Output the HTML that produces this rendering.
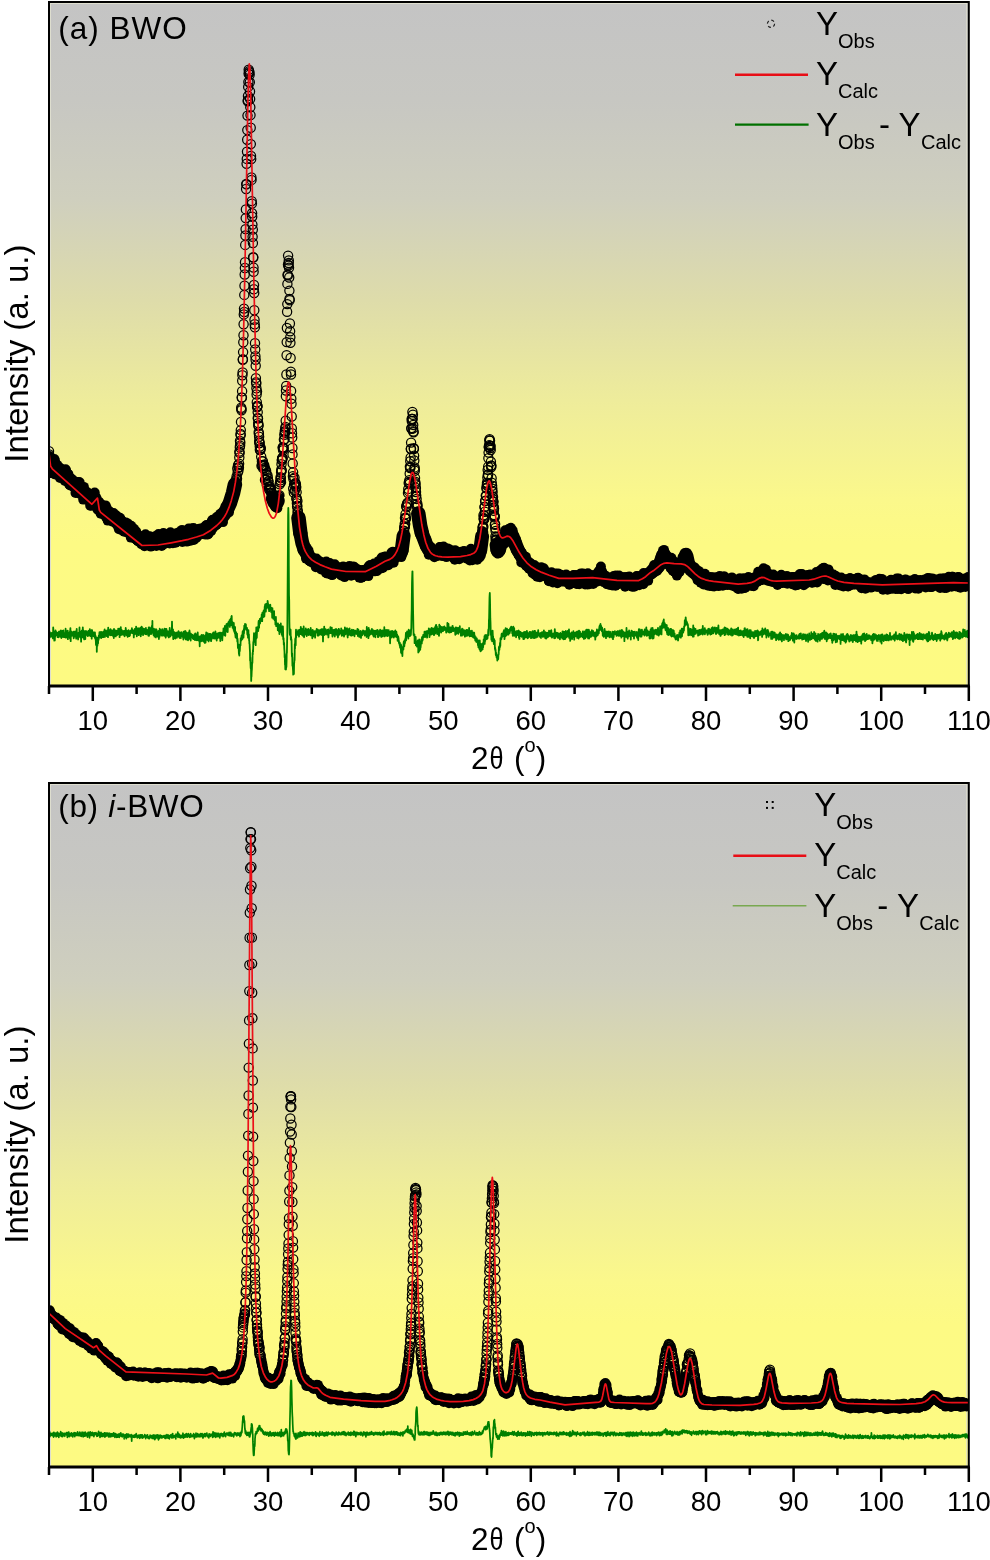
<!DOCTYPE html>
<html><head><meta charset="utf-8"><style>
html,body{margin:0;padding:0;background:#fff;}
svg{display:block;}
text{font-family:"Liberation Sans", Arial, sans-serif;fill:#000;}
.tl{font-size:27.5px;}
.al{font-size:31.5px;}
.il{font-size:33px;}
.pl{font-size:31.5px;}
.lg{font-size:33px;}
.sb{font-size:20px;}
.ul{fill:none;stroke:#000;stroke-linejoin:round;stroke-linecap:round;}
.ob{fill:none;stroke:none;marker-start:url(#mk);marker-mid:url(#mk);marker-end:url(#mk);}
.of{fill:none;stroke:none;marker-start:url(#mf);marker-mid:url(#mf);marker-end:url(#mf);}
.rc{fill:none;stroke:#ec1018;stroke-width:1.7;stroke-linejoin:round;}
.gA{fill:none;stroke:#008000;stroke-width:1.8;stroke-linejoin:round;}
.gB{fill:none;stroke:#008000;stroke-width:1.7;stroke-linejoin:round;}
</style></head><body>
<svg width="990" height="1560" viewBox="0 0 990 1560">
<defs><linearGradient id="bg" x1="0" y1="0" x2="0" y2="1">
<stop offset="0" stop-color="#c4c4c4"/>
<stop offset="0.143" stop-color="#c7c7c2"/>
<stop offset="0.289" stop-color="#cfcfbe"/>
<stop offset="0.436" stop-color="#dedcaa"/>
<stop offset="0.582" stop-color="#eeec9b"/>
<stop offset="0.728" stop-color="#fbf88b"/>
<stop offset="0.79" stop-color="#fdfa84"/>
<stop offset="1" stop-color="#fdfa82"/>
</linearGradient>
<marker id="mk" markerUnits="userSpaceOnUse" markerWidth="12" markerHeight="12" refX="6" refY="6" overflow="visible"><circle cx="6" cy="6" r="4.6" fill="none" stroke="#000" stroke-width="1.25"/></marker>
<marker id="mf" markerUnits="userSpaceOnUse" markerWidth="12" markerHeight="12" refX="6" refY="6" overflow="visible"><circle cx="6" cy="6" r="5" fill="#000"/></marker>
</defs>
<g transform="translate(0,0)">
<rect x="49" y="2" width="919.8" height="684" fill="url(#bg)"/>
<rect x="50.5" y="3.5" width="916.3" height="682" fill="none" stroke="#dedecf" stroke-width="1"/>
<svg x="49" y="2" width="919.8" height="684" viewBox="49 2 919.8 684" overflow="hidden"><path class="ul" stroke-width="12.5" d="M736.7 583.3 740 583.3M862.3 583.3 882.4 584.4 917.6 583.3"/>
<path class="ul" stroke-width="13" d="M324.8 566.7 331.4 569.1 344 571.3 360.3 571.8 365.4 571.7 375.7 566.7M530.3 566.6 535 569.8 540.8 572.7 558.8 579.3 596.1 578.9 597.6 577.7 599.5 572.5 600.4 571.5 603 578.1 604.7 579.8 617 581.1 633.6 581.2 638.7 581.1 642.6 579.1 653.8 570.7 658.2 566.7M673.8 566.4 675.5 569.9 676.6 570.8 677.6 569.9 679.2 566.7M689 566.2 690.6 569 695.8 574.2 699.5 577 703.4 578.8 711.6 580.7 736.7 583.3M740 583.3 748 582.6 752.3 581.6 755.6 579.6 761 574.8 763.1 573.9 765.6 574.6 771.7 579.5 773.8 580.2 776.6 580.4 810.4 579.2 815.5 577.9 822 574.1 824.4 573.4 827.1 574.2 834.4 579 839.7 581 847.9 582.3 862.3 583.3M917.6 583.3 953.6 582.2 968.8 582.5"/>
<path class="ul" stroke-width="13.5" d="M304.6 549.9 307.4 554.9 311.6 559.8 317.4 563.3 324.8 566.7M375.7 566.7 385 561.4 390.6 559.1 396.6 553.9 397.6 553.7 400.1 554.4 401 553.1 401.7 550.5M429 549.8 431.5 552.3 434.6 553.4 448.1 552.5 462.6 555.3 467.9 555.3 473 554.4 477.5 556.5 478.4 556 479.1 554.8 480.3 550M497.3 549.9 498 551.7 498.9 550.1M517.7 549.7 523.4 559.4 526.8 563.4 530.3 566.6M658.2 566.7 659.7 564.2 662.6 556 663.6 554.6 664.5 555.4 667.6 562 668.9 563 672 564.1 673.8 566.4M679.2 566.7 680.4 564.9 683 562.6 685.9 554.4 686.7 556.1 689 566.2"/>
<path class="ul" stroke-width="14" d="M132.6 533.2 142 540.5 158.1 540.2 181.6 536.4 194.2 533.4M300.4 533.3 302.3 543 304.6 549.9M401.7 550.5 403.6 535.7M421.8 532.9 426 544 429 549.8M480.3 550 482.1 536.4M496.6 544.9 497.3 549.9M498.9 550.1 501.7 540.2 508.5 533.4M510.5 533.3 512.6 536.6 517.7 549.7"/>
<path class="ul" stroke-width="14.5" d="M49.4 461 50.4 465.4 51.1 464.2 51.8 464.2 91.7 500.2 93.5 498.7 94.4 498.8 96.5 504.3 97 504.5 97.5 503.3 99.3 508.2 100.2 508 132.6 533.2M194.2 533.4 203.4 530.5 209.3 527.1 215.8 522.4 223.3 515 226.8 509.8 229.8 503.3 233 493.1 234.9 484.5M273.1 498.7 274.5 502 275.5 503.2 276.6 502.7 277.5 500.8M298.5 517.8 300.4 533.3M418.3 513.5 420.1 525.5 421.8 532.9M508.5 533.4 509.6 533 510.5 533.3"/>
<polyline class="of" points="49.5,456 49.9,465.6 50.2,466.1 50.6,473.1 50.9,458.3 51.3,458.2 51.6,470.2 52,464 52.3,463 52.7,467.3 53,462.6 53.4,465.2 53.7,473.7 54.1,468.2 54.4,459.1 54.8,460.2 55.1,468.9 55.5,465.9 55.8,474.6 56.2,468.8 56.5,466.7 56.9,468.6 57.2,464.7 57.6,467.3 57.9,469.4 58.3,466.5 58.6,468.5 59,471 59.3,472.4 59.7,469.4 60,477.9 60.4,474 60.7,468.2 61.1,475.4 61.4,472.1 61.8,473.3 62.1,470.7 62.5,472.7 62.8,475.6 63.2,471.6 63.5,472.3 63.9,474.6 64.2,474.2 64.6,474.2 64.9,480.9 65.3,475.2 65.6,469.3 66,470.3 66.3,476.4 66.7,477.3 67,477 67.4,478.5 67.7,474.1 68.1,474 68.4,474.3 68.8,478.4 69.1,484 69.5,484.7 69.8,479.3 70.2,485.4 70.5,483.4 70.9,483.5 71.3,480.5 71.6,480.1 72,479.2 72.3,484.5 72.7,486.2 73,484.2 73.4,481.8 73.7,481.5 74.1,481.2 74.4,484.3 74.8,485.2 75.1,481.9 75.5,492.9 75.8,485.2 76.2,490.2 76.5,490 76.9,490.9 77.2,482.6 77.6,492.7 77.9,489.1 78.3,484.9 78.6,482.1 79,492.3 79.3,492.1 79.7,482.3 80,493.9 80.4,488.1 80.7,493.8 81.1,487.5 81.4,492 81.8,493.5 82.1,492.9 82.5,492.5 82.8,494.4 83.2,499.6 83.5,492.2 83.9,486.9 84.2,490.9 84.6,494.5 84.9,495.3 85.3,495.1 85.6,496.1 86,494.3 86.3,491.7 86.7,491.8 87,500 87.4,498.3 87.7,498.5 88.1,495.2 88.4,498.1 88.8,499.5 89.1,493.7 89.5,498.5 89.8,496.5 90.2,505.8 90.5,496.5 90.9,499.8 91.2,500.9 91.6,505.6 91.9,499.5 92.3,503.1 92.6,499.6 93,499 93.3,498.6 93.7,499 94,496.4 94.4,495.5 94.7,492.6 95.1,498.3 95.4,502.4 95.8,500 96.1,501.1 96.5,503.3 96.8,502.1 97.2,505.9 97.5,504.1 97.9,502.1 98.2,502.6 98.6,509 98.9,508.7 99.3,506.5 99.6,504 100,506 100.3,510.6 100.7,513.8 101,509.4 101.4,507.7 101.7,504.6 102.1,506.1 102.4,512.7 102.8,507.7 103.1,507 103.5,510.3 103.8,514.4 104.2,508.1 104.5,509.7 104.9,510.6 105.2,509.3 105.6,505.4 105.9,517 106.3,511.9 106.6,507.7 107,512.4 107.3,519 107.7,520.6 108,515.4 108.4,515.1 108.7,511.5 109.1,511 109.4,515.6 109.8,519.9 110.1,517.9 110.5,517.2 110.8,512.6 111.2,520.2 111.5,515.8 111.9,521.5 112.2,517.6 112.6,517.1 112.9,516.8 113.3,517.2 113.6,513.1 114,518.9 114.3,518.6 114.7,516.1 115.1,520 115.4,522.6 115.8,520.7 116.1,516.1 116.5,515.5 116.8,524.8 117.2,521 117.5,523.7 117.9,525.3 118.2,523.5 118.6,518.4 118.9,529.2 119.3,522.3 119.6,522.6 120,517.7 120.3,519.5 120.7,527.7 121,519.5 121.4,527.3 121.7,523.1 122.1,528.3 122.4,525.8 122.8,530.6 123.1,521.7 123.5,526 123.8,528.6 124.2,531.6 124.5,526.9 124.9,531.6 125.2,527.6 125.6,529.5 125.9,522.6 126.3,525.6 126.6,530.6 127,532.2 127.3,528.2 127.7,523.4 128,526.4 128.4,532.5 128.7,530.7 129.1,528.1 129.4,532.3 129.8,526.8 130.1,529.7 130.5,534.6 130.8,537.6 131.2,525.7 131.5,531.5 131.9,532.8 132.2,531.8 132.6,528.2 132.9,529.9 133.3,534.4 133.6,536.6 134,528.7 134.3,535 134.7,534.7 135,538.6 135.4,534.3 135.7,534.4 136.1,531.4 136.4,536.6 136.8,539.9 137.1,540.2 137.5,534.4 137.8,540.8 138.2,541.4 138.5,536.9 138.9,540.7 139.2,536.8 139.6,539.7 139.9,538.3 140.3,537.2 140.6,537.5 141,541 141.3,544.1 141.7,536.7 142,542.2 142.4,539.4 142.7,539.4 143.1,539.4 143.4,537.5 143.8,540 144.1,538.9 144.5,546.3 144.8,541.4 145.2,540.4 145.5,534.2 145.9,540 146.2,539.8 146.6,541.5 146.9,541.9 147.3,540 147.6,537.1 148,538.2 148.3,537.2 148.7,537.8 149,537.4 149.4,536.5 149.7,539.9 150.1,536.7 150.4,536.5 150.8,546.6 151.1,542.4 151.5,545.2 151.8,541.4 152.2,539.5 152.5,543.2 152.9,538.7 153.2,541.4 153.6,539.1 153.9,539.1 154.3,544.3 154.6,540.1 155,538.4 155.3,536.3 155.7,536.6 156,540.5 156.4,546 156.7,539 157.1,538.8 157.4,538.5 157.8,539.1 158.1,538.8 158.5,534 158.9,542.3 159.2,534.9 159.6,542 159.9,539.2 160.3,543.3 160.6,542.5 161,538.9 161.3,538.2 161.7,546 162,538 162.4,543.3 162.7,544.1 163.1,541 163.4,533.1 163.8,537.6 164.1,538.6 164.5,543.9 164.8,535.4 165.2,538.5 165.5,541.2 165.9,536.5 166.2,538.8 166.6,537.8 166.9,542.3 167.3,536.8 167.6,534.7 168,538.5 168.3,541.5 168.7,533.9 169,537.1 169.4,537.1 169.7,543.5 170.1,534 170.4,532.3 170.8,536.1 171.1,539.7 171.5,538.3 171.8,536.7 172.2,535.5 172.5,533.8 172.9,543.2 173.2,534.7 173.6,540.3 173.9,537.7 174.3,534.6 174.6,537.8 175,537.4 175.3,539 175.7,542.8 176,541.6 176.4,533.3 176.7,535.9 177.1,535.3 177.4,540.1 177.8,540.2 178.1,539.7 178.5,537.8 178.8,532.5 179.2,532.3 179.5,534.7 179.9,532.6 180.2,532.2 180.6,537.1 180.9,536.7 181.3,536.9 181.6,537.2 182,529.9 182.3,541.9 182.7,532.9 183,533.4 183.4,538.3 183.7,532.3 184.1,535.4 184.4,541.3 184.8,536.1 185.1,539.6 185.5,536.2 185.8,534.2 186.2,536.4 186.5,537.7 186.9,541.6 187.2,536 187.6,534.5 187.9,532.5 188.3,536.2 188.6,528.6 189,537.5 189.3,535.9 189.7,537.4 190,534.4 190.4,539.6 190.7,540.7 191.1,535.6 191.4,528.6 191.8,532.7 192.1,535 192.5,535.1 192.8,534.4 193.2,538.1 193.5,528.1 193.9,539.9 194.2,533.7 194.6,533.7 194.9,537.1 195.3,529.9 195.6,531.3 196,536.5 196.3,537.9 196.7,533.7 197,536.5 197.4,531.2 197.7,536.3 198.1,532.4 198.4,532.5 198.8,529 199.1,530.3 199.5,532.3 199.8,529.1 200.2,532.2 200.5,528.4 200.9,530.7 201.2,532.4 201.6,533.1 201.9,531.8 202.3,529.5 202.7,534 203,530.7 203.4,528.5 203.7,531.4 204.1,532.9 204.4,530.5 204.8,531.8 205.1,529.4 205.5,534.6 205.8,525.7 206.2,528.9 206.5,525.1 206.9,531.3 207.2,529.1 207.6,531.5 207.9,534.5 208.3,533.9 208.6,528.4 209,527.1 209.3,529.9 209.7,527.7 210,529.4 210.4,529 210.7,523.3 211.1,531.3 211.4,523.1 211.8,521.1 212.1,523.4 212.5,519.8 212.8,528.1 213.2,525.4 213.5,526.9 213.9,526.1 214.2,524.1 214.6,523.3 214.9,524.7 215.3,521.5 215.6,518.8 216,525.1 216.3,520.5 216.7,517.1 217,524.3 217.4,518.3 217.7,523 218.1,522.1 218.4,520.5 218.8,520.8 219.1,518.1 219.5,516 219.8,519.9 220.2,513.7 220.5,517.1 220.9,516.3 221.2,518.3 221.6,516.3 221.9,515.8 222.3,518.7 222.6,512.7 223,522.1 223.3,517.1 223.7,511.4 224,512.7 224.4,515.6 224.7,513.1 225.1,512.6 225.4,506.5 225.8,512.1 226.1,511 226.5,508.5 226.8,510.3 227.2,509.4 227.5,503.8 227.9,510.2 228.2,512.1 228.6,510.2 228.9,512.4 229.3,504.5 229.6,504.5 230,504.3 230.3,502.1 230.7,499 231,500.4 231.4,499.8 231.7,498.6 232.1,493.2 232.4,491.1 232.8,496.7 233.1,499 233.5,490.9 233.8,495 234.2,489.7 234.5,491.9 234.9,483 273.1,499.6 273.4,501.9 273.8,504.3 274.1,500.9 274.5,500.5 274.8,505.9 275.2,504.2 275.5,507.3 275.9,506.4 276.2,503.8 276.6,505.3 276.9,499.7 277.3,508.3 298.7,519 299,518.3 299.4,526.2 299.7,529.8 300.1,528.6 300.4,533.6 300.8,532.5 301.1,537.9 301.5,541.1 301.8,540.1 302.2,544.2 302.5,550 302.9,545.1 303.2,546.8 303.6,548.8 303.9,547.1 304.3,549.4 304.6,549.6 305,551.9 305.3,550.8 305.7,552.9 306,558.6 306.4,554.1 306.7,547.8 307.1,557.9 307.4,556.1 307.8,556.5 308.1,556.7 308.5,550.4 308.8,559.6 309.2,560.6 309.5,553.8 309.9,555.8 310.2,558.7 310.6,561.1 310.9,561.9 311.3,558.1 311.6,560 312,559.9 312.3,559.1 312.7,557.8 313,558.9 313.4,558.3 313.7,562.4 314.1,561.7 314.4,561 314.8,560 315.1,561.8 315.5,562.2 315.8,567.2 316.2,561.2 316.5,558.6 316.9,564.8 317.2,561.6 317.6,562.2 317.9,566.6 318.3,561.6 318.6,561.9 319,563.2 319.3,562.6 319.7,561.2 320,565.5 320.4,565.7 320.7,564 321.1,569.5 321.4,562.3 321.8,564.7 322.1,567.4 322.5,565.4 322.8,566.1 323.2,566.1 323.5,565.6 323.9,567.8 324.2,566.9 324.6,565.3 324.9,565.3 325.3,565.2 325.6,569.5 326,573 326.3,561.5 326.7,564.8 327,571.9 327.4,565.7 327.7,573.6 328.1,569.9 328.4,563.4 328.8,571.4 329.1,568.9 329.5,572.3 329.8,563 330.2,568.6 330.5,569.4 330.9,569.1 331.2,574.8 331.6,567.9 331.9,568.8 332.3,575.1 332.6,569.5 333,572 333.3,568.1 333.7,572.1 334.1,568.1 334.4,572.9 334.8,564.2 335.1,571.3 335.5,567.5 335.8,568.8 336.2,567.6 336.5,570.6 336.9,570.1 337.2,572 337.6,568.5 337.9,570 338.3,570.3 338.6,572 339,569.5 339.3,567.3 339.7,573 340,571.8 340.4,574.2 340.7,574.2 341.1,575.4 341.4,572.6 341.8,569.9 342.1,573.6 342.5,570.9 342.8,569.6 343.2,566.5 343.5,569 343.9,567.9 344.2,571.7 344.6,577.1 344.9,572.1 345.3,572 345.6,567.4 346,569.3 346.3,572.4 346.7,574.3 347,570.9 347.4,572.7 347.7,571 348.1,571.1 348.4,573.5 348.8,570.7 349.1,571.3 349.5,565.9 349.8,567.2 350.2,571.4 350.5,569.1 350.9,574.7 351.2,575.8 351.6,568.9 351.9,572 352.3,571.6 352.6,571.2 353,571.1 353.3,566.4 353.7,571.4 354,571.8 354.4,568.8 354.7,567.3 355.1,571.9 355.4,571.8 355.8,570.2 356.1,574.7 356.5,571.5 356.8,575.3 357.2,572.7 357.5,569.3 357.9,569.7 358.2,572.4 358.6,570 358.9,575 359.3,577.6 359.6,571.1 360,572.2 360.3,572.2 360.7,577.6 361,577.6 361.4,577.6 361.7,571.6 362.1,571.6 362.4,572.6 362.8,570.7 363.1,573.9 363.5,570 363.8,576.5 364.2,572.7 364.5,573.1 364.9,571 365.2,574.7 365.6,572.3 365.9,573.5 366.3,569.1 366.6,569.7 367,570.7 367.3,570.7 367.7,569.9 368,569.8 368.4,576.1 368.7,566.2 369.1,566.3 369.4,571.5 369.8,567.1 370.1,565.1 370.5,566.8 370.8,568.2 371.2,566.2 371.5,570.8 371.9,568.4 372.2,571.2 372.6,570.3 372.9,565.7 373.3,568.4 373.6,566.1 374,563.5 374.3,571.2 374.7,565.9 375,568.3 375.4,571.2 375.7,566 376.1,565.3 376.4,565.9 376.8,571.1 377.1,564.5 377.5,562.9 377.9,567.4 378.2,567.7 378.6,566.7 378.9,560.9 379.3,564.4 379.6,561 380,566 380.3,568.7 380.7,568.3 381,565.2 381.4,564.2 381.7,557.5 382.1,558.9 382.4,558.1 382.8,567.9 383.1,561.1 383.5,557.5 383.8,563 384.2,559.8 384.5,556.7 384.9,561.4 385.2,560.1 385.6,556.6 385.9,560 386.3,565.5 386.6,562.5 387,561.1 387.3,558.6 387.7,564.2 388,557.6 388.4,565.3 388.7,558.7 389.1,561 389.4,556.9 389.8,557.8 390.1,558.6 390.5,560.2 390.8,557.3 391.2,559.1 391.5,552.5 391.9,558.2 392.2,556.7 392.6,554.9 392.9,551.7 393.3,555.1 393.6,562.8 394,552.3 394.3,559.1 394.7,559 395,557 395.4,551.9 395.7,555.8 396.1,557.2 396.4,555.6 396.8,553.2 397.1,552.7 397.5,555.6 397.8,555.5 398.2,555.6 398.5,553.4 398.9,551.9 399.2,551.9 399.6,552.9 399.9,554.2 400.3,552.6 400.6,552.7 401,554.3 401.3,557.1 401.7,551.4 402,553.2 402.4,547.2 402.7,546.4 403.1,543.4 403.4,537.5 418.3,512.8 418.7,518.7 419,515.5 419.4,524.8 419.7,524.6 420.1,529.3 420.4,526.7 420.8,535.7 421.1,533.6 421.5,533.5 421.8,530 422.2,534.8 422.5,530 422.9,536.2 423.2,535 423.6,535.1 423.9,542.1 424.3,538.9 424.6,540.8 425,546.8 425.3,540.5 425.7,542.3 426,544.1 426.4,539.4 426.7,545.4 427.1,547.4 427.4,547.4 427.8,548.8 428.1,550.4 428.5,545.4 428.8,554.7 429.2,549.1 429.5,553.2 429.9,552.7 430.2,550 430.6,547.6 430.9,553.3 431.3,547.2 431.6,550.4 432,554.7 432.3,553.7 432.7,552.9 433,553.6 433.4,552.8 433.7,550.3 434.1,553 434.4,557.3 434.8,554.5 435.1,554.4 435.5,554 435.8,555.5 436.2,555.6 436.5,552.8 436.9,553.6 437.2,550.4 437.6,554.7 437.9,555.4 438.3,555.7 438.6,551.2 439,552.3 439.3,550.5 439.7,547.1 440,551.8 440.4,552.2 440.7,546.9 441.1,552.1 441.4,553.9 441.8,555.6 442.1,550.7 442.5,550.8 442.8,556.1 443.2,554.3 443.6,546.6 443.9,551.4 444.3,549.2 444.6,552.1 445,552.4 445.3,548.2 445.7,553.4 446,550.5 446.4,557.1 446.7,550.9 447.1,552.7 447.4,554 447.8,548.5 448.1,550.8 448.5,550.5 448.8,551 449.2,555.7 449.5,552.4 449.9,549.6 450.2,553.2 450.6,552.3 450.9,552.4 451.3,554.5 451.6,553.5 452,552.6 452.3,555.3 452.7,557.5 453,552.8 453.4,553 453.7,556.2 454.1,551.6 454.4,555.5 454.8,559.8 455.1,550.3 455.5,555.4 455.8,554.8 456.2,552.1 456.5,552.8 456.9,551.4 457.2,554.7 457.6,553.5 457.9,558.2 458.3,556.5 458.6,552.6 459,554.8 459.3,559.2 459.7,555.5 460,554.3 460.4,554.7 460.7,556 461.1,554.2 461.4,555.7 461.8,552.8 462.1,555.3 462.5,551.4 462.8,556 463.2,552.9 463.5,557.1 463.9,554.1 464.2,551.1 464.6,556 464.9,557.5 465.3,557.2 465.6,557.5 466,556.8 466.3,558.5 466.7,553.2 467,557.4 467.4,553.7 467.7,552.4 468.1,556.8 468.4,552.2 468.8,554.3 469.1,555.2 469.5,554.8 469.8,560.5 470.2,553 470.5,558.5 470.9,548.7 471.2,554.1 471.6,557.7 471.9,556.2 472.3,560.2 472.6,556.3 473,550.6 473.3,551.6 473.7,555.3 474,551 474.4,554.7 474.7,557.4 475.1,559.1 475.4,557.1 475.8,555.5 476.1,556.8 476.5,551.1 476.8,550.8 477.2,559.8 477.5,557.2 477.9,554.3 478.2,549.9 478.6,551.6 478.9,552.5 479.3,555.1 479.6,554.3 480,549.6 480.3,550.9 480.7,547.8 481,549.6 481.4,541.3 481.7,539.1 482.1,531.1 496.8,546.7 497.2,544.2 497.5,548.6 497.9,547.9 498.2,553.2 498.6,548.6 498.9,543.6 499.3,546.2 499.6,547.1 500,551.3 500.3,544.7 500.7,543.5 501,540.2 501.4,540.1 501.7,537.5 502.1,538.2 502.4,540.8 502.8,541.1 503.1,537.6 503.5,540 503.8,535.6 504.2,535.8 504.5,538.7 504.9,543.5 505.2,530.3 505.6,533.7 505.9,534.3 506.3,533.7 506.6,534.1 507,531.9 507.3,535.9 507.7,537.4 508,533.3 508.4,534.8 508.7,529.1 509.1,529.8 509.4,534.8 509.8,534.7 510.1,536.8 510.5,529.7 510.8,527.8 511.2,530.4 511.5,534 511.9,537.8 512.2,533.7 512.6,530.2 512.9,534.4 513.3,542.5 513.6,537.9 514,545.8 514.3,539.5 514.7,542.1 515,543.4 515.4,542.2 515.7,541.7 516.1,539.7 516.4,549.3 516.8,542.6 517.1,549.2 517.5,549.4 517.8,552.1 518.2,554.1 518.5,552.2 518.9,555.5 519.2,549.1 519.6,552.4 519.9,550.8 520.3,552 520.6,557.7 521,552 521.3,562.5 521.7,552.6 522,559.4 522.4,555.6 522.7,557.8 523.1,555.8 523.4,557.6 523.8,561.6 524.1,560.3 524.5,561.1 524.8,563.2 525.2,559.7 525.5,559.3 525.9,556.8 526.2,565.9 526.6,565.5 526.9,566.1 527.3,560.9 527.6,561.4 528,563.4 528.3,564.7 528.7,566.7 529,568.8 529.4,562.9 529.7,566.8 530.1,562.8 530.4,566.2 530.8,566 531.2,565.4 531.5,565.7 531.9,570.7 532.2,568.4 532.6,573.2 532.9,569 533.3,568.4 533.6,570.7 534,569.5 534.3,565.1 534.7,567.4 535,574.6 535.4,567.8 535.7,566.9 536.1,571.5 536.4,568.3 536.8,567.3 537.1,576.7 537.5,568.4 537.8,574.8 538.2,568.6 538.5,569.9 538.9,570.3 539.2,569.1 539.6,572.4 539.9,577.3 540.3,570 540.6,568.6 541,573.9 541.3,567.2 541.7,575.4 542,576 542.4,571.9 542.7,574.6 543.1,569.5 543.4,570.4 543.8,568.2 544.1,575.4 544.5,571.5 544.8,573.4 545.2,573.1 545.5,573.3 545.9,571.5 546.2,572.9 546.6,576.7 546.9,575.9 547.3,574.9 547.6,574.4 548,578.4 548.3,578.1 548.7,580.6 549,581.2 549.4,574.2 549.7,576.6 550.1,573.3 550.4,579 550.8,577.1 551.1,577.6 551.5,572.2 551.8,574.6 552.2,578.8 552.5,575.2 552.9,582.4 553.2,578.6 553.6,574.4 553.9,577.3 554.3,578.4 554.6,579.8 555,581.6 555.3,573.4 555.7,576 556,579.2 556.4,579.1 556.7,575.9 557.1,578 557.4,583.3 557.8,581.8 558.1,573.4 558.5,574.1 558.8,581.3 559.2,578.3 559.5,579.2 559.9,578.5 560.2,578.7 560.6,577.1 560.9,574.8 561.3,579.5 561.6,576.1 562,578 562.3,581.6 562.7,580 563,580.6 563.4,576.2 563.7,579.5 564.1,579.4 564.4,578.3 564.8,575.7 565.1,576.5 565.5,580.3 565.8,582 566.2,574.6 566.5,579.1 566.9,577.3 567.2,581.1 567.6,580.1 567.9,577.9 568.3,581.8 568.6,581.6 569,579.2 569.3,584.8 569.7,578.5 570,582.5 570.4,576.7 570.7,577.9 571.1,578 571.4,578 571.8,582.2 572.1,583 572.5,577.8 572.8,580.2 573.2,575.9 573.5,575.1 573.9,583 574.2,575.3 574.6,576.9 575,577.8 575.3,581.2 575.7,580.4 576,576.5 576.4,583.4 576.7,584 577.1,575.1 577.4,580 577.8,579.8 578.1,575.7 578.5,580.1 578.8,582.6 579.2,584.3 579.5,581.4 579.9,580.2 580.2,581.6 580.6,574.2 580.9,573.4 581.3,580.2 581.6,582 582,574.5 582.3,579 582.7,581.4 583,573.6 583.4,580 583.7,579.7 584.1,576.2 584.4,574.8 584.8,574.7 585.1,584.5 585.5,582.2 585.8,576.8 586.2,576.9 586.5,576.2 586.9,577.5 587.2,580.8 587.6,584.4 587.9,573.2 588.3,580 588.6,578.4 589,578.4 589.3,584.3 589.7,580.5 590,579.4 590.4,579 590.7,582.4 591.1,575.5 591.4,575.5 591.8,577.5 592.1,579.9 592.5,579.8 592.8,575.5 593.2,583.9 593.5,580.3 593.9,578.2 594.2,575.3 594.6,579.2 594.9,577 595.3,580.8 595.6,580.6 596,579.4 596.3,577.5 596.7,581.7 597,577.9 597.4,578.9 597.7,579.4 598.1,575.7 598.4,573.9 598.8,576 599.1,574.3 599.5,574.5 599.8,574.7 600.2,569.6 600.5,570.8 600.9,566.5 601.2,578.6 601.6,574.2 601.9,575.3 602.3,578.2 602.6,574.8 603,576.4 603.3,576.9 603.7,582.1 604,575.1 604.4,577.8 604.7,577.5 605.1,581.5 605.4,576.4 605.8,577.3 606.1,576.1 606.5,579.1 606.8,584.1 607.2,579 607.5,583 607.9,580.5 608.2,581.5 608.6,577.9 608.9,584.8 609.3,580.6 609.6,580.8 610,583.5 610.3,578.9 610.7,577.9 611,581.2 611.4,585.2 611.7,584 612.1,582.9 612.4,582 612.8,585.4 613.1,581 613.5,582.9 613.8,575.9 614.2,582.7 614.5,581 614.9,584 615.2,582.2 615.6,585.8 615.9,575.4 616.3,579.7 616.6,581 617,581.9 617.3,581.9 617.7,577.6 618,577 618.4,584 618.8,581.1 619.1,575.6 619.5,583.4 619.8,578.7 620.2,582.8 620.5,581.2 620.9,580.7 621.2,581.7 621.6,579.2 621.9,580.6 622.3,582.8 622.6,577.3 623,577.3 623.3,580.3 623.7,580.1 624,582.8 624.4,578.7 624.7,578.9 625.1,586.7 625.4,578.3 625.8,582.9 626.1,577.3 626.5,580 626.8,577 627.2,578.8 627.5,580.2 627.9,582.6 628.2,577.8 628.6,581.2 628.9,578.3 629.3,576.6 629.6,584.3 630,578.4 630.3,582.3 630.7,577.7 631,580.7 631.4,583.7 631.7,579.4 632.1,586.8 632.4,579.9 632.8,580.6 633.1,582.9 633.5,580.9 633.8,578.6 634.2,586.8 634.5,578.2 634.9,584.2 635.2,581.8 635.6,583.6 635.9,578.2 636.3,580.2 636.6,576 637,580.9 637.3,580 637.7,576.2 638,583 638.4,577.6 638.7,581.6 639.1,585.3 639.4,578.8 639.8,582.8 640.1,580.4 640.5,580.2 640.8,576.1 641.2,577.6 641.5,578.8 641.9,579 642.2,578.5 642.6,576.2 642.9,580 643.3,584.3 643.6,573.1 644,582.3 644.3,578.9 644.7,579.3 645,573.8 645.4,575.2 645.7,577.4 646.1,577.9 646.4,577 646.8,575.6 647.1,574.1 647.5,573.5 647.8,574 648.2,580.7 648.5,575.7 648.9,576.4 649.2,571.7 649.6,573.8 649.9,573.1 650.3,574.1 650.6,574.7 651,570 651.3,573.3 651.7,574.1 652,571.6 652.4,568.3 652.7,570.4 653.1,572.6 653.4,568.3 653.8,570.9 654.1,565.1 654.5,571.8 654.8,570.2 655.2,566.7 655.5,568 655.9,569.5 656.2,567.2 656.6,567 656.9,570.9 657.3,570.2 657.6,567.8 658,568.2 658.3,567.5 658.7,562.3 659,565.4 659.4,566.6 659.7,566.2 660.1,561.8 660.4,557.5 660.8,560.2 661.1,557.6 661.5,554.4 661.8,556.5 662.2,554.5 662.6,553.9 662.9,550.9 663.3,556.9 663.6,552.2 664,549.9 664.3,555.3 664.7,552.4 665,557.3 665.4,558.8 665.7,558.5 666.1,562.3 666.4,563.6 666.8,560.9 667.1,558.4 667.5,561.3 667.8,556.5 668.2,558.5 668.5,563 668.9,565 669.2,562.5 669.6,558.1 669.9,560.6 670.3,563.4 670.6,568.3 671,565.9 671.3,557.8 671.7,560.5 672,559.4 672.4,567.3 672.7,570.7 673.1,561 673.4,562.3 673.8,569.8 674.1,563.6 674.5,571.9 674.8,564.7 675.2,572.2 675.5,565.5 675.9,566.1 676.2,568.3 676.6,572.6 676.9,575.6 677.3,573.1 677.6,568.1 678,572.8 678.3,570.5 678.7,567.1 679,569.5 679.4,572.3 679.7,562.6 680.1,568 680.4,570 680.8,562.7 681.1,568.6 681.5,567.5 681.8,567.1 682.2,564.5 682.5,557.4 682.9,566.5 683.2,565.5 683.6,562.3 683.9,558.4 684.3,557.8 684.6,554.7 685,557.6 685.3,555.1 685.7,555.5 686,554.1 686.4,554 686.7,554.6 687.1,557.5 687.4,561.2 687.8,562.1 688.1,558.2 688.5,560.6 688.8,565.6 689.2,565.6 689.5,567.1 689.9,571.3 690.2,568.9 690.6,570.2 690.9,567.6 691.3,570.5 691.6,565.2 692,570.2 692.3,573.3 692.7,567.4 693,568.3 693.4,572.3 693.7,570.6 694.1,573.3 694.4,570.8 694.8,567.6 695.1,570.5 695.5,573 695.8,569.6 696.2,569.5 696.5,572.7 696.9,576.8 697.2,575.9 697.6,580.2 697.9,576.3 698.3,574.6 698.6,570.9 699,573.2 699.3,577 699.7,575.3 700,577.2 700.4,578.5 700.7,582.6 701.1,577.9 701.4,581.9 701.8,573.5 702.1,581.1 702.5,578.6 702.8,578.6 703.2,580.7 703.5,584.5 703.9,578.8 704.2,578.3 704.6,583.6 704.9,573.8 705.3,578.3 705.6,582.7 706,578.4 706.4,579.6 706.7,583.9 707.1,581.9 707.4,585.5 707.8,578.5 708.1,580.2 708.5,579.2 708.8,581.9 709.2,580.9 709.5,582 709.9,586 710.2,583.9 710.6,577.1 710.9,578.5 711.3,579.4 711.6,581.9 712,578.2 712.3,586.3 712.7,579 713,580.3 713.4,581.9 713.7,577.2 714.1,586.5 714.4,583.5 714.8,581.5 715.1,583.4 715.5,580.5 715.8,580.6 716.2,582.7 716.5,584.3 716.9,581.8 717.2,578.8 717.6,579.5 717.9,576.9 718.3,578.3 718.6,586.1 719,581.3 719.3,577 719.7,576.1 720,581.8 720.4,581.8 720.7,577.2 721.1,583.1 721.4,579.1 721.8,581.9 722.1,579 722.5,582.8 722.8,585.7 723.2,579.1 723.5,576.5 723.9,579.3 724.2,578.5 724.6,576.6 724.9,578.9 725.3,583.3 725.6,580 726,581.3 726.3,582.2 726.7,582.1 727,582.4 727.4,585.1 727.7,581.2 728.1,581.3 728.4,582.6 728.8,580.4 729.1,582.1 729.5,580.9 729.8,582 730.2,579.2 730.5,581.3 730.9,580.8 731.2,580.9 731.6,585.4 731.9,577.4 732.3,582.1 732.6,579.1 733,584.6 733.3,584 733.7,585.7 734,579.7 734.4,581.3 734.7,586.3 735.1,586.4 735.4,583.4 735.8,582.4 736.1,581.8 736.5,587.4 736.8,586.9 737.2,584.3 737.5,582.7 737.9,588.5 738.2,588.9 738.6,587 738.9,580.9 739.3,578.5 739.6,582.2 740,582.9 740.3,578.4 740.7,581.9 741,585.7 741.4,581.7 741.7,588.7 742.1,588 742.4,580.7 742.8,585.5 743.1,583 743.5,580.1 743.8,578.3 744.2,580.9 744.5,583.3 744.9,587.9 745.2,580.6 745.6,587.4 745.9,582 746.3,580.6 746.6,582.1 747,584.5 747.3,579.4 747.7,579.9 748,584.3 748.4,577.1 748.7,585.3 749.1,584.8 749.4,580.3 749.8,582.5 750.2,583.4 750.5,585.4 750.9,583.5 751.2,580.1 751.6,584.2 751.9,578.1 752.3,585.9 752.6,578.8 753,581.9 753.3,581.2 753.7,586.2 754,577.4 754.4,583.7 754.7,582.1 755.1,578.8 755.4,582.2 755.8,577.1 756.1,579.4 756.5,578.8 756.8,580.9 757.2,581.9 757.5,579.9 757.9,578.6 758.2,571.7 758.6,577.4 758.9,578.9 759.3,580.7 759.6,573.6 760,572.4 760.3,579.1 760.7,574.4 761,578.5 761.4,575.3 761.7,579.9 762.1,579.8 762.4,571.7 762.8,573.9 763.1,573 763.5,568.3 763.8,576.5 764.2,570.7 764.5,573.1 764.9,577.4 765.2,573 765.6,573.7 765.9,569.4 766.3,575.6 766.6,575.5 767,572.9 767.3,573.1 767.7,580.6 768,580.3 768.4,580.8 768.7,578.1 769.1,574.2 769.4,577.8 769.8,579.3 770.1,574.8 770.5,575.5 770.8,577.5 771.2,578 771.5,581.7 771.9,578.9 772.2,579.1 772.6,579.8 772.9,576.4 773.3,574.5 773.6,581.6 774,581.9 774.3,580.9 774.7,581.8 775,578.6 775.4,577.1 775.7,581 776.1,578.9 776.4,577.8 776.8,583 777.1,582.6 777.5,584.9 777.8,581.8 778.2,578 778.5,580.5 778.9,582.2 779.2,579 779.6,581.4 779.9,579.2 780.3,582.5 780.6,580.4 781,582.8 781.3,574.7 781.7,582.4 782,580.6 782.4,583.1 782.7,580.1 783.1,579.4 783.4,581.3 783.8,578.8 784.1,579.7 784.5,578 784.8,577.9 785.2,581.7 785.5,578.8 785.9,581.1 786.2,579 786.6,581.4 786.9,575.9 787.3,583.8 787.6,581.5 788,577.9 788.3,581.9 788.7,579.3 789,580.2 789.4,578.3 789.7,580.7 790.1,578.8 790.4,581.2 790.8,581.6 791.1,582.7 791.5,579.4 791.8,577.5 792.2,584.2 792.5,577.5 792.9,576.9 793.2,577.2 793.6,584.1 794,580.5 794.3,579.3 794.7,582.2 795,577.9 795.4,585.4 795.7,584.7 796.1,580.2 796.4,577.2 796.8,577 797.1,585.1 797.5,579.5 797.8,577.1 798.2,582.4 798.5,583.9 798.9,575.2 799.2,580.7 799.6,577.8 799.9,574.1 800.3,578.9 800.6,578.3 801,578.7 801.3,582.2 801.7,578.7 802,574 802.4,578.8 802.7,580.9 803.1,579.7 803.4,577.7 803.8,585.2 804.1,577.3 804.5,583.4 804.8,578.3 805.2,577.9 805.5,581.1 805.9,578.9 806.2,581.1 806.6,583.1 806.9,576.9 807.3,580.5 807.6,575.1 808,577.4 808.3,582.1 808.7,581.9 809,579.1 809.4,575.9 809.7,578.2 810.1,574.4 810.4,580 810.8,578.1 811.1,575.1 811.5,580.3 811.8,582.4 812.2,582.8 812.5,577.1 812.9,579.5 813.2,580.3 813.6,580.4 813.9,578.2 814.3,582.2 814.6,577.6 815,576 815.3,581.6 815.7,577.7 816,579.9 816.4,572.1 816.7,576.6 817.1,582.4 817.4,577.1 817.8,577.2 818.1,576.1 818.5,573.6 818.8,574.5 819.2,576.7 819.5,577.5 819.9,575.9 820.2,576.2 820.6,573.7 820.9,569.7 821.3,575.8 821.6,577.2 822,573.8 822.3,577.2 822.7,573.1 823,575.9 823.4,567.9 823.7,579.1 824.1,567.8 824.4,572.5 824.8,578 825.1,573.7 825.5,574.3 825.8,572.6 826.2,574.7 826.5,577.7 826.9,574.3 827.2,574.7 827.6,575.5 827.9,580.4 828.3,569.4 828.6,570.1 829,573.3 829.3,577.3 829.7,576.3 830,576.4 830.4,579.6 830.7,579.5 831.1,579.5 831.4,575.7 831.8,576.3 832.1,574.4 832.5,578.7 832.8,580.4 833.2,578.4 833.5,574.5 833.9,579.3 834.2,578.6 834.6,577.5 834.9,576.2 835.3,585 835.6,579.8 836,576 836.3,578.7 836.7,578.7 837,579.7 837.4,582.7 837.8,584.2 838.1,578.5 838.5,583.4 838.8,578.4 839.2,579.2 839.5,578.4 839.9,584.6 840.2,583.1 840.6,580.4 840.9,585.6 841.3,577.5 841.6,585.2 842,582.7 842.3,584.4 842.7,585.2 843,581.8 843.4,586.5 843.7,581.5 844.1,584.8 844.4,580.1 844.8,581.9 845.1,579.4 845.5,580.1 845.8,580.8 846.2,579.3 846.5,579.7 846.9,584.8 847.2,580.2 847.6,580 847.9,586.4 848.3,585.2 848.6,586.3 849,583 849.3,581.9 849.7,581.6 850,578 850.4,583.9 850.7,585.1 851.1,583.4 851.4,579.1 851.8,582.2 852.1,582.6 852.5,583 852.8,579.3 853.2,582.5 853.5,583.3 853.9,584 854.2,584.4 854.6,581.2 854.9,581.2 855.3,581.1 855.6,582.6 856,581.1 856.3,579.7 856.7,580.9 857,581.9 857.4,577.9 857.7,584.5 858.1,577.8 858.4,581.3 858.8,581.7 859.1,585.3 859.5,583.9 859.8,583.7 860.2,581.8 860.5,579.6 860.9,584.5 861.2,582 861.6,588.2 861.9,582.2 862.3,582.8 862.6,581.9 863,583.9 863.3,581.7 863.7,585.4 864,583.3 864.4,579.4 864.7,584.4 865.1,586.7 865.4,588.7 865.8,581.3 866.1,583.7 866.5,585.9 866.8,585.1 867.2,582.1 867.5,587.1 867.9,585.9 868.2,584.2 868.6,585.1 868.9,586.4 869.3,585 869.6,583.2 870,585.5 870.3,584.6 870.7,585.6 871,587.6 871.4,582.5 871.7,584.2 872.1,584.3 872.4,583.7 872.8,584.9 873.1,586.3 873.5,586.5 873.8,584.4 874.2,582.7 874.5,584.7 874.9,583.3 875.2,582.1 875.6,586.2 875.9,579.9 876.3,586.1 876.6,584.7 877,586.8 877.3,584 877.7,586.7 878,583.5 878.4,582.9 878.7,582.8 879.1,583.5 879.4,578.8 879.8,584.3 880.1,583.2 880.5,583.7 880.8,585.2 881.2,583.8 881.6,582.4 881.9,578.9 882.3,584.5 882.6,583.7 883,589.8 883.3,583.3 883.7,583.5 884,586.7 884.4,584.5 884.7,582.3 885.1,585.4 885.4,583.7 885.8,581.4 886.1,585.3 886.5,582 886.8,583.8 887.2,585.2 887.5,589.7 887.9,584.5 888.2,583.3 888.6,588.7 888.9,587.7 889.3,583.5 889.6,584.3 890,586.1 890.3,581.7 890.7,588.5 891,579.8 891.4,579.9 891.7,584.4 892.1,588.8 892.4,585.6 892.8,581.3 893.1,584.8 893.5,587.5 893.8,583.8 894.2,584.8 894.5,582.8 894.9,585.1 895.2,584.3 895.6,589 895.9,582.7 896.3,580.6 896.6,578.5 897,584.5 897.3,587 897.7,583.9 898,589 898.4,579.9 898.7,578.5 899.1,584.4 899.4,582.3 899.8,583.9 900.1,582.6 900.5,584.3 900.8,582.9 901.2,589.3 901.5,581.4 901.9,588 902.2,586.2 902.6,585.1 902.9,585.6 903.3,585.9 903.6,587 904,582.7 904.3,585.3 904.7,588.1 905,579.7 905.4,585.9 905.7,579.6 906.1,586.4 906.4,586.2 906.8,581 907.1,587.1 907.5,585.2 907.8,581.6 908.2,589.1 908.5,584.5 908.9,580.7 909.2,580.8 909.6,585.9 909.9,584.2 910.3,581.1 910.6,586 911,581.4 911.3,582.6 911.7,583.3 912,580.6 912.4,583.3 912.7,584.3 913.1,582.1 913.4,584.7 913.8,582.2 914.1,581.8 914.5,585 914.8,579 915.2,588.5 915.5,583.1 915.9,586.2 916.2,584.9 916.6,586.7 916.9,583.2 917.3,580.3 917.6,584.4 918,584.3 918.3,588.8 918.7,581.4 919,582.5 919.4,581.4 919.7,584.4 920.1,583.9 920.4,580.1 920.8,582.2 921.1,586 921.5,586.5 921.8,582.2 922.2,584.9 922.5,581 922.9,583.8 923.2,581.3 923.6,586.1 923.9,581.4 924.3,584.3 924.6,579.5 925,583.6 925.4,583.7 925.7,587.4 926.1,579.4 926.4,580 926.8,583 927.1,580 927.5,582.6 927.8,578 928.2,582.3 928.5,583 928.9,579.9 929.2,578.3 929.6,585.9 929.9,582.4 930.3,587.1 930.6,584.8 931,578.8 931.3,580.7 931.7,587.1 932,584.4 932.4,578.4 932.7,580.7 933.1,583.9 933.4,583.8 933.8,581.3 934.1,582.1 934.5,585.4 934.8,585.6 935.2,580.9 935.5,580 935.9,580.8 936.2,579.5 936.6,582 936.9,585.6 937.3,581.3 937.6,584.1 938,584.9 938.3,584.9 938.7,579.8 939,581.9 939.4,586.1 939.7,582.6 940.1,587.9 940.4,578.4 940.8,580.8 941.1,585.3 941.5,585.1 941.8,584.5 942.2,586 942.5,580.5 942.9,583.6 943.2,584.6 943.6,582.4 943.9,578.3 944.3,588 944.6,583 945,585.7 945.3,585.5 945.7,580.8 946,580.7 946.4,587.9 946.7,581.2 947.1,581.2 947.4,584.5 947.8,580.7 948.1,585.2 948.5,579.7 948.8,576.8 949.2,577.7 949.5,584 949.9,579.9 950.2,581.6 950.6,578.3 950.9,583.8 951.3,581.1 951.6,586.8 952,576.7 952.3,578.7 952.7,576.7 953,579 953.4,584.2 953.7,585.5 954.1,585.7 954.4,580.7 954.8,580.9 955.1,583.2 955.5,585 955.8,583.2 956.2,586.4 956.5,579.4 956.9,579.9 957.2,583 957.6,581.8 957.9,576.9 958.3,581.5 958.6,577.8 959,577.3 959.3,583.1 959.7,587.1 960,578.6 960.4,587.8 960.7,582.2 961.1,582.5 961.4,583 961.8,584.6 962.1,582 962.5,579.7 962.8,581 963.2,580.8 963.5,580.8 963.9,579.5 964.2,581.3 964.6,582.3 964.9,578.5 965.3,586.9 965.6,584.6 966,581.9 966.3,584 966.7,583.3 967,585.5 967.4,582 967.7,583.7 968.1,577 968.4,581.8 968.8,581.2"/>
<polyline class="ob" points="49,451.1 49.2,454.5 235.2,481.3 235.6,483.5 235.9,482.4 236.3,479.5 236.6,476.5 237,478.8 237.3,468.5 237.7,472.6 238,465.2 238.4,470.8 238.7,467.3 238.9,467.4 239.1,463.7 239.3,457.4 239.4,451.6 239.6,452.9 239.8,447.3 240,440.9 240.1,445.6 240.3,442.8 240.5,433.9 240.7,435.2 240.8,430.1 241,421.9 241.2,407.7 241.4,408.9 241.5,410.3 241.7,397.5 241.9,397.6 242.1,391.2 242.2,380.7 242.4,375.3 242.6,372.4 242.8,359.8 242.9,359.3 243.1,352.1 243.3,342.2 243.5,335.2 243.6,324.3 243.8,314.4 244,308.6 244.2,312 244.3,294.9 244.5,285.8 244.7,274.5 244.9,268 245,262.3 245.2,244.9 245.4,235.5 245.6,229.1 245.7,218.1 245.9,209.4 246.1,189 246.3,183.9 246.5,184.4 246.6,163.8 246.8,158.9 247,151.6 247.2,139.8 247.3,130.1 247.5,115.6 247.7,101.3 247.9,100.2 248,95.9 248.2,86.9 248.4,81.9 248.6,73.6 248.7,69.8 249.1,71.2 249.4,72.5 249.6,74.8 249.8,82.3 250,91.5 250.1,99 250.3,107.2 250.5,115.1 250.7,127.8 250.8,144.1 251,156 251.2,159.1 251.4,177.4 251.5,179.9 251.7,201.1 251.9,203.6 252.1,213.3 252.2,216.8 252.4,224.6 252.6,236.7 252.8,229.6 252.9,243.1 253.1,257.2 253.3,257.6 253.5,267.6 253.6,271.8 253.8,289.2 254,285 254.2,293 254.3,310.3 254.5,319.8 254.7,324.2 254.9,327.3 255,343.3 255.2,349.4 255.4,356.2 255.6,359.7 255.7,365.7 255.9,378.1 256.1,382.3 256.3,383.4 256.4,388.2 256.6,394.5 256.8,402.3 257,391.4 257.1,407.3 257.3,405.9 257.5,406.2 257.7,412.2 257.8,417.9 258,418.6 258.2,423.1 258.4,425.8 258.5,425.2 258.7,432.1 258.9,433.9 259.1,436.7 259.2,441 259.4,443 259.6,443 259.8,446.5 259.9,449.8 260.1,450 260.5,449.6 260.8,448 261.2,456.8 261.5,465.8 261.9,461.3 262.2,465.2 262.6,465.9 262.9,461.3 263.3,468.4 263.6,464.8 264,466.2 264.3,465.5 264.7,468.1 265,479.9 265.4,469.4 265.7,478.9 266.1,470.9 266.4,474.3 266.8,485.1 267.1,484 267.5,475.4 267.8,478.1 268.2,481.2 268.5,481.4 268.9,488.9 269.2,486.9 269.6,490.3 269.9,486.8 270.3,488.5 270.6,489.8 271,488.9 271.3,493.3 271.7,493 272,496.1 272.4,494.2 272.7,494 277.6,504.7 278,497.2 278.3,495.9 278.7,498.4 279,496.3 279.4,495.2 279.7,484.2 280.1,482.4 280.4,480.2 280.6,477.1 280.8,478.1 281,482.2 281.1,472.3 281.3,469.7 281.5,464.2 281.7,470.4 281.8,460.4 282,459.8 282.2,458 282.4,458.4 282.5,458.3 282.7,447.8 282.9,447.3 283.1,450.3 283.2,448.5 283.6,448.3 283.9,439.6 284.3,434.7 284.6,439.3 284.8,431.1 285,432.7 285.2,431.4 285.3,428.4 285.5,427 285.7,420.7 285.9,396.3 286,390.5 286.2,386 286.4,374.5 286.6,355.2 286.7,342.1 286.9,328 287.1,311.7 287.3,304.1 287.4,283.9 287.6,274.6 287.8,275.4 288,264.6 288.1,255.6 288.5,265.6 288.7,263 288.8,260.4 289,267.7 289.2,277.5 289.4,290.6 289.5,299 289.7,300.2 289.9,323.5 290.1,331.3 290.3,337.3 290.4,342.7 290.6,358 290.8,371.7 291,374.5 291.1,390.9 291.3,398.7 291.5,403.8 291.7,416.5 291.8,428.4 292,433.2 292.2,437.5 292.4,448 292.5,454.4 292.7,463.5 292.9,476.2 293.1,472.3 293.2,488.4 293.4,479 293.8,492.5 294.1,484.4 294.5,477.8 294.8,490.7 295.2,483.9 295.5,483 295.9,484.5 296,486.3 296.2,487.4 296.4,498.9 296.6,492.3 296.7,498.2 296.9,503.2 297.1,506.8 297.3,505.8 297.4,500.9 297.6,512.5 297.8,510.8 298,516 298.1,516.3 298.3,517.8 403.8,535.2 404,530.7 404.1,531.5 404.3,527.7 404.5,527.2 404.7,523.9 404.8,526.6 405,518 405.2,523.9 405.4,518.2 405.5,514.3 405.7,517.7 405.9,518.7 406.2,506.3 406.6,507.2 406.9,504.4 407.3,503.4 407.6,502.8 408,493 408.3,488.9 408.7,482.9 409,491.4 409.2,482 409.4,480.3 409.6,483.6 409.7,473.4 409.9,466.6 410.1,468 410.3,461.3 410.4,467.6 410.6,457.8 410.8,449.1 411,448.7 411.1,442.6 411.3,428.1 411.5,428.8 411.7,418.9 411.8,421.2 412,418.9 412.4,412 412.7,419 412.9,414.8 413.1,428.4 413.2,424.9 413.4,431.5 413.6,432.2 413.8,448.2 413.9,449 414.1,455.8 414.3,460.5 414.5,469 414.6,467.4 414.8,470.7 415,478 415.2,481.8 415.3,483.2 415.5,484.4 415.7,495.9 415.9,488 416,492 416.2,495.5 416.6,498.9 416.9,506.4 417.3,503.7 417.6,506.1 418,512.3 482.3,532.4 482.4,534.4 482.6,527.8 482.8,527.5 483,526 483.1,532.2 483.3,527 483.5,515.2 483.7,518 483.8,519.4 484,519 484.2,518.9 484.4,515.7 484.5,507.3 484.7,506.6 484.9,511.7 485.1,501.1 485.4,500.8 485.8,495.6 486.1,496.1 486.5,488.4 486.6,487.7 486.8,485.3 487,482.8 487.2,484.9 487.4,477.4 487.5,483.8 487.7,469.9 487.9,474.5 488.1,475 488.2,466.7 488.4,458.2 488.6,452.6 488.8,447 488.9,447 489.1,445.1 489.3,440.5 489.6,439.2 490,440.8 490.2,445.8 490.3,448 490.5,445.9 490.7,450 490.9,461.8 491,465.7 491.2,467.3 491.4,465.6 491.6,478.2 491.7,482.6 491.9,490.7 492.1,485.7 492.3,488.7 492.4,496.3 492.6,491.9 492.8,499.1 493,497 493.1,501.9 493.3,505.7 493.5,501.6 493.7,507.5 493.8,510.7 494,508.4 494.2,515.1 494.4,517.4 494.5,516.1 494.7,516.6 494.9,524.7 495.1,523.9 495.2,528 495.4,536.4 495.6,531 495.8,539.4 495.9,540.3 496.1,540.5 496.3,537.5 496.5,542.5"/>
<polyline class="rc" points="49,453 50.6,466.1 52.3,468.8 91.7,504.2 91.9,504.3 97.4,498.1 97.5,498.1 99.3,510 100.7,512.4 142,545.5 158,545 171.1,542.8 182.3,540.7 188.5,539.3 196.5,537 203.4,534.7 210.9,530.2 216.8,525.5 220,522.4 222.3,519.7 224.6,516.5 226.5,513.1 228.9,507.7 231.2,500.9 233.7,491.6 235.4,482.4 236.8,472.3 238.2,458.7 239.4,442.8 240.5,424.8 242.2,382.4 243.6,332.9 245,265.6 247.9,101.8 248.6,74.7 249.3,63.8 249.6,65.3 250,71.4 250.7,96 254,288.5 256.1,376.3 257.3,411 258.7,440 260.3,462.9 262.2,482 263.6,491.9 265.4,501.1 267.3,508.3 269.2,513.4 271.5,517.2 272.6,518.1 273.4,518.2 274.3,517.8 275.2,516.6 276.6,512.8 278.3,503.6 280.1,488.4 282,463.9 286.4,396 287.6,384.7 288.1,382.4 288.5,382 288.7,382 289.2,383.5 289.7,386.8 290.8,398.1 296.2,489.9 297.8,510.4 299.5,527.1 301.5,539.2 302.7,544.3 303.9,548.1 305.3,551.4 307.1,554.4 309.3,557.4 311.8,559.9 315.5,562.3 319.9,564.6 325.1,566.8 331.4,569.1 346,571.5 365.2,571.7 376.4,566.2 385,561.3 389.8,559.4 392.6,557.5 394.8,554.9 396.9,551.2 398.7,546.5 400.5,540 402,532.5 403.6,523.2 409.6,481.6 411.1,474.5 411.8,472.9 412.5,472.4 413.2,473 413.9,474.6 415.3,480.7 421.8,524.5 423.8,534.7 425.7,542.3 428,548.4 430.4,552.3 431.8,553.7 433.6,554.9 435.5,555.7 437.8,556.3 441.8,556.8 447.6,557.1 460.5,556.6 467,555.5 470.7,554.6 474.2,552.9 475.8,551.3 476.8,549.4 477.9,546.6 479.8,538.5 481.7,526.2 486.3,490.4 487.7,483.4 488.4,481.6 489.1,480.9 489.6,481.2 490.3,482.7 491.7,488.8 495.9,518.1 497.5,527.2 498.9,532.9 500.5,536.5 501.4,537.4 502.4,537.9 503.5,537.7 506.3,536.4 507.5,536.2 509.1,536.5 510.5,537.5 513.1,541.1 519.2,552.3 522.9,558 526.9,562.8 531.5,566.8 536.2,569.7 541.8,572.4 549.2,575.2 558.8,578.4 573,578.3 592.6,577.7 617,580.3 638.7,580.6 642.4,578.7 645.6,576.7 649.9,572.9 653.3,570.8 661,564.7 664,563.3 666.9,562.9 674.1,563.7 681.1,563.8 684.5,564.6 686.4,565.7 688.3,567.2 695.1,573.8 698.3,576.4 701.6,578.4 705.5,579.8 708.8,580.6 713.4,581.3 738.2,584.2 747,583.4 751,582.7 754.2,581.4 759.6,578.1 761.9,577.4 764.5,577.7 769.4,580 771.5,580.7 773.8,581 776.4,581.1 809.2,580 813.7,579.2 821.6,576.5 824.6,576 826.4,576.2 828.1,576.7 834.6,579.8 837.8,581 843.9,582.4 853.9,583.4 882.3,584.9 953.6,582.7 968.8,583"/>
<polyline class="gA" points="49,636 49.2,637.3 49.4,635.9 49.5,631.4 49.7,637.5 49.9,636.2 50.1,633.5 50.2,636.6 50.4,636 50.6,635.8 50.8,635 50.9,636.5 51.1,632.9 51.3,634.5 51.5,633.6 51.6,636.6 51.8,635 52,634.1 52.2,632.8 52.3,634.2 52.5,634.9 52.7,634.2 52.9,638.4 53,637.7 53.2,627.5 53.4,629.8 53.6,634.4 53.7,633.8 53.9,635.5 54.1,635.5 54.3,640.6 54.4,631.9 54.6,633.9 54.8,640.4 55,636.6 55.1,636.7 55.3,633.5 55.5,630.4 55.7,635.3 55.8,635.2 56,631.5 56.2,633 56.4,634.7 56.5,632.3 56.7,634.6 56.9,635.2 57.1,634.9 57.2,633.5 57.4,636.4 57.6,637.2 57.8,635.7 57.9,632.6 58.1,636.8 58.3,633.5 58.5,637.2 58.6,631.9 58.8,637.3 59,634.7 59.2,631.4 59.3,633.9 59.5,634.9 59.7,635.5 59.9,632.1 60,631.8 60.2,635.3 60.4,633.5 60.6,635.4 60.7,636.8 60.9,630.3 61.1,635.4 61.3,638 61.4,633.9 61.6,632.6 61.8,636.7 62,635.4 62.1,637.1 62.3,633.8 62.5,630.8 62.7,634.4 62.8,633.5 63,636.8 63.2,635.2 63.4,630.4 63.5,631.5 63.7,637 63.9,636.5 64.1,633 64.2,634.7 64.4,635.9 64.6,635.9 64.8,637 64.9,635.3 65.1,634.4 65.3,634 65.5,637.5 65.6,628.7 65.8,634.3 66,634.8 66.2,630.9 66.3,635.5 66.5,632.9 66.7,636.9 66.9,634.3 67,636.4 67.2,637.8 67.4,635.6 67.6,632.3 67.7,630.6 67.9,639.2 68.1,634.3 68.3,632.8 68.4,635 68.6,634.1 68.8,636.8 69,634.7 69.1,634.6 69.3,632.7 69.5,635.8 69.7,631.8 69.8,636.3 70,638.6 70.2,630.6 70.4,628.1 70.5,636.2 70.7,641.2 70.9,631.9 71.1,631.3 71.3,636.1 71.4,632.3 71.6,633.2 71.8,633.6 72,635.9 72.1,633.5 72.3,635.2 72.5,634 72.7,632.3 72.8,633.7 73,632 73.2,634.5 73.4,631.6 73.5,631.6 73.7,638.3 73.9,634.3 74.1,634.3 74.2,635.8 74.4,633.4 74.6,633.9 74.8,635.6 74.9,635.2 75.1,631.4 75.3,636.6 75.5,632.9 75.6,631.7 75.8,632.1 76,633.4 76.2,638.7 76.3,631.4 76.5,634.8 76.7,628.9 76.9,634.4 77,636.7 77.2,633.8 77.4,632.8 77.6,635 77.7,636.2 77.9,636.1 78.1,639.5 78.3,634.9 78.4,632.9 78.6,634.1 78.8,634.2 79,634.7 79.1,634.3 79.3,634.8 79.5,627.5 79.7,636.5 79.8,632.9 80,631.3 80.2,636 80.4,637.7 80.5,635.6 80.7,634.8 80.9,631.9 81.1,641.7 81.2,636.6 81.4,631.4 81.6,632.3 81.8,634.5 81.9,630.3 82.1,635 82.3,633.1 82.5,637.4 82.6,636.8 82.8,627.4 83,634.4 83.2,630.1 83.3,637.1 83.5,634.7 83.7,635.7 83.9,631.6 84,638.9 84.2,639.4 84.4,631.5 84.6,635.2 84.7,632.5 84.9,634.2 85.1,631 85.3,639 85.4,631.8 85.6,633.5 85.8,635.5 86,632.6 86.1,633.6 86.3,632.8 86.5,633.9 86.7,631.2 86.8,633.1 87,633.7 87.2,633.4 87.4,634.3 87.5,633.5 87.7,636.1 87.9,633.4 88.1,633.8 88.2,632.5 88.4,632.8 88.6,631 88.8,635.5 88.9,631.3 89.1,632.3 89.3,635.1 89.5,635.2 89.6,633.1 89.8,629.1 90,635.2 90.2,634.8 90.3,630.6 90.5,636.1 90.7,632.4 90.9,631.3 91,634.4 91.2,633.7 91.4,634.6 91.6,630.1 91.7,638.7 91.9,632.6 92.1,630.2 92.3,635.7 92.4,633.2 92.6,634.9 92.8,633.3 93,634 93.2,634.8 93.3,632.4 93.5,636.1 93.7,633.3 93.9,632.4 94,635 94.2,636.2 94.4,634.8 94.6,633.6 94.7,637.8 94.9,632.3 95.1,634.8 95.3,638.2 95.4,635.4 95.6,639.7 95.8,640.3 96,644.9 96.1,639.7 96.3,641.1 96.5,644.1 96.7,637.4 96.8,651.8 97,642.2 97.2,642 97.4,645.8 97.5,643.1 97.7,638.1 97.9,643.5 98.1,643.3 98.2,639.2 98.4,638.8 98.6,639.9 98.8,635.6 98.9,638.3 99.1,637 99.3,634.3 99.5,632.1 99.6,634.6 99.8,632.6 100,637 100.2,634.7 100.3,636.1 100.5,634.4 100.7,634.6 100.9,631.9 101,635.5 101.2,638.2 101.4,633 101.6,632.3 101.7,633.3 101.9,632.5 102.1,632 102.3,634 102.4,632.5 102.6,637.2 102.8,633.6 103,634.4 103.1,635.9 103.3,632.9 103.5,637.1 103.7,632 103.8,631.6 104,632.6 104.2,633.3 104.4,630.1 104.5,633.4 104.7,629.4 104.9,636.9 105.1,633.3 105.2,631.9 105.4,631.2 105.6,632.5 105.8,632.9 105.9,630.9 106.1,631.2 106.3,632.9 106.5,632.1 106.6,635.7 106.8,636.1 107,633.4 107.2,634.5 107.3,630.1 107.5,634.9 107.7,633.2 107.9,634.5 108,637.2 108.2,627.7 108.4,633.9 108.6,630.6 108.7,634.7 108.9,630 109.1,632 109.3,633.7 109.4,634.7 109.6,633.4 109.8,631.3 110,631.8 110.1,635.3 110.3,633.1 110.5,629.1 110.7,635.1 110.8,634.1 111,635.2 111.2,632.3 111.4,635.1 111.5,630.5 111.7,634.4 111.9,631.9 112.1,634.6 112.2,635.4 112.4,631.2 112.6,632.9 112.8,633.1 112.9,635.8 113.1,634.7 113.3,630 113.5,634 113.6,634.7 113.8,638 114,628.9 114.2,631.6 114.3,636.1 114.5,629.6 114.7,630 114.9,634.1 115.1,635.3 115.2,631.2 115.4,634.1 115.6,633.1 115.8,636.4 115.9,632.8 116.1,635.1 116.3,630.6 116.5,632.3 116.6,632.5 116.8,635.4 117,634.1 117.2,630.9 117.3,634.3 117.5,634.5 117.7,632.4 117.9,632 118,632.2 118.2,628.6 118.4,633.1 118.6,633.1 118.7,630.5 118.9,634.3 119.1,629.3 119.3,630.5 119.4,631.4 119.6,637.2 119.8,628.7 120,633.8 120.1,634.7 120.3,633.4 120.5,635.3 120.7,630.1 120.8,627.1 121,634.2 121.2,629.6 121.4,631.6 121.5,629.6 121.7,634.9 121.9,634.4 122.1,630.7 122.2,634.5 122.4,632.6 122.6,632 122.8,632.5 122.9,631.8 123.1,633.7 123.3,633 123.5,631.5 123.6,634.6 123.8,630.8 124,632.9 124.2,633.2 124.3,635.7 124.5,631 124.7,636.3 124.9,632.8 125,631.7 125.2,630.6 125.4,633.5 125.6,632.3 125.7,628 125.9,629.5 126.1,630.8 126.3,630.5 126.4,634.6 126.6,635.3 126.8,634.1 127,632.9 127.1,631 127.3,632.1 127.5,634.1 127.7,636.9 127.8,634.1 128,631.3 128.2,632.1 128.4,630.8 128.5,630.1 128.7,631.5 128.9,632.4 129.1,636.2 129.2,632 129.4,635 129.6,636 129.8,632 129.9,635.6 130.1,633.5 130.3,630.9 130.5,632.4 130.6,631.9 130.8,631.3 131,631.3 131.2,632.1 131.3,632.8 131.5,629.7 131.7,631.7 131.9,628.2 132,632.3 132.2,633.1 132.4,632.1 132.6,632.3 132.7,633 132.9,630.1 133.1,631.1 133.3,632.8 133.4,633.9 133.6,632.5 133.8,637.4 134,631.4 134.1,633.9 134.3,634.5 134.5,631.2 134.7,629.7 134.8,628.8 135,631.9 135.2,634 135.4,632.1 135.5,631.9 135.7,630.6 135.9,632.7 136.1,626.6 136.2,632 136.4,631.5 136.6,628.3 136.8,636.3 137,628.2 137.1,628.9 137.3,628.7 137.5,633.9 137.7,629.3 137.8,632.9 138,632.7 138.2,631.9 138.4,628.3 138.5,629.9 138.7,635.1 138.9,628.4 139.1,629.4 139.2,630.9 139.4,633.1 139.6,631.8 139.8,632.9 139.9,628.8 140.1,633.3 140.3,632.5 140.5,627.6 140.6,634.6 140.8,636.3 141,629.4 141.2,631.2 141.3,634.2 141.5,627.8 141.7,626.6 141.9,628.2 142,629.8 142.2,629.8 142.4,632.4 142.6,631.6 142.7,628.2 142.9,632.3 143.1,635.2 143.3,633.7 143.4,633.3 143.6,631.1 143.8,633.3 144,628.9 144.1,632.8 144.3,631 144.5,633.7 144.7,632.2 144.8,628.8 145,631.5 145.2,634 145.4,628.7 145.5,630 145.7,629.6 145.9,628 146.1,633.5 146.2,634.3 146.4,633.2 146.6,632 146.8,631.3 146.9,632 147.1,629.8 147.3,633.5 147.5,633.9 147.6,633.6 147.8,630.4 148,631.8 148.2,631.2 148.3,635.6 148.5,632 148.7,627.4 148.9,632.6 149,635.9 149.2,633.3 149.4,633.7 149.6,631.8 149.7,627.4 149.9,627.7 150.1,629 150.3,631.6 150.4,632.6 150.6,633.4 150.8,631.1 151,634.1 151.1,631.3 151.3,630.4 151.5,633.9 151.7,630 151.8,625.9 152,629.7 152.2,632.3 152.4,621 152.5,631.3 152.7,631.4 152.9,629 153.1,628.9 153.2,631.2 153.4,631 153.6,635.1 153.8,633.1 153.9,628.7 154.1,630.4 154.3,633.9 154.5,636.6 154.6,633.2 154.8,633.1 155,636.6 155.2,632.4 155.3,631.7 155.5,629.3 155.7,631.3 155.9,637.4 156,629.3 156.2,632.6 156.4,629.4 156.6,632.9 156.7,634.6 156.9,632.1 157.1,634.3 157.3,634.3 157.4,633.7 157.6,636.6 157.8,634.5 158,632.1 158.1,631.2 158.3,630.9 158.5,633.9 158.7,632.1 158.9,639 159,637 159.2,632.4 159.4,632.2 159.6,636.7 159.7,628.7 159.9,632 160.1,635.1 160.3,629.7 160.4,632 160.6,632.3 160.8,634.6 161,633.4 161.1,634 161.3,634.5 161.5,633.2 161.7,635.7 161.8,631.6 162,630 162.2,629.2 162.4,629.6 162.5,632 162.7,635.6 162.9,633.7 163.1,632 163.2,631 163.4,632.2 163.6,632.5 163.8,632.2 163.9,630.2 164.1,632.4 164.3,635.8 164.5,628.6 164.6,633 164.8,628.8 165,634 165.2,631.9 165.3,628.9 165.5,633.9 165.7,637.7 165.9,633.9 166,636.3 166.2,633.5 166.4,628.9 166.6,634.9 166.7,632.8 166.9,630.5 167.1,635.6 167.3,634.5 167.4,632.7 167.6,635.8 167.8,631.9 168,635.4 168.1,631.8 168.3,635.2 168.5,631.5 168.7,637.4 168.8,634.6 169,637.3 169.2,632.2 169.4,633 169.5,636 169.7,627.9 169.9,631.7 170.1,636.5 170.2,635.2 170.4,636.4 170.6,633.5 170.8,635.5 170.9,632.6 171.1,631.2 171.3,630.5 171.5,633.1 171.6,633.1 171.8,632.9 172,621.6 172.2,629.9 172.3,633.2 172.5,635.1 172.7,633.2 172.9,632.5 173,629.3 173.2,639.1 173.4,632.1 173.6,638.4 173.7,638.1 173.9,635.2 174.1,633.3 174.3,634.9 174.4,632.1 174.6,635.3 174.8,634.7 175,635.9 175.1,636.9 175.3,638.7 175.5,633.9 175.7,637.2 175.8,633 176,632.8 176.2,633.5 176.4,632.7 176.5,637.1 176.7,637 176.9,637.8 177.1,634.9 177.2,635.6 177.4,633.7 177.6,632.4 177.8,636.1 177.9,635.7 178.1,632.6 178.3,636.4 178.5,631.2 178.6,634.8 178.8,633.7 179,634 179.2,632.8 179.3,637.4 179.5,636.5 179.7,638 179.9,635.6 180,632.4 180.2,634.5 180.4,632.7 180.6,636.4 180.8,638.1 180.9,636.1 181.1,634.1 181.3,634.6 181.5,635.9 181.6,632.2 181.8,635.8 182,636 182.2,634.3 182.3,634.6 182.5,636 182.7,633.7 182.9,633.7 183,637.4 183.2,636.2 183.4,639.5 183.6,633.4 183.7,631.7 183.9,637.9 184.1,637.9 184.3,634.1 184.4,632.4 184.6,635.7 184.8,631.8 185,635.1 185.1,630.9 185.3,635.3 185.5,631.1 185.7,635.4 185.8,639.4 186,635.3 186.2,637.7 186.4,634.5 186.5,634 186.7,632.6 186.9,638.4 187.1,635.9 187.2,639.8 187.4,633.4 187.6,635.6 187.8,636.3 187.9,639.4 188.1,640.3 188.3,634.7 188.5,633.6 188.6,632.3 188.8,639.3 189,636.1 189.2,634.8 189.3,636.2 189.5,630.5 189.7,632.4 189.9,638.5 190,637.3 190.2,636.7 190.4,634.1 190.6,637.8 190.7,640.5 190.9,633.7 191.1,636.5 191.3,635.5 191.4,637.4 191.6,636.6 191.8,636.2 192,634.6 192.1,636.6 192.3,635.2 192.5,636.3 192.7,636.5 192.8,638.2 193,635.4 193.2,636 193.4,639.2 193.5,636.3 193.7,636.2 193.9,638.8 194.1,637.5 194.2,637.1 194.4,637.4 194.6,634.1 194.8,638 194.9,640 195.1,638.3 195.3,633.4 195.5,637.7 195.6,635 195.8,636.5 196,637.4 196.2,634.4 196.3,640.2 196.5,637 196.7,639 196.9,638.6 197,640.3 197.2,640 197.4,633.9 197.6,637.4 197.7,632.4 197.9,636.3 198.1,639 198.3,639.5 198.4,640.4 198.6,636.5 198.8,638.2 199,637.7 199.1,640.4 199.3,641.2 199.5,636.7 199.7,646.3 199.8,637.5 200,636.7 200.2,639 200.4,639.4 200.5,638.9 200.7,636.2 200.9,641.1 201.1,637.8 201.2,641.3 201.4,641 201.6,634.8 201.8,635.5 201.9,635.5 202.1,638.4 202.3,638 202.5,638.5 202.7,636 202.8,638.9 203,641.2 203.2,634.8 203.4,637.5 203.5,638.5 203.7,637.6 203.9,637.4 204.1,641.9 204.2,640.8 204.4,639.7 204.6,636 204.8,642.9 204.9,638.5 205.1,635.5 205.3,636.9 205.5,636.5 205.6,642.5 205.8,638.1 206,637.7 206.2,632.5 206.3,639.2 206.5,635 206.7,634.8 206.9,638.9 207,635.4 207.2,639.3 207.4,640 207.6,633.2 207.7,637 207.9,633.6 208.1,637.1 208.3,639.4 208.4,634 208.6,641.4 208.8,636.5 209,634.4 209.1,636.8 209.3,639 209.5,633.9 209.7,637.1 209.8,633.8 210,639.8 210.2,637.3 210.4,636 210.5,639.4 210.7,633.9 210.9,636 211.1,641.2 211.2,636.5 211.4,640 211.6,637.2 211.8,635.1 211.9,636.2 212.1,636.9 212.3,635.7 212.5,634.7 212.6,634.8 212.8,633.1 213,636.8 213.2,637.5 213.3,638.3 213.5,632.3 213.7,638.4 213.9,636.4 214,633.1 214.2,636.6 214.4,638.3 214.6,637.6 214.7,638.1 214.9,638.6 215.1,638.4 215.3,636.2 215.4,631.3 215.6,634.4 215.8,637 216,635.1 216.1,637.8 216.3,638 216.5,636.2 216.7,640.5 216.8,633.7 217,638.3 217.2,634.9 217.4,634.1 217.5,637.4 217.7,634.5 217.9,638 218.1,633.1 218.2,636 218.4,633.8 218.6,635.3 218.8,634.9 218.9,633.1 219.1,637.3 219.3,632.7 219.5,633.3 219.6,637.8 219.8,638 220,637.2 220.2,636.4 220.3,641 220.5,632.6 220.7,633.7 220.9,633 221,637.5 221.2,636 221.4,637.9 221.6,637.6 221.7,634.6 221.9,633.1 222.1,632.6 222.3,640.3 222.4,637.2 222.6,636.2 222.8,633.8 223,634 223.1,633.6 223.3,633.5 223.5,628.3 223.7,633.8 223.8,632.8 224,634.2 224.2,633.8 224.4,635.2 224.6,632.8 224.7,634.5 224.9,626 225.1,629.3 225.3,635.8 225.4,628.3 225.6,630.2 225.8,632.3 226,628 226.1,631.5 226.3,625.8 226.5,624.2 226.7,625.2 226.8,623.9 227,627.5 227.2,626.3 227.4,627.4 227.5,623.6 227.7,632 227.9,625 228.1,624.7 228.2,625.5 228.4,623.4 228.6,622 228.8,623.5 228.9,625.2 229.1,624.3 229.3,624.8 229.5,620.8 229.6,620.1 229.8,626.9 230,621.2 230.2,623 230.3,623.7 230.5,625.4 230.7,618.6 230.9,620.9 231,621.2 231.2,621.7 231.4,616.6 231.6,622.8 231.7,616 231.9,624.5 232.1,625.4 232.3,626 232.4,621.8 232.6,627.8 232.8,623.5 233,623.1 233.1,624.1 233.3,624.9 233.5,628 233.7,630.2 233.8,623 234,627.5 234.2,631.7 234.4,630.3 234.5,631.5 234.7,626.6 234.9,633.4 235.1,627.2 235.2,632.2 235.4,635.6 235.6,637.4 235.8,634.2 235.9,635.6 236.1,632.1 236.3,633 236.5,638.1 236.6,635.6 236.8,636.1 237,633.6 237.2,638.8 237.3,641.4 237.5,638.7 237.7,640.8 237.9,647.9 238,645.4 238.2,645.4 238.4,644.3 238.6,646.8 238.7,648.7 238.9,653.9 239.1,648.6 239.3,655.5 239.4,647.5 239.6,648.6 239.8,651.3 240,647.2 240.1,644.4 240.3,645.1 240.5,645.5 240.7,638.1 240.8,641 241,640.2 241.2,638.2 241.4,640.5 241.5,635.9 241.7,635.8 241.9,636.3 242.1,637.7 242.2,634.5 242.4,639 242.6,631.7 242.8,637.5 242.9,630.9 243.1,632.4 243.3,633.3 243.5,637.5 243.6,633.5 243.8,629.1 244,633.1 244.2,628 244.3,625.6 244.5,628.3 244.7,626.7 244.9,628.6 245,624 245.2,626.4 245.4,627.2 245.6,626.3 245.7,625.8 245.9,624.5 246.1,629.6 246.3,628.2 246.5,630 246.6,628.4 246.8,630.2 247,627.9 247.2,631.8 247.3,634.3 247.5,632.9 247.7,635.5 247.9,634.4 248,637.7 248.2,633.7 248.4,630.1 248.6,636.6 248.7,635.7 248.9,634.4 249.1,640.4 249.3,641 249.4,643.7 249.6,644.1 249.8,648.7 250,652.3 250.1,660.4 250.3,657.5 250.5,663.4 250.7,668.2 250.8,665.6 251,668.5 251.2,680.9 251.4,670.5 251.5,676.8 251.7,671.5 251.9,669.4 252.1,662.9 252.2,662.3 252.4,663.1 252.6,652.9 252.8,654.6 252.9,650.1 253.1,651.7 253.3,641.9 253.5,644.7 253.6,642 253.8,637.6 254,633.1 254.2,641.9 254.3,633.9 254.5,636.6 254.7,640.9 254.9,641.9 255,636.6 255.2,639 255.4,638.3 255.6,642 255.7,645.2 255.9,632.2 256.1,639 256.3,627.3 256.4,634.4 256.6,630.1 256.8,637.8 257,631.7 257.1,628.2 257.3,628.1 257.5,627.2 257.7,628.8 257.8,627 258,629.1 258.2,631.1 258.4,628.3 258.5,622.5 258.7,620.9 258.9,623 259.1,627.7 259.2,623.3 259.4,622 259.6,623.8 259.8,619 259.9,619.4 260.1,623.5 260.3,620.8 260.5,619.9 260.6,621.5 260.8,618.6 261,617.8 261.2,618 261.3,620.3 261.5,618.4 261.7,614.5 261.9,616.4 262,618.4 262.2,621.2 262.4,612.7 262.6,616.1 262.7,614.1 262.9,616.4 263.1,614.9 263.3,617.1 263.4,614.1 263.6,610.9 263.8,610.5 264,612.5 264.1,612 264.3,616.7 264.5,614.4 264.7,606.7 264.8,610.2 265,605.6 265.2,604.4 265.4,610.2 265.5,609.4 265.7,605 265.9,611.5 266.1,604.7 266.2,603.9 266.4,608.3 266.6,607 266.8,605.9 266.9,605.9 267.1,606.5 267.3,605.5 267.5,605.3 267.6,601 267.8,602.3 268,607.2 268.2,603.9 268.4,607.8 268.5,608.8 268.7,604.9 268.9,606.6 269.1,611.1 269.2,607.9 269.4,610.9 269.6,610.3 269.8,608.6 269.9,606.7 270.1,605.2 270.3,604.8 270.5,609 270.6,609.3 270.8,608 271,610.9 271.2,607.7 271.3,612.2 271.5,610 271.7,610.2 271.9,610.7 272,610.9 272.2,617.6 272.4,608.1 272.6,612.9 272.7,616 272.9,615.2 273.1,613.2 273.3,618.6 273.4,612.3 273.6,612.2 273.8,617.2 274,612.8 274.1,611.1 274.3,619.5 274.5,619.7 274.7,620.1 274.8,617.6 275,619.7 275.2,617.4 275.4,624.4 275.5,622.6 275.7,622.9 275.9,616.8 276.1,624 276.2,626.1 276.4,625.9 276.6,625.2 276.8,623.7 276.9,623.3 277.1,626 277.3,625.8 277.5,625.9 277.6,624.9 277.8,630.2 278,623.4 278.2,626.6 278.3,625.5 278.5,629.9 278.7,631.2 278.9,631 279,630.1 279.2,624.8 279.4,634 279.6,630.2 279.7,628.9 279.9,629.4 280.1,628.7 280.3,630.9 280.4,630.8 280.6,629.2 280.8,623.5 281,630.4 281.1,632 281.3,632.3 281.5,630.6 281.7,632.4 281.8,634.1 282,630.2 282.2,635.8 282.4,626.5 282.5,628.8 282.7,630.2 282.9,626.4 283.1,631.2 283.2,638.5 283.4,639.8 283.6,638.2 283.8,644.8 283.9,643.1 284.1,642.9 284.3,649 284.5,651.3 284.6,657.3 284.8,654.4 285,664.7 285.2,663.4 285.3,669.3 285.5,663.9 285.7,667.5 285.9,668.5 286,669.6 286.2,661.5 286.4,666.9 286.6,660.2 286.7,653.2 286.9,652.9 287.1,642.2 287.3,633.7 287.4,619.8 287.6,591.8 287.8,560 288,532.6 288.1,515.4 288.3,508 288.5,513.7 288.7,535.1 288.8,565.3 289,595.1 289.2,600.3 289.4,622.5 289.5,626.9 289.7,633.2 289.9,635 290.1,633.4 290.3,630.9 290.4,630.3 290.6,629.7 290.8,639.4 291,636.6 291.1,637.3 291.3,640.2 291.5,639.7 291.7,647.4 291.8,653.7 292,657 292.2,653.4 292.4,665.7 292.5,663.5 292.7,663.7 292.9,668.4 293.1,671.1 293.2,674.7 293.4,671.7 293.6,669.2 293.8,670.6 293.9,673.9 294.1,663 294.3,662.3 294.5,657.2 294.6,660.3 294.8,644.1 295,648.8 295.2,639.4 295.3,638.8 295.5,638.1 295.7,645.2 295.9,633.6 296,629.7 296.2,637.4 296.4,631.4 296.6,632.6 296.7,633 296.9,633.2 297.1,632.4 297.3,633.5 297.4,633.7 297.6,634.8 297.8,631.7 298,630.9 298.1,630.1 298.3,634.1 298.5,632.6 298.7,634 298.8,634 299,636.7 299.2,633.2 299.4,634.4 299.5,629.8 299.7,630.1 299.9,631.9 300.1,629.8 300.2,634.2 300.4,629.5 300.6,632.8 300.8,626.9 300.9,628.5 301.1,631.8 301.3,632 301.5,628.5 301.6,632.8 301.8,634.8 302,634 302.2,631.1 302.3,631.2 302.5,629.9 302.7,634 302.9,635.8 303,631.4 303.2,628.7 303.4,633 303.6,634.1 303.7,626.5 303.9,632.8 304.1,637.3 304.3,634.3 304.4,633.7 304.6,633.4 304.8,634.8 305,630.4 305.1,630.6 305.3,633.4 305.5,631 305.7,633 305.8,628.3 306,634.1 306.2,634.3 306.4,632.5 306.5,632.8 306.7,636 306.9,630.1 307.1,630.4 307.2,630 307.4,631.5 307.6,630.2 307.8,632.5 307.9,631 308.1,629.2 308.3,629 308.5,635 308.6,632.2 308.8,631.9 309,632.4 309.2,632.2 309.3,634 309.5,633.5 309.7,631.1 309.9,630.5 310,630 310.2,629.6 310.4,635.3 310.6,630.3 310.7,628 310.9,630.5 311.1,630.6 311.3,633 311.4,630.4 311.6,633.4 311.8,633.1 312,635 312.2,636.9 312.3,638.3 312.5,635.1 312.7,629.8 312.9,631.4 313,632.7 313.2,636.6 313.4,633.6 313.6,634.8 313.7,631.8 313.9,633.4 314.1,633.7 314.3,631.2 314.4,633.8 314.6,634.4 314.8,631.8 315,634.3 315.1,637.7 315.3,632.3 315.5,632.1 315.7,631.5 315.8,630.8 316,632.5 316.2,631.2 316.4,631.5 316.5,630.5 316.7,628.9 316.9,630.1 317.1,632.8 317.2,629.6 317.4,630.7 317.6,635.5 317.8,634.4 317.9,629.7 318.1,633.3 318.3,630.7 318.5,635.5 318.6,630.8 318.8,632.2 319,634.9 319.2,630.3 319.3,634.8 319.5,630.3 319.7,632.5 319.9,631.4 320,631.8 320.2,632.3 320.4,631.8 320.6,629.9 320.7,633.8 320.9,633.5 321.1,634.7 321.3,634.9 321.4,629.2 321.6,634.7 321.8,634.7 322,630.9 322.1,634.2 322.3,635.1 322.5,630.9 322.7,629.2 322.8,631.3 323,641.4 323.2,632.5 323.4,629.5 323.5,631.5 323.7,630 323.9,631.2 324.1,632.3 324.2,626.7 324.4,632.8 324.6,635 324.8,631.7 324.9,631.3 325.1,634.4 325.3,629.4 325.5,629.5 325.6,629.2 325.8,631.8 326,632.9 326.2,631.9 326.3,633.2 326.5,633.8 326.7,633.1 326.9,630.4 327,631.5 327.2,634.7 327.4,629.9 327.6,631.6 327.7,631.2 327.9,631.7 328.1,629.9 328.3,629.3 328.4,637.4 328.6,634.1 328.8,630.6 329,632 329.1,633.5 329.3,631.4 329.5,633.4 329.7,630.9 329.8,631.4 330,632 330.2,631.2 330.4,627.1 330.5,632.2 330.7,632.7 330.9,633.1 331.1,630.1 331.2,632.9 331.4,632.6 331.6,628.5 331.8,627.6 331.9,633.2 332.1,630.2 332.3,634.2 332.5,636.6 332.6,631 332.8,630.8 333,632.2 333.2,633.6 333.3,629.8 333.5,634.8 333.7,634.2 333.9,633.6 334.1,631.1 334.2,634.1 334.4,634 334.6,629.7 334.8,636.5 334.9,631.6 335.1,633 335.3,631.1 335.5,633 335.6,634.6 335.8,630.6 336,628.8 336.2,631.3 336.3,629.5 336.5,630.7 336.7,632 336.9,632.1 337,634.9 337.2,630.2 337.4,633 337.6,631.2 337.7,635.1 337.9,637.5 338.1,632.9 338.3,635.7 338.4,631.2 338.6,629 338.8,629.7 339,629 339.1,630.3 339.3,631.8 339.5,634.6 339.7,633.7 339.8,633.2 340,631.4 340.2,630.8 340.4,632.4 340.5,632.6 340.7,632.8 340.9,633.1 341.1,632.1 341.2,628.3 341.4,630 341.6,630.6 341.8,635.8 341.9,631.4 342.1,633.7 342.3,635.3 342.5,633 342.6,631.5 342.8,631.7 343,630.2 343.2,633 343.3,634.6 343.5,633.5 343.7,633.9 343.9,633.8 344,636.5 344.2,631 344.4,632.7 344.6,633.8 344.7,634.9 344.9,627.4 345.1,631.3 345.3,631.9 345.4,630.2 345.6,634.1 345.8,633.1 346,631.6 346.1,629 346.3,629.7 346.5,630.4 346.7,633.9 346.8,629.9 347,628.1 347.2,629.4 347.4,631.2 347.5,635.8 347.7,637.5 347.9,631.4 348.1,634.3 348.2,635.3 348.4,635 348.6,632.2 348.8,629.7 348.9,631.4 349.1,628.6 349.3,632.9 349.5,634 349.6,628.5 349.8,632.3 350,633 350.2,635 350.3,635.3 350.5,634.1 350.7,631 350.9,631.7 351,634.9 351.2,631.2 351.4,632.4 351.6,635.6 351.7,632.7 351.9,629.6 352.1,631.8 352.3,633.8 352.4,632.1 352.6,634.8 352.8,635.1 353,631.1 353.1,631.4 353.3,632.3 353.5,630 353.7,633.3 353.8,632.1 354,634.1 354.2,631.3 354.4,630.7 354.5,636.3 354.7,630.7 354.9,631.3 355.1,631 355.2,631.9 355.4,630.6 355.6,632.4 355.8,631.1 356,631.7 356.1,633.3 356.3,634 356.5,633.5 356.7,631 356.8,633.3 357,632.3 357.2,632.3 357.4,629 357.5,633.9 357.7,632.2 357.9,636 358.1,633.8 358.2,630.3 358.4,629.7 358.6,634.9 358.8,630.8 358.9,634 359.1,631.9 359.3,636.9 359.5,632.7 359.6,635.7 359.8,635.3 360,631.6 360.2,631.9 360.3,635.6 360.5,632.6 360.7,630.8 360.9,635.1 361,637.9 361.2,632.5 361.4,635.5 361.6,632.3 361.7,635.4 361.9,632.2 362.1,635.4 362.3,633.8 362.4,632.3 362.6,633.2 362.8,631.6 363,630.4 363.1,630.5 363.3,632.6 363.5,630.6 363.7,633.6 363.8,633.8 364,633.7 364.2,631.7 364.4,632.9 364.5,632.7 364.7,635.5 364.9,631.1 365.1,632 365.2,632.3 365.4,632.5 365.6,631.2 365.8,631.5 365.9,634.9 366.1,631.5 366.3,634.7 366.5,637 366.6,635.4 366.8,627 367,634.4 367.2,633.8 367.3,633.9 367.5,629.5 367.7,634.4 367.9,630.6 368,635.5 368.2,635 368.4,638.1 368.6,632 368.7,627.9 368.9,635 369.1,634.6 369.3,632 369.4,635.6 369.6,634.3 369.8,630.2 370,632.1 370.1,631.9 370.3,632.6 370.5,633.2 370.7,631.4 370.8,632.4 371,634.1 371.2,632.7 371.4,632.3 371.5,632.2 371.7,632.7 371.9,628.9 372.1,633.2 372.2,630.7 372.4,633.1 372.6,629.8 372.8,634.8 372.9,633.4 373.1,630.1 373.3,633.4 373.5,631.3 373.6,636.6 373.8,633.9 374,631.2 374.2,633.4 374.3,632.8 374.5,635.4 374.7,633.6 374.9,634 375,630.6 375.2,634.6 375.4,637.3 375.6,634.3 375.7,632.8 375.9,633.3 376.1,630.9 376.3,633.3 376.4,630.6 376.6,633 376.8,631.7 377,631.2 377.1,634.2 377.3,629.8 377.5,632.9 377.7,630.2 377.9,636.8 378,637.1 378.2,634.7 378.4,637 378.6,634.2 378.7,634.1 378.9,632.1 379.1,631.1 379.3,633.3 379.4,631.9 379.6,632.1 379.8,635.5 380,632.7 380.1,629.7 380.3,632.5 380.5,631.4 380.7,632.4 380.8,630.7 381,635.5 381.2,637 381.4,630.7 381.5,634.4 381.7,634.3 381.9,630.7 382.1,633.2 382.2,636 382.4,634.8 382.6,636.4 382.8,630.5 382.9,631.4 383.1,633.6 383.3,633.8 383.5,633.1 383.6,632.2 383.8,632.2 384,631.7 384.2,634 384.3,627.2 384.5,636.4 384.7,631.9 384.9,630 385,634.2 385.2,630 385.4,633.9 385.6,632.2 385.7,634.3 385.9,634.7 386.1,635.8 386.3,632 386.4,632.4 386.6,633 386.8,630 387,634.3 387.1,633.3 387.3,630.2 387.5,635.6 387.7,636 387.8,630.2 388,634.3 388.2,635.7 388.4,634.8 388.5,631 388.7,630.1 388.9,632.8 389.1,632 389.2,633 389.4,632.8 389.6,634.2 389.8,631.9 389.9,632.7 390.1,643.3 390.3,632.8 390.5,635.6 390.6,633.7 390.8,633.5 391,631.1 391.2,634.2 391.3,633 391.5,634.8 391.7,637.5 391.9,633.5 392,634.7 392.2,630.9 392.4,633.3 392.6,636.4 392.7,633 392.9,631.7 393.1,633.6 393.3,632.7 393.4,632.6 393.6,632.4 393.8,637.5 394,631.3 394.1,632.4 394.3,632 394.5,636 394.7,632.8 394.8,636.3 395,633.9 395.2,633.5 395.4,630.5 395.5,636.5 395.7,635.1 395.9,635 396.1,634 396.2,633.6 396.4,631.9 396.6,637 396.8,635.8 396.9,634.8 397.1,634.5 397.3,636.6 397.5,636.5 397.6,640.8 397.8,639.4 398,636.9 398.2,636.3 398.3,638.8 398.5,637.9 398.7,640.7 398.9,642.1 399,643.3 399.2,643.5 399.4,642.8 399.6,645.3 399.8,642.6 399.9,645.1 400.1,647.7 400.3,647.1 400.5,644.1 400.6,644.9 400.8,644.3 401,652.5 401.2,645.1 401.3,648.6 401.5,653.4 401.7,651.7 401.9,652.3 402,647.4 402.2,650.8 402.4,656 402.6,648.4 402.7,649.2 402.9,647 403.1,647.3 403.3,647.7 403.4,649.5 403.6,643.4 403.8,641.5 404,644.4 404.1,644.1 404.3,646.4 404.5,644 404.7,640.1 404.8,642.3 405,643.1 405.2,640.4 405.4,638.3 405.5,640.2 405.7,637.1 405.9,632.9 406.1,640.4 406.2,633.4 406.4,635.4 406.6,635.1 406.8,634.7 406.9,634.5 407.1,631.3 407.3,636.1 407.5,634.6 407.6,634.5 407.8,637 408,636.9 408.2,637.4 408.3,638.7 408.5,635 408.7,629.7 408.9,634.2 409,633.7 409.2,633.8 409.4,632 409.6,631.2 409.7,635.7 409.9,636.1 410.1,630.6 410.3,635 410.4,633.1 410.6,631.9 410.8,635.2 411,632.5 411.1,629.6 411.3,628 411.5,616.4 411.7,609.8 411.8,598.8 412,582.9 412.2,576.2 412.4,571.4 412.5,571.5 412.7,581.9 412.9,597.2 413.1,611.7 413.2,616.6 413.4,628.4 413.6,634.9 413.8,634.6 413.9,633.8 414.1,634.6 414.3,636.2 414.5,634.7 414.6,643.2 414.8,636.7 415,639.7 415.2,639.6 415.3,641.2 415.5,638.9 415.7,637 415.9,645.2 416,641.1 416.2,642.1 416.4,642.8 416.6,646 416.7,645.1 416.9,646.6 417.1,646.1 417.3,644.7 417.4,645.3 417.6,643.1 417.8,640.4 418,645 418.1,643.1 418.3,652.5 418.5,650.1 418.7,649.2 418.8,644.9 419,651.5 419.2,639.5 419.4,643.2 419.5,644.1 419.7,643.6 419.9,646 420.1,646 420.2,649.9 420.4,647.3 420.6,647.5 420.8,645.2 420.9,643.4 421.1,641.7 421.3,639.3 421.5,640.4 421.7,641.1 421.8,643.4 422,637.1 422.2,637.4 422.4,640.7 422.5,637.2 422.7,640.1 422.9,637.9 423.1,636.6 423.2,634.9 423.4,637.4 423.6,635.5 423.8,635.4 423.9,635 424.1,636.6 424.3,636.4 424.5,631.6 424.6,634.9 424.8,636 425,637.2 425.2,636.4 425.3,634.9 425.5,631.6 425.7,632.3 425.9,636 426,632.2 426.2,636 426.4,636.4 426.6,631.1 426.7,634.3 426.9,633 427.1,637.7 427.3,635 427.4,631.9 427.6,633.9 427.8,630.9 428,632.5 428.1,633.3 428.3,633.1 428.5,633.4 428.7,630.7 428.8,628.5 429,631.3 429.2,630.6 429.4,631 429.5,637.2 429.7,635 429.9,632 430.1,629.2 430.2,629.5 430.4,633.1 430.6,634.6 430.8,631.6 430.9,632.5 431.1,632.7 431.3,634.5 431.5,628 431.6,632.4 431.8,632.9 432,634 432.2,632.8 432.3,629.5 432.5,630.6 432.7,628.5 432.9,632.2 433,632.1 433.2,632.8 433.4,629.5 433.6,629.1 433.7,634.8 433.9,631.9 434.1,635.2 434.3,632.3 434.4,628.2 434.6,633 434.8,633.9 435,630.2 435.1,627 435.3,633.4 435.5,630.8 435.7,631.6 435.8,625.1 436,631.9 436.2,624.9 436.4,628.9 436.5,632.7 436.7,626.8 436.9,626.6 437.1,629.6 437.2,634.1 437.4,634 437.6,629.1 437.8,632.6 437.9,631.6 438.1,630.9 438.3,631 438.5,628.6 438.6,631.9 438.8,633.8 439,635.9 439.2,632 439.3,624.7 439.5,627.3 439.7,631 439.9,630 440,625.7 440.2,629.4 440.4,628.9 440.6,629.5 440.7,629.3 440.9,631.5 441.1,632.7 441.3,630.9 441.4,627 441.6,627.5 441.8,627.9 442,629.2 442.1,628.4 442.3,628.5 442.5,627.2 442.7,631.2 442.8,631 443,631.2 443.2,628.9 443.4,630 443.6,627.1 443.7,626.8 443.9,627.8 444.1,630.2 444.3,628.6 444.4,626.5 444.6,629.1 444.8,629.8 445,629.2 445.1,627.4 445.3,629 445.5,627.9 445.7,628.1 445.8,628.6 446,630.4 446.2,632.7 446.4,632.2 446.5,630.1 446.7,627.9 446.9,628.1 447.1,628.2 447.2,631.3 447.4,622.8 447.6,629.4 447.8,624.5 447.9,628.8 448.1,631.7 448.3,626.9 448.5,623.9 448.6,631.7 448.8,632.2 449,630 449.2,631.7 449.3,627.2 449.5,631.5 449.7,632.7 449.9,630.4 450,629.7 450.2,631.9 450.4,631.6 450.6,627.5 450.7,632.1 450.9,631.8 451.1,629.6 451.3,632.1 451.4,631.3 451.6,631 451.8,628.3 452,631.2 452.1,627.1 452.3,629.3 452.5,625.9 452.7,625.9 452.8,630.6 453,629.5 453.2,629.9 453.4,631.1 453.5,630.6 453.7,628 453.9,630.1 454.1,629.8 454.2,628.9 454.4,629.8 454.6,629.4 454.8,628.8 454.9,629.5 455.1,630.8 455.3,634.8 455.5,628.7 455.6,631.6 455.8,627.4 456,634 456.2,629.9 456.3,631 456.5,633.5 456.7,632.9 456.9,627.6 457,632.1 457.2,630.5 457.4,632.4 457.6,631.4 457.7,632.7 457.9,631.8 458.1,630.9 458.3,633.8 458.4,628 458.6,630.5 458.8,629.4 459,631.2 459.1,630.6 459.3,631.3 459.5,630.6 459.7,630.7 459.8,626.1 460,631.8 460.2,632.6 460.4,630.7 460.5,630.6 460.7,630.6 460.9,635.7 461.1,632.5 461.2,633 461.4,631.6 461.6,631.2 461.8,629.3 461.9,635.7 462.1,628.7 462.3,633.1 462.5,632.5 462.6,632 462.8,629.2 463,630 463.2,634.8 463.3,631.2 463.5,634.7 463.7,634.2 463.9,634.1 464,634.5 464.2,630.3 464.4,631.9 464.6,634.4 464.7,630.3 464.9,636.7 465.1,631.9 465.3,633 465.5,630.9 465.6,634 465.8,631.6 466,632.7 466.2,630.8 466.3,635.9 466.5,629.8 466.7,634.3 466.9,633.9 467,634.4 467.2,629.9 467.4,635.7 467.6,635.6 467.7,633.9 467.9,634.2 468.1,633.2 468.3,635 468.4,631.8 468.6,634.8 468.8,634.5 469,630.6 469.1,628 469.3,633.5 469.5,633.4 469.7,636.4 469.8,633.9 470,632.7 470.2,630.9 470.4,633.7 470.5,632.6 470.7,631.5 470.9,633.7 471.1,636.2 471.2,634.2 471.4,631.7 471.6,634.8 471.8,631.7 471.9,630.7 472.1,635.3 472.3,633.1 472.5,636.7 472.6,635.1 472.8,632.7 473,635 473.2,637.5 473.3,634.3 473.5,632.6 473.7,633.6 473.9,633.4 474,632.7 474.2,632.7 474.4,636.6 474.6,638.3 474.7,635.4 474.9,638.1 475.1,638.7 475.3,640.7 475.4,636.9 475.6,636.9 475.8,638.9 476,638.6 476.1,639.4 476.3,642 476.5,638.7 476.7,640.6 476.8,638.4 477,640.7 477.2,640 477.4,640.3 477.5,642 477.7,642 477.9,644.3 478.1,645.8 478.2,641.1 478.4,647.2 478.6,640.4 478.8,646.4 478.9,647.8 479.1,645.1 479.3,646.4 479.5,645.5 479.6,649.6 479.8,640.5 480,645.7 480.2,643.6 480.3,648.6 480.5,651.3 480.7,651 480.9,649.8 481,648.7 481.2,646.2 481.4,650.7 481.6,649 481.7,645.3 481.9,643.9 482.1,645.1 482.3,648.9 482.4,648.9 482.6,649.4 482.8,643.1 483,643.7 483.1,647.4 483.3,644.1 483.5,645 483.7,639.3 483.8,641.2 484,641.6 484.2,640.3 484.4,639.6 484.5,636.1 484.7,643.9 484.9,639.7 485.1,635.2 485.2,641.3 485.4,638.4 485.6,639.7 485.8,637 485.9,635.2 486.1,635 486.3,637.6 486.5,638.5 486.6,637.5 486.8,637.7 487,639 487.2,636.4 487.4,638.2 487.5,638.3 487.7,636 487.9,634.9 488.1,633.8 488.2,631.3 488.4,629.4 488.6,635 488.8,627.8 488.9,620.6 489.1,618.4 489.3,607.9 489.5,597.7 489.6,595.8 489.8,593 490,599.6 490.2,611.6 490.3,618.4 490.5,622.4 490.7,630.4 490.9,634.9 491,633.2 491.2,633.3 491.4,639.6 491.6,634.2 491.7,631.6 491.9,635.6 492.1,641.3 492.3,637.2 492.4,638.3 492.6,630.6 492.8,635.1 493,640 493.1,636.3 493.3,641.2 493.5,639.7 493.7,640.1 493.8,644.1 494,638.9 494.2,640.4 494.4,642.9 494.5,644.2 494.7,640.5 494.9,648.9 495.1,647.6 495.2,647.9 495.4,651 495.6,649.8 495.8,654.9 495.9,653.2 496.1,655.8 496.3,652.9 496.5,655.2 496.6,657.5 496.8,654.9 497,656 497.2,657.6 497.3,660.5 497.5,659.5 497.7,659.5 497.9,657.6 498,658.4 498.2,659.2 498.4,655.1 498.6,654.7 498.7,653.9 498.9,646.8 499.1,650 499.3,650 499.4,649.5 499.6,645.9 499.8,647.7 500,642.8 500.1,642.8 500.3,646.1 500.5,638.1 500.7,640.2 500.8,639.3 501,638.7 501.2,637 501.4,639.2 501.5,634.7 501.7,633.7 501.9,637.5 502.1,633.4 502.2,636.7 502.4,635.6 502.6,633.8 502.8,634.1 502.9,634.9 503.1,636 503.3,633.4 503.5,634.3 503.6,631.4 503.8,634 504,630.1 504.2,634.4 504.3,633.3 504.5,639.1 504.7,637.2 504.9,633.8 505,636.2 505.2,634.6 505.4,631.2 505.6,628.2 505.7,636.2 505.9,634.4 506.1,628.9 506.3,634.8 506.4,635.3 506.6,631.4 506.8,634.7 507,628.7 507.1,632 507.3,632.5 507.5,634 507.7,632.9 507.8,632.4 508,633 508.2,630 508.4,634.7 508.5,630.4 508.7,632.8 508.9,630.8 509.1,630.1 509.3,631.9 509.4,631.4 509.6,633.3 509.8,632.6 510,628.7 510.1,631.1 510.3,630.1 510.5,628 510.7,627.3 510.8,630.4 511,628.5 511.2,626.6 511.4,629.6 511.5,630.4 511.7,630.1 511.9,627.2 512.1,628.7 512.2,633.3 512.4,628.5 512.6,629.7 512.8,635.8 512.9,631.5 513.1,629.7 513.3,626.6 513.5,631.9 513.6,628.2 513.8,631.5 514,629.8 514.2,628.1 514.3,635.8 514.5,632 514.7,634.5 514.9,634.3 515,631.1 515.2,633.1 515.4,632.3 515.6,635.4 515.7,634.3 515.9,632.7 516.1,637.3 516.3,634.9 516.4,634.9 516.6,632.2 516.8,634.9 517,630.8 517.1,635.2 517.3,632.2 517.5,634.7 517.7,633.8 517.8,635.2 518,635.3 518.2,634.4 518.4,634.4 518.5,631.3 518.7,630.5 518.9,637.4 519.1,635.9 519.2,631.5 519.4,638.9 519.6,633.2 519.8,635.9 519.9,635.7 520.1,635 520.3,636.1 520.5,631.8 520.6,634.7 520.8,634.3 521,635 521.2,634.2 521.3,633.4 521.5,633.3 521.7,636.8 521.9,633 522,635.6 522.2,635.6 522.4,634.6 522.6,635.8 522.7,636.7 522.9,633.7 523.1,635.6 523.3,639 523.4,632.6 523.6,634.2 523.8,633.2 524,639.1 524.1,631.9 524.3,634.9 524.5,638.1 524.7,633 524.8,634.6 525,633.4 525.2,632 525.4,634.8 525.5,636 525.7,634.1 525.9,635.3 526.1,637.2 526.2,637.4 526.4,632.3 526.6,636.2 526.8,633.6 526.9,630.9 527.1,633.3 527.3,636.3 527.5,635.6 527.6,632.6 527.8,638.3 528,635.8 528.2,634.8 528.3,633.8 528.5,635.8 528.7,634.1 528.9,637.3 529,636 529.2,636.2 529.4,634.3 529.6,631.9 529.7,636.1 529.9,632.9 530.1,634.8 530.3,634.9 530.4,633.3 530.6,636.8 530.8,632 531,638.1 531.2,633.8 531.3,637 531.5,637.7 531.7,633.2 531.9,633.5 532,637 532.2,635.4 532.4,635.2 532.6,631.2 532.7,631.6 532.9,636.1 533.1,638 533.3,633.5 533.4,633.2 533.6,635.4 533.8,635.9 534,636.1 534.1,634.1 534.3,631 534.5,638 534.7,633.9 534.8,637.6 535,630.9 535.2,635.7 535.4,633.9 535.5,632.7 535.7,637 535.9,637.6 536.1,633.8 536.2,636.3 536.4,632.7 536.6,633.7 536.8,634.4 536.9,634.2 537.1,636.2 537.3,632.5 537.5,636.9 537.6,636.9 537.8,634.5 538,632.5 538.2,630.1 538.3,634.8 538.5,633.5 538.7,635.1 538.9,632.8 539,634.9 539.2,634.8 539.4,634.9 539.6,635.5 539.7,635.5 539.9,636.9 540.1,633.3 540.3,636.4 540.4,635.2 540.6,634.1 540.8,632.9 541,637.9 541.1,635.4 541.3,633.9 541.5,635 541.7,634.9 541.8,633.8 542,632.1 542.2,635.2 542.4,634.6 542.5,634.3 542.7,636.9 542.9,632.2 543.1,633 543.2,635.2 543.4,636.6 543.6,636.1 543.8,636.3 543.9,630.4 544.1,635.9 544.3,635.7 544.5,636.2 544.6,633.5 544.8,635.9 545,636.9 545.2,638.1 545.3,635.4 545.5,632.2 545.7,635 545.9,636.2 546,635.9 546.2,638.7 546.4,634.4 546.6,632.8 546.7,633.6 546.9,636.2 547.1,633.2 547.3,632.8 547.4,633.2 547.6,637.3 547.8,635.3 548,634.2 548.1,636.5 548.3,636.2 548.5,632.9 548.7,636.5 548.8,635.6 549,630.7 549.2,632.5 549.4,635.3 549.5,635.8 549.7,634.2 549.9,632.8 550.1,635.3 550.2,631.2 550.4,635.9 550.6,634.5 550.8,634.8 550.9,633.5 551.1,636.5 551.3,630.2 551.5,633.1 551.6,636 551.8,633.4 552,637.7 552.2,635.7 552.3,633.3 552.5,637 552.7,634.6 552.9,636 553.1,633.6 553.2,633.6 553.4,636.2 553.6,635 553.8,633.3 553.9,633.1 554.1,636.1 554.3,638.3 554.5,633.2 554.6,636.2 554.8,629.1 555,632.1 555.2,636.2 555.3,638 555.5,634.9 555.7,635.9 555.9,635.3 556,636.8 556.2,632.7 556.4,636.1 556.6,634 556.7,634.1 556.9,634.8 557.1,634.4 557.3,633.3 557.4,634.3 557.6,632.9 557.8,637.7 558,636.2 558.1,634 558.3,637.9 558.5,637.3 558.7,635.8 558.8,633.7 559,635.3 559.2,635.9 559.4,637.5 559.5,634.4 559.7,633.7 559.9,639.3 560.1,637.5 560.2,635.4 560.4,633 560.6,635.7 560.8,637 560.9,636.3 561.1,636.4 561.3,634.9 561.5,637 561.6,633.6 561.8,633.9 562,633.8 562.2,633.5 562.3,638.6 562.5,631.4 562.7,635.2 562.9,632.8 563,632.3 563.2,634.9 563.4,631.6 563.6,634.6 563.7,639.3 563.9,634.5 564.1,635.6 564.3,633 564.4,635.7 564.6,631.8 564.8,635.1 565,634.5 565.1,639 565.3,634.5 565.5,634 565.7,633.6 565.8,630.9 566,636.2 566.2,637.5 566.4,633.9 566.5,636.1 566.7,633.9 566.9,635.4 567.1,635.5 567.2,631.8 567.4,633.1 567.6,636.5 567.8,630.8 567.9,634.6 568.1,633.9 568.3,632.8 568.5,634.7 568.6,635.2 568.8,635.7 569,629.4 569.2,637.9 569.3,633.6 569.5,636.7 569.7,634.4 569.9,633.4 570,634.5 570.2,640.9 570.4,637.7 570.6,633.9 570.7,635 570.9,636.8 571.1,635.7 571.3,634.7 571.4,634.2 571.6,632.4 571.8,636.1 572,636.8 572.1,639 572.3,633.5 572.5,635.8 572.7,634.5 572.8,637.1 573,634.3 573.2,633.2 573.4,631.2 573.5,636 573.7,634.9 573.9,636.8 574.1,633.4 574.2,639.7 574.4,633.1 574.6,635.5 574.8,635.4 575,636.7 575.1,634.2 575.3,632.7 575.5,632.5 575.7,636.1 575.8,634.7 576,635.2 576.2,632.9 576.4,634.8 576.5,634.9 576.7,635.7 576.9,631.6 577.1,633 577.2,637.9 577.4,633.7 577.6,634.3 577.8,633.7 577.9,631.5 578.1,632.3 578.3,635.2 578.5,633.1 578.6,638.5 578.8,631.5 579,630.6 579.2,633.7 579.3,632 579.5,637.2 579.7,633.6 579.9,635.5 580,631.6 580.2,635.8 580.4,635.7 580.6,636.9 580.7,634.9 580.9,635.5 581.1,634.8 581.3,636.3 581.4,633.6 581.6,636.2 581.8,633.3 582,635.8 582.1,633.9 582.3,633.1 582.5,633 582.7,637.3 582.8,631.3 583,631.4 583.2,636.4 583.4,632.4 583.5,633.5 583.7,633.4 583.9,638.9 584.1,633 584.2,632.9 584.4,633.6 584.6,634.8 584.8,635.4 584.9,631.4 585.1,635.3 585.3,638.3 585.5,630.8 585.6,635.5 585.8,635.9 586,634.7 586.2,634 586.3,629.7 586.5,636.8 586.7,633.7 586.9,634 587,636.8 587.2,629.7 587.4,634.2 587.6,635.6 587.7,635.8 587.9,635.6 588.1,638.4 588.3,634.9 588.4,636.4 588.6,635.9 588.8,629.6 589,632.8 589.1,638.5 589.3,633.8 589.5,634.2 589.7,631.7 589.8,633.7 590,631.7 590.2,633.1 590.4,635.4 590.5,632.7 590.7,633.1 590.9,637 591.1,635.3 591.2,635.4 591.4,636.3 591.6,633.2 591.8,633.5 591.9,630.2 592.1,635.8 592.3,633.9 592.5,634.3 592.6,630.8 592.8,635.5 593,635.6 593.2,634.7 593.3,631.1 593.5,632.6 593.7,634.2 593.9,632.6 594,635.1 594.2,636.3 594.4,632.8 594.6,633.9 594.7,632.9 594.9,636.3 595.1,636.1 595.3,639.6 595.4,634.3 595.6,632.3 595.8,635 596,633.7 596.1,634.5 596.3,636.5 596.5,633.4 596.7,635.3 596.9,629.5 597,635.6 597.2,633.7 597.4,632.6 597.6,631.8 597.7,635.3 597.9,630.4 598.1,634.1 598.3,630.1 598.4,630.7 598.6,630.7 598.8,633.5 599,629.4 599.1,629.1 599.3,627.7 599.5,626.8 599.7,625.7 599.8,630.2 600,629.3 600.2,624.9 600.4,626.6 600.5,624 600.7,628.4 600.9,628.2 601.1,627.4 601.2,626 601.4,629.7 601.6,629.9 601.8,628.9 601.9,631.3 602.1,627.7 602.3,629.7 602.5,629.5 602.6,632.1 602.8,635.6 603,632.7 603.2,635.2 603.3,633.1 603.5,632.6 603.7,636.8 603.9,634.8 604,636.7 604.2,635.9 604.4,632.4 604.6,629 604.7,634.4 604.9,631.8 605.1,631.3 605.3,631.2 605.4,632.9 605.6,633.8 605.8,634.2 606,638.2 606.1,631.8 606.3,634.1 606.5,631.7 606.7,632.2 606.8,634.3 607,635 607.2,631.6 607.4,636.4 607.5,632.3 607.7,636.1 607.9,634 608.1,635.9 608.2,635.3 608.4,633.6 608.6,635.1 608.8,631.5 608.9,631.5 609.1,633.4 609.3,636.9 609.5,632.6 609.6,632.9 609.8,637.4 610,634.2 610.2,634.1 610.3,632 610.5,634.2 610.7,635.3 610.9,634 611,636.5 611.2,634.8 611.4,636.2 611.6,635.7 611.7,633.8 611.9,635.8 612.1,637.7 612.3,634.7 612.4,631.7 612.6,634.5 612.8,633.7 613,639.2 613.1,635.6 613.3,631.9 613.5,633.7 613.7,637 613.8,631.8 614,633.1 614.2,634.1 614.4,633.8 614.5,632.9 614.7,634.3 614.9,631.2 615.1,632.9 615.2,632.8 615.4,633.4 615.6,633.4 615.8,634 615.9,633.3 616.1,633.2 616.3,634.7 616.5,635.8 616.6,635.9 616.8,631.7 617,634.5 617.2,635.5 617.3,633.5 617.5,634.9 617.7,633.6 617.9,634.7 618,631 618.2,634.9 618.4,633 618.6,632.5 618.8,633.4 618.9,635.9 619.1,635.8 619.3,634.5 619.5,635.7 619.6,633.2 619.8,631.5 620,630.3 620.2,633.9 620.3,633.7 620.5,634 620.7,634.1 620.9,636.3 621,632.1 621.2,632.4 621.4,637.7 621.6,635.4 621.7,633.3 621.9,629.9 622.1,631.2 622.3,633.2 622.4,633.7 622.6,634.2 622.8,633.1 623,636.1 623.1,631.5 623.3,633.3 623.5,632.5 623.7,635.4 623.8,634.2 624,635.4 624.2,634 624.4,641.2 624.5,635.2 624.7,632.3 624.9,633.8 625.1,633 625.2,635.3 625.4,635.7 625.6,634.5 625.8,633.4 625.9,632.4 626.1,636.9 626.3,636 626.5,628 626.6,633.9 626.8,632.1 627,633 627.2,637.1 627.3,631.5 627.5,631.7 627.7,638.6 627.9,632.8 628,633.3 628.2,636 628.4,632.7 628.6,633.8 628.7,634.2 628.9,636.5 629.1,630.5 629.3,632.1 629.4,633.5 629.6,635.5 629.8,632.4 630,634.6 630.1,632.7 630.3,632.9 630.5,636.2 630.7,633.2 630.8,639.5 631,634.4 631.2,635.9 631.4,635.1 631.5,630.6 631.7,630.6 631.9,634.6 632.1,631.5 632.2,632.6 632.4,633 632.6,631.8 632.8,636 632.9,635.2 633.1,634 633.3,634.7 633.5,631.8 633.6,635.3 633.8,631.9 634,638.5 634.2,632.3 634.3,632.5 634.5,635.9 634.7,634.9 634.9,631.7 635,634.8 635.2,633.6 635.4,633.6 635.6,634.8 635.7,634.8 635.9,635.6 636.1,634.5 636.3,634.2 636.4,633.3 636.6,636.5 636.8,632 637,637.3 637.1,637.8 637.3,637.8 637.5,633.2 637.7,637.7 637.8,635.8 638,635.6 638.2,640 638.4,633.9 638.5,634.6 638.7,631 638.9,629.1 639.1,634 639.2,634.3 639.4,634.9 639.6,634.1 639.8,629.5 639.9,634.2 640.1,635.7 640.3,636.6 640.5,631.5 640.7,631.6 640.8,632 641,632.1 641.2,630.2 641.4,632 641.5,636.5 641.7,631.3 641.9,629.6 642.1,632.8 642.2,632.3 642.4,634.7 642.6,631.9 642.8,633 642.9,631.7 643.1,631.4 643.3,634.1 643.5,633.6 643.6,633.2 643.8,634.3 644,631.6 644.2,633.3 644.3,633.7 644.5,635.7 644.7,629.5 644.9,632.6 645,634.2 645.2,632.1 645.4,633.4 645.6,634.6 645.7,634.2 645.9,629.8 646.1,630.8 646.3,627.5 646.4,634.5 646.6,633.6 646.8,635.9 647,633.3 647.1,630.9 647.3,635.4 647.5,630.5 647.7,633.2 647.8,632.8 648,634.7 648.2,635 648.4,632.3 648.5,631.7 648.7,633 648.9,632 649.1,635.1 649.2,633.9 649.4,636 649.6,638.5 649.8,631.4 649.9,631.9 650.1,634.1 650.3,633.9 650.5,632.4 650.6,629.6 650.8,638.3 651,633.3 651.2,630.7 651.3,628.1 651.5,636 651.7,633.7 651.9,633.1 652,630.9 652.2,632.8 652.4,632.2 652.6,627.9 652.7,638.6 652.9,633.9 653.1,632.3 653.3,631 653.4,631.8 653.6,638 653.8,633.8 654,630.2 654.1,634.8 654.3,634 654.5,634.1 654.7,632.7 654.8,632.6 655,633.4 655.2,632.5 655.4,630 655.5,630.9 655.7,633 655.9,629.6 656.1,632.6 656.2,632.2 656.4,634.4 656.6,633.2 656.8,632.3 656.9,632.2 657.1,633.7 657.3,634.8 657.5,630.5 657.6,629.5 657.8,631.1 658,627.8 658.2,631 658.3,634.3 658.5,634.5 658.7,635.6 658.9,632.4 659,632.4 659.2,630.7 659.4,630.6 659.6,632.1 659.7,634.3 659.9,631.9 660.1,626.4 660.3,631.4 660.4,630 660.6,628.3 660.8,629.5 661,630.6 661.1,628.6 661.3,626.2 661.5,634.4 661.7,625.5 661.8,627.3 662,628.6 662.2,623.6 662.4,626.2 662.6,622.9 662.7,623.8 662.9,622.5 663.1,627.7 663.3,620.8 663.4,624.8 663.6,623.8 663.8,619.5 664,627.6 664.1,622.9 664.3,623.8 664.5,625.1 664.7,623.1 664.8,623.8 665,625.8 665.2,624.4 665.4,627 665.5,630 665.7,625.6 665.9,624.8 666.1,628.4 666.2,629.9 666.4,630.9 666.6,627.5 666.8,625.2 666.9,632.4 667.1,632.3 667.3,634.3 667.5,629.2 667.6,632.7 667.8,633.8 668,627.9 668.2,634.2 668.3,635.1 668.5,633.4 668.7,633.4 668.9,633.9 669,631.8 669.2,629.3 669.4,630.4 669.6,632.1 669.7,630.6 669.9,634.6 670.1,631.6 670.3,632.3 670.4,628.8 670.6,633.4 670.8,631.1 671,635.8 671.1,629 671.3,633.4 671.5,631.9 671.7,632 671.8,636.5 672,635 672.2,631.2 672.4,636.1 672.5,631.9 672.7,635.2 672.9,630 673.1,633.2 673.2,633.5 673.4,633.7 673.6,631.3 673.8,630.9 673.9,635.2 674.1,636.9 674.3,636 674.5,635.6 674.6,633.5 674.8,636.5 675,636.2 675.2,636.2 675.3,638.5 675.5,638.7 675.7,639.5 675.9,638.3 676,637.3 676.2,638.8 676.4,638.6 676.6,635.8 676.7,638.5 676.9,635.7 677.1,634.9 677.3,637.2 677.4,637.3 677.6,639.9 677.8,637.5 678,638.9 678.1,640.5 678.3,637.3 678.5,637.5 678.7,634.9 678.8,637.7 679,635.7 679.2,635.4 679.4,632.5 679.5,632.6 679.7,632.9 679.9,634.2 680.1,636 680.2,630.3 680.4,632.5 680.6,632.5 680.8,637.7 680.9,632.4 681.1,631.5 681.3,634.1 681.5,630.1 681.6,633.4 681.8,628.6 682,636.3 682.2,631.8 682.3,630.8 682.5,628.7 682.7,630.9 682.9,631.1 683,629 683.2,632.7 683.4,629 683.6,629.3 683.7,629.1 683.9,630.7 684.1,626.3 684.3,626.5 684.5,626.2 684.6,626.1 684.8,620.2 685,625.8 685.2,622.4 685.3,620.6 685.5,621.6 685.7,617.3 685.9,619.5 686,621.4 686.2,624 686.4,621.2 686.6,622.6 686.7,621.6 686.9,624.6 687.1,622.7 687.3,625.2 687.4,624.3 687.6,623.8 687.8,624.5 688,625.9 688.1,630.4 688.3,635.3 688.5,628.8 688.7,628.1 688.8,631.2 689,631.5 689.2,629.7 689.4,635 689.5,633.1 689.7,633.4 689.9,631.7 690.1,631.9 690.2,633.8 690.4,628.9 690.6,630.2 690.8,632 690.9,628.9 691.1,635.3 691.3,630.6 691.5,630.5 691.6,632.6 691.8,635 692,631.8 692.2,630.3 692.3,630 692.5,632.4 692.7,630.7 692.9,636.7 693,634.5 693.2,625.4 693.4,630 693.6,632.6 693.7,636.6 693.9,627.7 694.1,630.9 694.3,634.3 694.4,630.4 694.6,632 694.8,630.8 695,633.2 695.1,629.6 695.3,631.9 695.5,628.8 695.7,633.8 695.8,633 696,631.7 696.2,631.9 696.4,631.8 696.5,631 696.7,632.1 696.9,632.5 697.1,631.6 697.2,630.6 697.4,630.9 697.6,630.8 697.8,632.7 697.9,632 698.1,635.7 698.3,631.4 698.5,631.9 698.6,630.4 698.8,631.9 699,630.8 699.2,630 699.3,632 699.5,634.9 699.7,629.9 699.9,630.4 700,631.6 700.2,632.2 700.4,634.3 700.6,630.4 700.7,631.4 700.9,630 701.1,629.9 701.3,630.7 701.4,629.4 701.6,632.5 701.8,633.7 702,630.6 702.1,630.2 702.3,634.2 702.5,631.1 702.7,634.5 702.8,625.8 703,631.2 703.2,629.5 703.4,630.5 703.5,633.1 703.7,633.7 703.9,631.2 704.1,633.4 704.2,629.3 704.4,632 704.6,631.2 704.8,628.1 704.9,634.3 705.1,630.1 705.3,632.3 705.5,629.9 705.6,631.8 705.8,632.7 706,631.4 706.2,630.5 706.4,632.6 706.5,631.9 706.7,630.6 706.9,631.5 707.1,631.3 707.2,630.7 707.4,633.2 707.6,634.9 707.8,630.4 707.9,631.2 708.1,629.5 708.3,628.8 708.5,633.6 708.6,630.1 708.8,632.1 709,628.7 709.2,630.1 709.3,632.3 709.5,632.3 709.7,631.8 709.9,632.2 710,631.8 710.2,633.3 710.4,634.7 710.6,632.4 710.7,631.1 710.9,629.3 711.1,630.4 711.3,630.7 711.4,634.1 711.6,628.2 711.8,629.7 712,629.3 712.1,633 712.3,629.9 712.5,627.6 712.7,627.2 712.8,631.9 713,628 713.2,633.4 713.4,633.3 713.5,629 713.7,630.5 713.9,631.2 714.1,628.2 714.2,628.8 714.4,629.9 714.6,631.1 714.8,631.7 714.9,627.5 715.1,631.6 715.3,630.9 715.5,630.6 715.6,630.2 715.8,633.1 716,634.2 716.2,629.6 716.3,630.8 716.5,628 716.7,630.3 716.9,633.2 717,630.9 717.2,631.8 717.4,630.9 717.6,631.3 717.7,632.4 717.9,632.6 718.1,627.2 718.3,630.7 718.4,625.4 718.6,631.1 718.8,630 719,629.9 719.1,634.1 719.3,631.8 719.5,633.3 719.7,632.3 719.8,634.4 720,630.3 720.2,630.6 720.4,630.9 720.5,635.9 720.7,630.2 720.9,631.1 721.1,633.8 721.2,632.9 721.4,630.1 721.6,634.5 721.8,632 721.9,633.9 722.1,632.2 722.3,632.5 722.5,629.6 722.6,633.8 722.8,629.6 723,631.2 723.2,633.2 723.3,630.4 723.5,631.3 723.7,631.1 723.9,631.4 724,632.3 724.2,628.2 724.4,630.1 724.6,635.2 724.7,627.3 724.9,629.9 725.1,632.8 725.3,627.6 725.4,629.5 725.6,629.7 725.8,634.3 726,629.6 726.1,632.5 726.3,630.1 726.5,631.3 726.7,629.1 726.8,628.5 727,630.5 727.2,628.7 727.4,631.1 727.5,631.7 727.7,632.2 727.9,634.5 728.1,634.3 728.3,629.3 728.4,630 728.6,634.8 728.8,631.4 729,630.8 729.1,633.7 729.3,630.4 729.5,633.4 729.7,631 729.8,634.2 730,631.4 730.2,633.3 730.4,633.8 730.5,634.9 730.7,630.2 730.9,631 731.1,629 731.2,628.4 731.4,630.8 731.6,632.1 731.8,634.3 731.9,631 732.1,635.6 732.3,632.2 732.5,633.6 732.6,631.4 732.8,629.5 733,635 733.2,631.4 733.3,634.1 733.5,631.3 733.7,633.1 733.9,631.7 734,631.3 734.2,631.6 734.4,633.4 734.6,629.7 734.7,630.2 734.9,634 735.1,630.7 735.3,632.5 735.4,629.5 735.6,631.7 735.8,634.3 736,632.4 736.1,632.6 736.3,631.5 736.5,632.4 736.7,628.8 736.8,629.1 737,633.1 737.2,628.9 737.4,634.9 737.5,634 737.7,630 737.9,628.1 738.1,627.6 738.2,633 738.4,632.2 738.6,635 738.8,633.4 738.9,635.5 739.1,634.2 739.3,630.6 739.5,632.1 739.6,630.9 739.8,631.9 740,631.5 740.2,632.1 740.3,635.2 740.5,631.5 740.7,630.3 740.9,631.4 741,631.7 741.2,631.5 741.4,632.3 741.6,631.8 741.7,634.9 741.9,634.5 742.1,631.3 742.3,634.7 742.4,635.5 742.6,632.8 742.8,631.2 743,633.7 743.1,632.7 743.3,633.5 743.5,630.8 743.7,637 743.8,632.5 744,634 744.2,631.8 744.4,633.3 744.5,628.5 744.7,630.5 744.9,628.2 745.1,635 745.2,630.4 745.4,630.1 745.6,635.3 745.8,632.2 745.9,632.8 746.1,635.3 746.3,634.2 746.5,633.8 746.6,634.5 746.8,629.4 747,635.8 747.2,635.9 747.3,636.9 747.5,629.2 747.7,631.7 747.9,632.3 748,636.7 748.2,634.5 748.4,636.9 748.6,634.3 748.7,632.2 748.9,630.9 749.1,632.4 749.3,636.3 749.4,631.9 749.6,630.1 749.8,634.1 750,636.3 750.2,638.4 750.3,636.1 750.5,635.5 750.7,630.1 750.9,632.5 751,632.9 751.2,633.9 751.4,631.9 751.6,635.3 751.7,636.2 751.9,633.9 752.1,633.2 752.3,634.1 752.4,634.5 752.6,635.3 752.8,632.1 753,636.6 753.1,633.9 753.3,633.5 753.5,635.2 753.7,632.4 753.8,635.6 754,638.1 754.2,634.7 754.4,634.2 754.5,632.9 754.7,636.8 754.9,636.1 755.1,630.8 755.2,635.8 755.4,632.5 755.6,631.5 755.8,633.6 755.9,632.5 756.1,636.1 756.3,631.2 756.5,631.2 756.6,631.8 756.8,633.4 757,635.5 757.2,631.4 757.3,632.1 757.5,630.4 757.7,633.1 757.9,631.4 758,640.3 758.2,639.5 758.4,631.5 758.6,633.6 758.7,634.1 758.9,632.1 759.1,632.3 759.3,634.3 759.4,632.5 759.6,632.3 759.8,632.8 760,635.3 760.1,632.2 760.3,633.5 760.5,633.1 760.7,634 760.8,632.1 761,631.5 761.2,631 761.4,632.8 761.5,632.5 761.7,631.7 761.9,632.6 762.1,636.9 762.2,633.6 762.4,628.3 762.6,634.6 762.8,632.2 762.9,629.9 763.1,634.6 763.3,631.7 763.5,633.9 763.6,630.6 763.8,634 764,631.3 764.2,633.8 764.3,633.5 764.5,629.6 764.7,632.6 764.9,632.9 765,631.8 765.2,628.4 765.4,632.6 765.6,631.5 765.7,634.5 765.9,630.1 766.1,634.2 766.3,632.6 766.4,637.5 766.6,630.5 766.8,634.5 767,631.6 767.1,630.9 767.3,635 767.5,634.1 767.7,635.1 767.8,629.9 768,630.8 768.2,634.5 768.4,631.7 768.5,636.1 768.7,636.9 768.9,633.4 769.1,633.9 769.2,633.9 769.4,633.4 769.6,634 769.8,633.7 769.9,635.1 770.1,633.7 770.3,633.4 770.5,633.9 770.6,633.4 770.8,634.5 771,635.8 771.2,638.9 771.3,631.6 771.5,632.2 771.7,634.9 771.9,635.1 772.1,635 772.2,638.9 772.4,631.6 772.6,634.8 772.8,632.8 772.9,634.8 773.1,636.4 773.3,632.6 773.5,637.5 773.6,633.9 773.8,633.5 774,632.4 774.2,634.3 774.3,634.2 774.5,637.3 774.7,632.6 774.9,636.2 775,637.5 775.2,635.3 775.4,637.4 775.6,634.5 775.7,636.7 775.9,635.3 776.1,640.2 776.3,635.4 776.4,635.4 776.6,636.8 776.8,634.3 777,635.6 777.1,636.7 777.3,638.8 777.5,634.9 777.7,636.2 777.8,635.8 778,637.5 778.2,637.8 778.4,637 778.5,636.7 778.7,639.8 778.9,634.5 779.1,639.5 779.2,637.3 779.4,633.3 779.6,636.6 779.8,633.5 779.9,636.1 780.1,632.3 780.3,637.8 780.5,634.8 780.6,639.7 780.8,635 781,636.5 781.2,633.8 781.3,636.2 781.5,636.6 781.7,637.5 781.9,641.4 782,639.8 782.2,638.1 782.4,635.9 782.6,636 782.7,636 782.9,634.9 783.1,638 783.3,636.6 783.4,637.7 783.6,636.2 783.8,637.5 784,640.2 784.1,637.5 784.3,638.6 784.5,635.1 784.7,636.6 784.8,636.1 785,637.9 785.2,637.5 785.4,635.6 785.5,637.7 785.7,637.2 785.9,633.9 786.1,637 786.2,639.4 786.4,635.3 786.6,639.3 786.8,638.5 786.9,637.5 787.1,638 787.3,635.6 787.5,638.6 787.6,634.4 787.8,635 788,638.3 788.2,635 788.3,641.2 788.5,637.9 788.7,639 788.9,639.1 789,636.4 789.2,637.3 789.4,638.2 789.6,637.3 789.7,640.4 789.9,639.3 790.1,637.7 790.3,639.8 790.4,637.4 790.6,638.8 790.8,637.6 791,636.7 791.1,635.4 791.3,635.9 791.5,637.4 791.7,638.1 791.8,633 792,636.4 792.2,638.4 792.4,636.9 792.5,635.1 792.7,635.2 792.9,640.6 793.1,634.1 793.2,636.6 793.4,638.9 793.6,633.3 793.8,638.6 794,634.2 794.1,639.2 794.3,642.5 794.5,634.8 794.7,637.1 794.8,638 795,636.1 795.2,638.3 795.4,635.8 795.5,636.1 795.7,635.6 795.9,637.1 796.1,638.2 796.2,639.2 796.4,637 796.6,635.1 796.8,636.3 796.9,636.2 797.1,636.5 797.3,638.4 797.5,637 797.6,637.4 797.8,637.4 798,637.1 798.2,636.3 798.3,638.7 798.5,637.1 798.7,637 798.9,635 799,635.9 799.2,636.1 799.4,638.4 799.6,633.8 799.7,638.7 799.9,637.5 800.1,635.8 800.3,635.5 800.4,638.2 800.6,637.7 800.8,633.3 801,635.9 801.1,635.4 801.3,637.1 801.5,635.3 801.7,638.2 801.8,636.2 802,636.7 802.2,639.7 802.4,636.8 802.5,636.3 802.7,637.3 802.9,634.7 803.1,634.1 803.2,637.2 803.4,636.1 803.6,634.4 803.8,639.1 803.9,638.6 804.1,637.7 804.3,636.2 804.5,636.9 804.6,636.1 804.8,638.9 805,634.4 805.2,637.8 805.3,637.3 805.5,635 805.7,638.5 805.9,636.6 806,641 806.2,639.6 806.4,637.1 806.6,636.5 806.7,635.9 806.9,635.8 807.1,637.9 807.3,634.4 807.4,639.2 807.6,638.7 807.8,637 808,638.8 808.1,641.8 808.3,637.9 808.5,640.7 808.7,636.7 808.8,636.1 809,639.3 809.2,633.5 809.4,639.2 809.5,637.3 809.7,636.3 809.9,637.5 810.1,637.5 810.2,639.8 810.4,639 810.6,637.7 810.8,636.9 810.9,635.4 811.1,637.7 811.3,632.2 811.5,639.2 811.6,637.3 811.8,634 812,638.4 812.2,635.5 812.3,636.4 812.5,633.8 812.7,635.8 812.9,637.6 813,637.1 813.2,637.9 813.4,635.8 813.6,638.4 813.7,634.3 813.9,636.1 814.1,632 814.3,636.6 814.4,636.2 814.6,636.8 814.8,638.4 815,639.8 815.1,634.8 815.3,636.7 815.5,633.3 815.7,640.8 815.9,639.7 816,638 816.2,639.5 816.4,638.8 816.6,635.8 816.7,638.5 816.9,640.8 817.1,638.6 817.3,636.8 817.4,636.2 817.6,641.6 817.8,637.4 818,637.9 818.1,634 818.3,638.1 818.5,637.2 818.7,634.9 818.8,639.2 819,636.6 819.2,637.8 819.4,637.4 819.5,635 819.7,637 819.9,640.8 820.1,634.1 820.2,634.1 820.4,634.3 820.6,637.6 820.8,635.1 820.9,636.6 821.1,638.3 821.3,633.7 821.5,638.8 821.6,635.9 821.8,635.4 822,638.8 822.2,636.6 822.3,633 822.5,635.5 822.7,634.1 822.9,636.1 823,634.6 823.2,634.9 823.4,637.5 823.6,632.1 823.7,636.1 823.9,635 824.1,636.1 824.3,630.7 824.4,633.6 824.6,634.7 824.8,638.9 825,633 825.1,633.3 825.3,635.2 825.5,636.3 825.7,634.4 825.8,635.8 826,632.4 826.2,639.2 826.4,635.1 826.5,636.1 826.7,641.3 826.9,634.8 827.1,633.5 827.2,634 827.4,639.5 827.6,635.8 827.8,634.6 827.9,636.2 828.1,636.2 828.3,638.4 828.5,637.9 828.6,637.2 828.8,637.5 829,635 829.2,634.1 829.3,637.5 829.5,637.8 829.7,637.1 829.9,637.4 830,638.2 830.2,634.6 830.4,636.3 830.6,635.3 830.7,633.3 830.9,638.2 831.1,636.7 831.3,638 831.4,638.5 831.6,635.4 831.8,640.3 832,637.9 832.1,639.3 832.3,642.8 832.5,636.4 832.7,636.2 832.8,637.8 833,639.7 833.2,639.7 833.4,633.6 833.5,640.3 833.7,636.6 833.9,638.5 834.1,634.9 834.2,635.8 834.4,638.3 834.6,634 834.8,639.2 834.9,636.5 835.1,638.1 835.3,637.9 835.5,636.5 835.6,640.2 835.8,642.3 836,638.9 836.2,634.2 836.3,637.9 836.5,637.2 836.7,639.4 836.9,637.8 837,641.9 837.2,639 837.4,638.8 837.6,637 837.8,635.9 837.9,637.5 838.1,638.1 838.3,638.6 838.5,638.1 838.6,637.1 838.8,637.8 839,636.8 839.2,635.7 839.3,636 839.5,638.7 839.7,639.1 839.9,637.3 840,637.4 840.2,638.8 840.4,637.3 840.6,643.9 840.7,638 840.9,636.7 841.1,634.2 841.3,638.1 841.4,639.7 841.6,637.6 841.8,640.2 842,636.6 842.1,637.5 842.3,637.4 842.5,636.3 842.7,634.8 842.8,635.9 843,634 843.2,640.1 843.4,637.4 843.5,637.5 843.7,636.6 843.9,639.6 844.1,636.1 844.2,641.1 844.4,639.9 844.6,636.4 844.8,637.4 844.9,639 845.1,640.2 845.3,636.2 845.5,636.8 845.6,642.7 845.8,639.6 846,639.5 846.2,641.6 846.3,638.7 846.5,636.9 846.7,634.4 846.9,639.5 847,635.6 847.2,639.1 847.4,633.9 847.6,636.9 847.7,637.8 847.9,635.4 848.1,636.7 848.3,636.2 848.4,638.1 848.6,635.4 848.8,637.3 849,640.5 849.1,640.6 849.3,641.5 849.5,638.6 849.7,637 849.8,638.5 850,639.2 850.2,638.4 850.4,640.7 850.5,636.6 850.7,637.4 850.9,634.9 851.1,637 851.2,640.3 851.4,638 851.6,639.3 851.8,638.7 851.9,639.8 852.1,636.2 852.3,638.9 852.5,639.2 852.6,640.1 852.8,642.2 853,636.9 853.2,635.1 853.3,636.6 853.5,640.5 853.7,635.9 853.9,635.2 854,635.3 854.2,635.4 854.4,639.3 854.6,636.4 854.7,636.7 854.9,640.1 855.1,639.7 855.3,639.6 855.4,636.4 855.6,634.6 855.8,638.6 856,641.4 856.1,637.2 856.3,637.4 856.5,631.6 856.7,641.3 856.8,637.5 857,634.5 857.2,637.8 857.4,636.8 857.5,639.2 857.7,642.2 857.9,636.4 858.1,638.3 858.2,637.2 858.4,636.7 858.6,638.9 858.8,641 858.9,638.8 859.1,637.1 859.3,639 859.5,638.4 859.7,639.6 859.8,636.9 860,638.2 860.2,641.2 860.4,638 860.5,639.9 860.7,638 860.9,638.1 861.1,636.5 861.2,643.6 861.4,640.3 861.6,640.3 861.8,640.3 861.9,636 862.1,636.5 862.3,637.6 862.5,634.7 862.6,636.2 862.8,639.6 863,633.8 863.2,636.2 863.3,637.8 863.5,637.8 863.7,637.9 863.9,636.5 864,639.7 864.2,633.3 864.4,638.8 864.6,635 864.7,636.5 864.9,637.8 865.1,641.1 865.3,636.2 865.4,635.1 865.6,639.8 865.8,637.8 866,638 866.1,639 866.3,639.9 866.5,638.2 866.7,633.8 866.8,637.5 867,638 867.2,635.7 867.4,635.9 867.5,639.2 867.7,638.4 867.9,636.1 868.1,639 868.2,638.3 868.4,635.4 868.6,637.4 868.8,635.3 868.9,636.2 869.1,638.5 869.3,635.5 869.5,635.5 869.6,638.6 869.8,635.9 870,637.4 870.2,637.4 870.3,637.6 870.5,638.6 870.7,637 870.9,636.4 871,637 871.2,640.1 871.4,639.7 871.6,637.8 871.7,640.3 871.9,639.3 872.1,635.8 872.3,640.8 872.4,643.3 872.6,638.6 872.8,634.7 873,640.8 873.1,639 873.3,637.6 873.5,633.9 873.7,637.6 873.8,637.3 874,637.2 874.2,637 874.4,639.7 874.5,637 874.7,638.7 874.9,634.1 875.1,635.9 875.2,637.8 875.4,636.1 875.6,637.9 875.8,637.7 875.9,638.2 876.1,637.2 876.3,639.1 876.5,635.2 876.6,637 876.8,640.8 877,637 877.2,640.8 877.3,638.5 877.5,637.3 877.7,638 877.9,640.9 878,637.2 878.2,635.6 878.4,638.8 878.6,639.2 878.7,639.5 878.9,634.8 879.1,638.6 879.3,637.9 879.4,637.3 879.6,636.8 879.8,638.7 880,637.6 880.1,637.7 880.3,641.7 880.5,637.9 880.7,635.5 880.8,636 881,636.3 881.2,634.6 881.4,639.9 881.6,643.5 881.7,636.5 881.9,639.5 882.1,636.3 882.3,636.4 882.4,634.3 882.6,637.6 882.8,640.1 883,640.2 883.1,638.7 883.3,637.2 883.5,640 883.7,641.1 883.8,636.2 884,638.2 884.2,637.6 884.4,636.4 884.5,635.4 884.7,636.1 884.9,637.9 885.1,638.2 885.2,638 885.4,640.2 885.6,636.3 885.8,635.2 885.9,635.4 886.1,638.4 886.3,636.6 886.5,634.5 886.6,639.5 886.8,640.4 887,638 887.2,638.9 887.3,634.9 887.5,634.9 887.7,638 887.9,638.1 888,637.3 888.2,637.1 888.4,636.4 888.6,640.4 888.7,636 888.9,637.4 889.1,639.7 889.3,635.6 889.4,637.9 889.6,637.4 889.8,638.8 890,632.9 890.1,637 890.3,636.1 890.5,639.7 890.7,637.5 890.8,636.5 891,639.3 891.2,638.9 891.4,639.6 891.5,639.7 891.7,639.1 891.9,636.5 892.1,638.2 892.2,638.2 892.4,638.3 892.6,638.2 892.8,637.8 892.9,636.8 893.1,637.4 893.3,635.7 893.5,635.8 893.6,639 893.8,636.9 894,637.7 894.2,636.5 894.3,634.4 894.5,636.8 894.7,640.7 894.9,637.4 895,636.2 895.2,638.9 895.4,636.6 895.6,636.4 895.7,634.5 895.9,632.2 896.1,638.3 896.3,637.8 896.4,637.6 896.6,638.9 896.8,636.6 897,637.6 897.1,635.8 897.3,635.8 897.5,636.1 897.7,639.4 897.8,638.9 898,635.5 898.2,636.9 898.4,637.7 898.5,635.9 898.7,638.8 898.9,636 899.1,636.8 899.2,636.8 899.4,633.9 899.6,634.1 899.8,635.8 899.9,639.8 900.1,638.6 900.3,638.4 900.5,636.3 900.6,636.6 900.8,637.6 901,638 901.2,634.5 901.3,636.1 901.5,636 901.7,640 901.9,636.4 902,635.9 902.2,639 902.4,636.6 902.6,639.3 902.7,635.5 902.9,641.1 903.1,637.3 903.3,637.7 903.5,637 903.6,637.3 903.8,637.5 904,636.8 904.2,639.8 904.3,633 904.5,635 904.7,636.7 904.9,637.1 905,640.2 905.2,638.5 905.4,637.4 905.6,635.8 905.7,641.2 905.9,639.1 906.1,642.4 906.3,634.5 906.4,640.7 906.6,637.2 906.8,635.7 907,637.6 907.1,637.6 907.3,636.8 907.5,634.5 907.7,636.7 907.8,634.9 908,637.5 908.2,634.7 908.4,637.8 908.5,636.6 908.7,639.2 908.9,635.8 909.1,634.7 909.2,634.6 909.4,637.9 909.6,645 909.8,634.6 909.9,636.1 910.1,640.3 910.3,638.6 910.5,639.8 910.6,637.9 910.8,638.2 911,637.4 911.2,635.1 911.3,637.7 911.5,635.4 911.7,638.5 911.9,631.9 912,633.2 912.2,636.9 912.4,637.4 912.6,640.8 912.7,635.6 912.9,638.4 913.1,633.6 913.3,641.8 913.4,632 913.6,640.1 913.8,636.4 914,633.5 914.1,636 914.3,638.8 914.5,636.8 914.7,635.4 914.8,637.4 915,637 915.2,638.8 915.4,638.3 915.5,636.1 915.7,635.5 915.9,637.1 916.1,636.7 916.2,637.5 916.4,635 916.6,637.2 916.8,635.4 916.9,638.1 917.1,637.5 917.3,636 917.5,633.9 917.6,639.2 917.8,635.3 918,636 918.2,636.8 918.3,637.7 918.5,635.9 918.7,635.9 918.9,634.2 919,639 919.2,636 919.4,636 919.6,632.9 919.7,635.8 919.9,638.7 920.1,639 920.3,634.9 920.4,637.1 920.6,638.2 920.8,634.1 921,636.2 921.1,638.3 921.3,639.1 921.5,634.1 921.7,634.8 921.8,639.2 922,636.1 922.2,637.6 922.4,634.6 922.5,639.2 922.7,637.7 922.9,639.7 923.1,635.1 923.2,635.8 923.4,634.5 923.6,634.5 923.8,634.3 923.9,637.2 924.1,635 924.3,636.7 924.5,635.4 924.6,637.5 924.8,638.4 925,638.3 925.2,638.4 925.4,636.5 925.5,638.1 925.7,636.2 925.9,635.1 926.1,634.3 926.2,636.7 926.4,637.3 926.6,640 926.8,635.8 926.9,639.7 927.1,633.7 927.3,636.3 927.5,641.4 927.6,636.1 927.8,635 928,634.8 928.2,641.2 928.3,639.3 928.5,635.7 928.7,635.9 928.9,631.9 929,636.5 929.2,639.9 929.4,633 929.6,638.9 929.7,638.1 929.9,639.9 930.1,635.8 930.3,637.4 930.4,639.5 930.6,637.8 930.8,638.3 931,636.3 931.1,636.5 931.3,635.7 931.5,637.1 931.7,636.9 931.8,636.4 932,632.7 932.2,634.1 932.4,636.7 932.5,639.2 932.7,635.1 932.9,635.8 933.1,636.8 933.2,638.8 933.4,640.1 933.6,637.4 933.8,636.9 933.9,635.3 934.1,637.6 934.3,636.3 934.5,637.1 934.6,635.1 934.8,639 935,636 935.2,633.8 935.3,636.8 935.5,634.6 935.7,637.9 935.9,639.4 936,637.9 936.2,636.5 936.4,635.2 936.6,635.8 936.7,641 936.9,638.8 937.1,634.8 937.3,634.9 937.4,637.5 937.6,636.9 937.8,636.9 938,637.9 938.1,634.6 938.3,635.1 938.5,638.7 938.7,637.3 938.8,636.2 939,636.5 939.2,637.9 939.4,637.2 939.5,635.3 939.7,634.3 939.9,638.1 940.1,634.2 940.2,640.6 940.4,634.3 940.6,635.3 940.8,638.6 940.9,639.3 941.1,636.6 941.3,631.2 941.5,636.2 941.6,632.3 941.8,635.4 942,638.1 942.2,637.9 942.3,636.6 942.5,636.8 942.7,637.6 942.9,635.5 943,635.6 943.2,638.6 943.4,637.2 943.6,638.6 943.7,637 943.9,637 944.1,637.8 944.3,637.6 944.4,639.5 944.6,637.3 944.8,635.2 945,635.4 945.1,634.3 945.3,636.5 945.5,634.7 945.7,633.5 945.8,637.3 946,638.9 946.2,632.9 946.4,637.9 946.5,636.4 946.7,634 946.9,634.6 947.1,635.6 947.3,640.4 947.4,636.4 947.6,639 947.8,634.7 948,637.9 948.1,637.4 948.3,634.5 948.5,634.7 948.7,636.7 948.8,632.7 949,635.7 949.2,633.2 949.4,635.7 949.5,636.5 949.7,637 949.9,636.5 950.1,635.3 950.2,634.6 950.4,634 950.6,634.4 950.8,634.8 950.9,634.6 951.1,635.9 951.3,634.2 951.5,632.4 951.6,636.8 951.8,634 952,632.2 952.2,633.6 952.3,634.8 952.5,635 952.7,635.8 952.9,639.1 953,632.8 953.2,638.5 953.4,635.7 953.6,634.7 953.7,630.9 953.9,634.7 954.1,636.5 954.3,633.2 954.4,632.2 954.6,632.6 954.8,635.5 955,635.2 955.1,638.3 955.3,634.2 955.5,636.7 955.7,632.7 955.8,634.6 956,637.2 956.2,634.5 956.4,636.1 956.5,632.5 956.7,633.2 956.9,633.9 957.1,632.7 957.2,634 957.4,637.8 957.6,634.5 957.8,635.4 957.9,638 958.1,634.9 958.3,634.6 958.5,633.9 958.6,637 958.8,636.6 959,638.8 959.2,638.9 959.3,631.9 959.5,636.3 959.7,638.9 959.9,635.4 960,635.1 960.2,632.5 960.4,638.3 960.6,632.7 960.7,635 960.9,634 961.1,635.6 961.3,633.8 961.4,633.8 961.6,636.7 961.8,634.5 962,636.4 962.1,633.3 962.3,637.5 962.5,635.6 962.7,636.9 962.8,636 963,631.4 963.2,629.4 963.4,636.5 963.5,633.5 963.7,633.6 963.9,632.8 964.1,633.3 964.2,635 964.4,636.1 964.6,633.8 964.8,630 964.9,635.5 965.1,634.9 965.3,633 965.5,631.7 965.6,631.6 965.8,636.7 966,633 966.2,636.5 966.3,633.7 966.5,635.9 966.7,632.3 966.9,631.6 967,633.7 967.2,630.7 967.4,631.4 967.6,635 967.7,637.1 967.9,634.4 968.1,630.8 968.3,632 968.4,634.3 968.6,633.7 968.8,638.7"/></svg>
<rect x="49" y="2" width="919.8" height="684" fill="none" stroke="#000" stroke-width="2"/>
<line x1="48" y1="686" x2="969.8" y2="686" stroke="#000" stroke-width="3"/>
<path d="M49.0 686V694M92.8 686V701M136.6 686V694M180.4 686V701M224.2 686V694M268.0 686V701M311.8 686V694M355.6 686V701M399.4 686V694M443.2 686V701M487.0 686V694M530.8 686V701M574.6 686V694M618.4 686V701M662.2 686V694M706.0 686V701M749.8 686V694M793.6 686V701M837.4 686V694M881.2 686V701M925.0 686V694M968.8 686V701" stroke="#000" stroke-width="2.5" fill="none"/>
<text x="92.8" y="730.2" text-anchor="middle" class="tl">10</text>
<text x="180.4" y="730.2" text-anchor="middle" class="tl">20</text>
<text x="268.0" y="730.2" text-anchor="middle" class="tl">30</text>
<text x="355.6" y="730.2" text-anchor="middle" class="tl">40</text>
<text x="443.2" y="730.2" text-anchor="middle" class="tl">50</text>
<text x="530.8" y="730.2" text-anchor="middle" class="tl">60</text>
<text x="618.4" y="730.2" text-anchor="middle" class="tl">70</text>
<text x="706.0" y="730.2" text-anchor="middle" class="tl">80</text>
<text x="793.6" y="730.2" text-anchor="middle" class="tl">90</text>
<text x="881.2" y="730.2" text-anchor="middle" class="tl">100</text>
<text x="968.8" y="730.2" text-anchor="middle" class="tl">110</text>
<text y="769" class="al"><tspan x="471">2</tspan><tspan x="514">(</tspan><tspan x="524.6" dy="-17.2" font-size="20">o</tspan><tspan x="535.8" dy="17.2">)</tspan></text>
<text class="al" transform="translate(489.6,769) scale(0.8,1)">θ</text>
<text transform="translate(27.5,353.6) rotate(-90)" text-anchor="middle" class="il">Intensity (a. u.)</text>
<text x="58.2" y="38.6" class="pl" letter-spacing="1">(a) BWO</text>
<g transform="translate(0,0)">
<circle cx="771" cy="23.8" r="3.6" fill="none" stroke="#222" stroke-width="1.2" stroke-dasharray="3 2.6"/>
<line x1="735" y1="74.7" x2="808" y2="74.7" stroke="#e80e16" stroke-width="2.5"/>
<line x1="735" y1="124.6" x2="808.6" y2="124.6" stroke="#007000" stroke-width="2.2"/>
<text x="816" y="35" class="lg">Y</text><text x="838" y="48" class="sb">Obs</text>
<text x="816" y="85.3" class="lg">Y</text><text x="838" y="98.3" class="sb">Calc</text>
<text x="816" y="135.5" class="lg">Y</text><text x="838" y="148.5" class="sb">Obs</text><text x="879" y="135.5" class="lg">-</text><text x="898.6" y="135.5" class="lg">Y</text><text x="921" y="148.5" class="sb">Calc</text>
</g>
</g>
<g transform="translate(0,781)">
<rect x="49" y="2" width="919.8" height="684" fill="url(#bg)"/>
<rect x="50.5" y="3.5" width="916.3" height="682" fill="none" stroke="#dedecf" stroke-width="1"/>
<svg x="49" y="2" width="919.8" height="684" viewBox="49 2 919.8 684" overflow="hidden"><path class="ul" stroke-width="8" d="M320.6 609.8 323.9 612.8 330 615.7 354 618.4 378.2 619.6 385 619.4 393.4 617.4 398.5 614.4 402 610.1M428 609.7 431.6 614.3 436.5 617.2 443.7 619 453.2 619.8 465.1 619.3 473.5 617.6 476.5 616.3 478.9 614.6 480.7 612.7 481.9 610.2M503.6 609.7 506.1 610.9 508.4 609.9M524.7 609.4 527.3 614.1 529.2 615.7 531.7 616.8 565 623.1 599.5 620.3 600.7 619.6 601.6 618.2 603.3 610.7M607.2 608.8 609.1 618 610 619.8 611.2 620.7 647 622.1 652 621.8 655 620.3 657.5 616.6 659.6 610.1M679 609.6 680.6 611.8 682 610.2M696.9 609.5 699.5 618.1 701.1 620.3 703 621.4 709 622.1 740 623.2 754 622.4 760.3 621 761.9 619.8 763.3 617.6 765.6 609.9M773.8 609.4 775.7 616.3 778 619.9 781.2 621.3 787.8 621.8 811.6 621.5 819.7 620.5 821.6 619.6 823.2 617.8 825.8 610.3M834.2 609.3 836.2 617 838.1 621 841.1 623.5 845.5 624.6 861.4 625.3 898.7 625.5 916.8 624.5 921.8 623.7 925.2 622.5 927.8 620.6 932 616.2 933.6 615.6 935.2 616.3 940.2 621 944.3 622.7 951.6 623.3 968.8 623.1"/>
<path class="ul" stroke-width="8.5" d="M305.7 601.4 307.9 603.4 312.5 606.1 317.6 606.5 320.6 609.8M402 610.1 404.8 602.2M424.6 600.9 426.2 606 428 609.7M481.9 610.2 483.5 603.5M499.8 601 501.4 606.2 503.6 609.7M508.4 609.9 510.1 606.8 511.5 601.7M522.7 601.5 524.7 609.4M603.3 610.7 605.3 602.4 606.1 603.6 607.2 608.8M659.6 610.1 661.3 601.7M676.9 601.2 679 609.6M682 610.2 684.1 602.2M695.8 604 696.9 609.5M765.6 609.9 767 602.5M772.2 600.9 773.8 609.4M825.8 610.3 827.6 602M832.7 600.8 834.2 609.3"/>
<path class="ul" stroke-width="9" d="M138.2 593.2 151.1 594.2 204.1 594.8 206.7 594.8 211.1 593.2M213.3 593.1 218.8 597.4 227.2 596.4 231.9 594.8 234.4 593.3M264.1 592.9 265.4 595.7 267.1 598.2 269.4 600.1 271.2 600.6 273.6 600.2 275.9 598.7 277.8 596.4 279.4 593.3M300.9 592.7 303 597.7 305.7 601.4M404.8 602.2 406.4 594.1M423.2 594.1 424.6 600.9M499.6 600 499.8 601M511.5 601.7 512.2 597.9M522.6 600.4 522.7 601.5M661.3 601.7 661.5 600.7M675.9 595.3 676.9 601.2M684.1 602.2 685.5 594.6M767 602.5 768.5 594.3M770.8 593.9 772.2 600.9M827.6 602 829.7 593.2M830.7 593 832.7 600.8"/>
<path class="ul" stroke-width="9.5" d="M117 584.7 125.7 592.1 138.2 593.2M211.1 593.2 212.6 592.6 213.3 593.1M234.4 593.3 236.8 590.4 239.1 585.3M262 584.1 264.1 592.9M279.4 593.3 281.7 585.5M298.8 584.8 300.9 592.7M829.7 593.2 829.9 592.9"/>
<path class="ul" stroke-width="10" d="M107.2 576.4 117 584.7M239.1 585.3 240.8 578.5M261.5 581.2 262 584.1M281.7 585.5 282.2 582.8M298.3 582.1 298.8 584.8"/>
<path class="ul" stroke-width="10.5" d="M98.4 568 99.1 569.1 107.2 576.4"/>
<path class="ul" stroke-width="11" d="M49 532.3 65.3 547.6 93.5 566.7 96.5 564.7 98.4 568"/>
<polyline class="of" points="49,533.9 49.4,533.5 49.7,529.3 50.1,532.8 50.4,531.3 50.8,532.5 51.1,537.1 51.5,534.2 51.8,535.1 52.2,534.9 52.5,534.6 52.9,535 53.2,537.7 53.6,537.2 53.9,538.1 54.3,537.7 54.6,537.8 55,538.7 55.3,536.8 55.7,539 56,538.3 56.4,536.5 56.7,537.6 57.1,541 57.4,542.4 57.8,543.1 58.1,543.2 58.5,540 58.8,544.3 59.2,539.5 59.5,543.2 59.9,538.9 60.2,545.1 60.6,540.1 60.9,541.6 61.3,542.5 61.6,543.3 62,545.9 62.3,548.4 62.7,543 63,541.9 63.4,546.5 63.7,547 64.1,544.2 64.4,547.1 64.8,547.7 65.1,545.5 65.5,548.9 65.8,548.8 66.2,544.6 66.5,549.9 66.9,546 67.2,549 67.6,547.8 67.9,547.8 68.3,551.1 68.6,548.9 69,553 69.3,550.8 69.7,550.9 70,547.2 70.4,551.5 70.7,553.7 71.1,551.3 71.4,550.1 71.8,550.7 72.1,553.9 72.5,552.3 72.8,556.2 73.2,553.2 73.5,553.2 73.9,550.9 74.2,552.6 74.6,553.1 74.9,553.8 75.3,556.7 75.6,554.6 76,553.1 76.3,556.6 76.7,555.2 77,555.7 77.4,554.4 77.7,556.3 78.1,556.6 78.4,555.7 78.8,558.2 79.1,557.5 79.5,559.9 79.8,556.6 80.2,559.3 80.5,558.9 80.9,559.6 81.2,556.3 81.6,556.9 81.9,559.9 82.3,558.7 82.6,561.7 83,559.7 83.3,558.7 83.7,556.6 84,561.9 84.4,560.8 84.7,557.6 85.1,560.2 85.4,561 85.8,560 86.1,560 86.5,563.1 86.8,560.3 87.2,562.9 87.5,560.3 87.9,561.9 88.2,565 88.6,562.5 88.9,563.8 89.3,563.8 89.6,562.9 90,564 90.3,564.5 90.7,564.8 91,567.6 91.4,564.1 91.7,565.7 92.1,565.4 92.4,565.2 92.8,565.4 93.2,566 93.5,566.1 93.9,566.3 94.2,569.6 94.6,563.3 94.9,566.7 95.3,565.7 95.6,565.1 96,562 96.3,562.6 96.7,564.1 97,566.4 97.4,564.3 97.7,564.4 98.1,565.1 98.4,565.7 98.8,569.2 99.1,569.8 99.5,568.6 99.8,569.1 100.2,570.7 100.5,571.4 100.9,571.3 101.2,573.2 101.6,573.5 101.9,573.1 102.3,569.9 102.6,571.1 103,572.9 103.3,573.1 103.7,574.9 104,571.2 104.4,571.8 104.7,575.8 105.1,574.1 105.4,577.4 105.8,575.3 106.1,574.1 106.5,577.6 106.8,577.5 107.2,579.6 107.5,576 107.9,577.4 108.2,575.3 108.6,575.5 108.9,575.9 109.3,578.8 109.6,579.8 110,581.5 110.3,579.5 110.7,582.6 111,580.4 111.4,579 111.7,579.6 112.1,580.2 112.4,581.3 112.8,584 113.1,583.4 113.5,581.7 113.8,581.2 114.2,583.8 114.5,584 114.9,583.6 115.2,586.4 115.6,585.1 115.9,583.1 116.3,584.2 116.6,581.3 117,584.4 117.3,583.9 117.7,582.3 118,583.3 118.4,586.9 118.7,586.5 119.1,587.2 119.4,589.7 119.8,586 120.1,590.1 120.5,588.1 120.8,585.6 121.2,588.8 121.5,590.8 121.9,588.5 122.2,590.7 122.6,589.6 122.9,591.8 123.3,589.5 123.6,589.4 124,590.8 124.3,591.5 124.7,591.7 125,590 125.4,591.9 125.7,591.4 126.1,595.2 126.4,593.4 126.8,592.9 127.1,592.1 127.5,591.3 127.8,592.7 128.2,591.9 128.5,594.7 128.9,593.4 129.2,591.4 129.6,590.9 129.9,592.5 130.3,593.4 130.6,593.6 131,593.4 131.3,592.5 131.7,592.8 132,592.5 132.4,593.3 132.7,593.6 133.1,590.6 133.4,592.5 133.8,594.8 134.1,593.3 134.5,592.4 134.8,592.5 135.2,592.6 135.5,593.4 135.9,594.1 136.2,593.1 136.6,592.1 137,592.9 137.3,594.2 137.7,595 138,593.6 138.4,595.8 138.7,594.2 139.1,595 139.4,592.8 139.8,591.3 140.1,592.3 140.5,592.6 140.8,595.1 141.2,594.7 141.5,592.4 141.9,592.2 142.2,592.3 142.6,595.9 142.9,594.3 143.3,593.4 143.6,592.3 144,591.8 144.3,592.8 144.7,594.7 145,591.6 145.4,591.7 145.7,595.3 146.1,593.5 146.4,593.5 146.8,592.2 147.1,592.9 147.5,593.4 147.8,593.1 148.2,593.2 148.5,594.6 148.9,595.4 149.2,592.1 149.6,592.7 149.9,593.6 150.3,594.8 150.6,595.4 151,593.8 151.3,593.1 151.7,597.3 152,593.8 152.4,596.6 152.7,594.1 153.1,594.2 153.4,593.8 153.8,592.6 154.1,593 154.5,592.9 154.8,594.7 155.2,595 155.5,595.9 155.9,594 156.2,594.7 156.6,595.8 156.9,591.3 157.3,597.3 157.6,595.4 158,593.4 158.3,597.3 158.7,596.4 159,591.3 159.4,594.1 159.7,593.3 160.1,594.6 160.4,593.7 160.8,594 161.1,594.4 161.5,594.8 161.8,594.8 162.2,595.9 162.5,594.2 162.9,594 163.2,594.3 163.6,594.9 163.9,593.1 164.3,595.5 164.6,595.8 165,592.1 165.3,594.8 165.7,596 166,593.4 166.4,594.2 166.7,594.7 167.1,596.7 167.4,593.2 167.8,594.2 168.1,595.3 168.5,591.8 168.8,596 169.2,593.4 169.5,592.4 169.9,596.1 170.2,593.7 170.6,594.2 170.9,594.1 171.3,593.3 171.6,595.5 172,593.2 172.3,594.1 172.7,594.7 173,593.6 173.4,594 173.7,593.3 174.1,594.9 174.4,592.6 174.8,594.5 175.1,593 175.5,593.1 175.8,595.7 176.2,592.2 176.5,593 176.9,596.2 177.2,595.6 177.6,593.5 177.9,593.2 178.3,594.6 178.6,594.4 179,592.5 179.3,593.7 179.7,594.3 180,593.5 180.4,593.9 180.8,596.7 181.1,592.3 181.5,595.2 181.8,596 182.2,593.1 182.5,593.8 182.9,594.9 183.2,595.3 183.6,596.1 183.9,594.8 184.3,594.1 184.6,592.4 185,594.2 185.3,595.8 185.7,593.9 186,594.9 186.4,593.1 186.7,596.7 187.1,593.6 187.4,594 187.8,593.8 188.1,594.4 188.5,594.2 188.8,594.7 189.2,594.3 189.5,596.3 189.9,592.5 190.2,594.4 190.6,591.6 190.9,593.2 191.3,592.2 191.6,595.3 192,596.1 192.3,595.4 192.7,597.6 193,594.5 193.4,596 193.7,596.2 194.1,594.4 194.4,597.2 194.8,592.9 195.1,591.7 195.5,592.9 195.8,596.2 196.2,595.1 196.5,596.8 196.9,597 197.2,591.7 197.6,593.2 197.9,591.7 198.3,595 198.6,595.8 199,594.3 199.3,593.9 199.7,595.1 200,593.8 200.4,595.5 200.7,596.5 201.1,596.3 201.4,592.2 201.8,595.5 202.1,594.2 202.5,595.8 202.8,596.6 203.2,597.8 203.5,596 203.9,594.4 204.2,595.4 204.6,594.5 204.9,594.2 205.3,593.9 205.6,594.7 206,596.2 206.3,596.3 206.7,595.3 207,591.9 207.4,595.5 207.7,591.9 208.1,591.3 208.4,594.9 208.8,594.4 209.1,595.2 209.5,592.4 209.8,593.5 210.2,592.6 210.5,593.3 210.9,590.3 211.2,590.1 211.6,593.1 211.9,592.7 212.3,591 212.6,593.5 213,590.5 213.3,592.8 213.7,593.3 214,596.7 214.4,597 214.7,594.7 215.1,594.3 215.4,595.9 215.8,594.9 216.1,595.8 216.5,596.9 216.8,596.7 217.2,597.8 217.5,595.8 217.9,595.4 218.2,595.7 218.6,597.9 218.9,595.5 219.3,595.9 219.6,597.3 220,596.5 220.3,598.8 220.7,597.5 221,598.8 221.4,599.5 221.7,597.9 222.1,598.5 222.4,598.1 222.8,595.9 223.1,596 223.5,594.6 223.8,599.2 224.2,597.1 224.6,595.7 224.9,596.1 225.3,596.8 225.6,597.1 226,598.8 226.3,595.9 226.7,598.6 227,596.3 227.4,599.3 227.7,594.4 228.1,596.6 228.4,596 228.8,595.5 229.1,593.3 229.5,594.9 229.8,596.8 230.2,594.1 230.5,595.7 230.9,595.1 231.2,593.4 231.6,593.2 231.9,594.9 232.3,597.6 232.6,593.9 233,594.3 233.3,594.8 233.7,592 234,592.4 234.4,591.5 234.7,593.7 235.1,595 235.4,590.4 235.8,591.4 236.1,590.4 236.5,590.7 236.8,591 237.2,588 237.5,588.9 237.9,587.8 238.2,588.7 238.6,587.2 238.9,587.2 239.3,583.4 239.6,584.9 240,582.8 240.3,582.2 240.7,578.6 261.7,582 262,583.6 262.4,583.6 262.7,586 263.1,588.3 263.4,592 263.8,591.2 264.1,593.1 264.5,594.9 264.8,596.9 265.2,595.5 265.5,596 265.9,598.5 266.2,598.7 266.6,598.1 266.9,596 267.3,598.9 267.6,599.7 268,602 268.4,599.6 268.7,596.8 269.1,600.9 269.4,599.5 269.8,599.6 270.1,601 270.5,602.9 270.8,600.2 271.2,602.1 271.5,600.1 271.9,600.4 272.2,599.7 272.6,598.3 272.9,600.1 273.3,601.7 273.6,603.1 274,599.2 274.3,599.6 274.7,599.8 275,598.2 275.4,597.6 275.7,600.2 276.1,599.7 276.4,596.9 276.8,598.7 277.1,596.4 277.5,596.8 277.8,595.3 278.2,595.4 278.5,597.9 278.9,591.4 279.2,595.2 279.6,592.8 279.9,590 280.3,589.3 280.6,592.6 281,588 281.3,587.7 281.7,584.5 282,584.7 298.3,582.9 298.7,583 299,586.2 299.4,587.1 299.7,587 300.1,588.4 300.4,592.1 300.8,592.5 301.1,590.7 301.5,593.7 301.8,595.6 302.2,597.2 302.5,596.3 302.9,596.6 303.2,598.8 303.6,599.5 303.9,599 304.3,599.5 304.6,600.1 305,597.9 305.3,601.3 305.7,601.3 306,600 306.4,605 306.7,601.7 307.1,600.9 307.4,604.1 307.8,601.4 308.1,603.9 308.5,602 308.8,605.3 309.2,603.7 309.5,605.1 309.9,604.2 310.2,604.7 310.6,604.3 310.9,604.8 311.3,605.7 311.6,603.8 312,606.1 312.3,605 312.7,604.9 313,605.7 313.4,606 313.7,607.9 314.1,605.1 314.4,606.9 314.8,605.4 315.1,606.5 315.5,605.1 315.8,605.9 316.2,605.5 316.5,607.1 316.9,603.7 317.2,606.6 317.6,606.7 317.9,603.9 318.3,608.1 318.6,607.6 319,609.5 319.3,606.5 319.7,607.5 320,610.2 320.4,609.4 320.7,610.4 321.1,613.2 321.4,609.3 321.8,613.9 322.1,609.8 322.5,611.7 322.8,610.2 323.2,612.6 323.5,613.6 323.9,614.4 324.2,614.4 324.6,615.4 324.9,613.5 325.3,614.1 325.6,615.8 326,615.2 326.3,613.4 326.7,613.5 327,615.6 327.4,615.3 327.7,615.7 328.1,612.5 328.4,614.6 328.8,615.9 329.1,614.7 329.5,615.5 329.8,615.3 330.2,616.3 330.5,613.6 330.9,618.6 331.2,614.2 331.6,615.7 331.9,615.5 332.3,617.4 332.6,616.6 333,617.9 333.3,616.4 333.7,616.8 334.1,618.1 334.4,617.6 334.8,616.1 335.1,613.9 335.5,614.4 335.8,615.6 336.2,617.1 336.5,617.6 336.9,615.1 337.2,616.5 337.6,616.7 337.9,619.5 338.3,616.7 338.6,615.1 339,618.9 339.3,616.4 339.7,616.7 340,616.7 340.4,614.4 340.7,619.6 341.1,615.7 341.4,617 341.8,618.2 342.1,619.3 342.5,618.3 342.8,618.3 343.2,617.4 343.5,618.6 343.9,618.7 344.2,617.1 344.6,618.9 344.9,616.6 345.3,619.1 345.6,615.9 346,616.6 346.3,617.3 346.7,618 347,618.1 347.4,619.5 347.7,617.5 348.1,617.9 348.4,618.9 348.8,616.9 349.1,617.8 349.5,618 349.8,615.6 350.2,617.1 350.5,618.9 350.9,620.8 351.2,618.6 351.6,619.5 351.9,619 352.3,616.5 352.6,619.2 353,618.8 353.3,617.6 353.7,618.6 354,617.5 354.4,617.8 354.7,617.6 355.1,619.1 355.4,618.1 355.8,617.4 356.1,618.6 356.5,619.2 356.8,619.9 357.2,619 357.5,619.4 357.9,620.3 358.2,617.3 358.6,617.7 358.9,618 359.3,619.3 359.6,618.1 360,617 360.3,619.9 360.7,617.1 361,618.8 361.4,619.1 361.7,619.5 362.1,616.7 362.4,621.2 362.8,620.6 363.1,619 363.5,617 363.8,619.3 364.2,618.8 364.5,616.5 364.9,620.9 365.2,620.5 365.6,621.6 365.9,616.9 366.3,618.7 366.6,619.1 367,620.4 367.3,617.3 367.7,617.6 368,619.3 368.4,619.7 368.7,622 369.1,617.1 369.4,619.7 369.8,618.6 370.1,620.4 370.5,618.9 370.8,620.4 371.2,621.9 371.5,618.5 371.9,619 372.2,621.1 372.6,622 372.9,618 373.3,620.5 373.6,619.6 374,618.3 374.3,620.3 374.7,622.2 375,621.5 375.4,619.8 375.7,620 376.1,621.6 376.4,622.2 376.8,619 377.1,619.3 377.5,621.3 377.9,618.2 378.2,619.6 378.6,619 378.9,620.4 379.3,619.7 379.6,620.9 380,622 380.3,618.9 380.7,618.9 381,619.7 381.4,619 381.7,622.2 382.1,618.8 382.4,618.9 382.8,618.7 383.1,616.9 383.5,618.7 383.8,620.9 384.2,618.1 384.5,619.7 384.9,619.6 385.2,620.7 385.6,617.8 385.9,618.6 386.3,618.6 386.6,617.5 387,621.1 387.3,618.6 387.7,617.7 388,617.6 388.4,619.6 388.7,618.9 389.1,618.2 389.4,619.9 389.8,618.2 390.1,618.2 390.5,618.8 390.8,617.3 391.2,619.2 391.5,618.3 391.9,617.3 392.2,616.3 392.6,616.5 392.9,617.4 393.3,618.9 393.6,614.8 394,617.1 394.3,615.7 394.7,618.2 395,614.5 395.4,618.3 395.7,614.9 396.1,616.2 396.4,616.7 396.8,616.1 397.1,615.2 397.5,615.3 397.8,613 398.2,614.9 398.5,612.2 398.9,616.3 399.2,613.2 399.6,614.8 399.9,615.2 400.3,613.2 400.6,610.6 401,611.7 401.3,612.6 401.7,611.3 402,609.8 402.4,609.5 402.7,608 403.1,608.3 403.4,608.6 403.8,605.5 404.1,605.4 404.5,604.7 404.8,603.6 405.2,599.4 405.5,596 405.9,594.3 406.2,593.6 423.4,595.8 423.8,598.7 424.1,598.1 424.5,600.9 424.8,602.5 425.2,600.7 425.5,606 425.9,603.6 426.2,604.3 426.6,604.3 426.9,607.5 427.3,608.1 427.6,606.3 428,610.7 428.3,610.6 428.7,610.5 429,614.1 429.4,613.2 429.7,612 430.1,614.6 430.4,611.8 430.8,613.5 431.1,614.7 431.5,614.3 431.8,614 432.2,615.8 432.5,614.5 432.9,614.7 433.2,613.9 433.6,616.6 433.9,614.8 434.3,617.5 434.6,616.4 435,618.6 435.3,614.5 435.7,616.3 436,619.2 436.4,617.4 436.7,618.4 437.1,617.3 437.4,617.3 437.8,617.7 438.1,616.4 438.5,618.2 438.8,619 439.2,618.9 439.5,617.9 439.9,617.3 440.2,618.5 440.6,618.4 440.9,616.5 441.3,616.2 441.6,616.8 442,618.6 442.3,617.7 442.7,617.6 443,619.1 443.4,619.8 443.7,621 444.1,617.8 444.4,617.3 444.8,618.6 445.1,617.7 445.5,619 445.8,618.7 446.2,618.8 446.5,620.5 446.9,620 447.2,619.2 447.6,617.4 447.9,620 448.3,618.2 448.6,619.6 449,622.3 449.3,620.1 449.7,617.7 450,619.3 450.4,620.6 450.7,618.8 451.1,619.6 451.4,619.9 451.8,619.5 452.1,620.2 452.5,619 452.8,619.7 453.2,619.1 453.5,620.5 453.9,622.4 454.2,620.2 454.6,620.5 454.9,621.5 455.3,619.4 455.6,620.7 456,620.3 456.3,620.9 456.7,619.4 457,618.4 457.4,621.1 457.7,620.1 458.1,617.2 458.4,620.5 458.8,622.3 459.1,619.7 459.5,620.6 459.8,620.3 460.2,620.4 460.5,620.1 460.9,620.4 461.2,617.8 461.6,621.1 461.9,619.7 462.3,620.6 462.6,619.6 463,620.5 463.3,618.8 463.7,620 464,618.3 464.4,619.9 464.7,619.5 465.1,617.5 465.5,618.6 465.8,619.2 466.2,618.8 466.5,620.2 466.9,620.6 467.2,619.9 467.6,618 467.9,618.8 468.3,620.1 468.6,618.1 469,617.8 469.3,619.7 469.7,620 470,619 470.4,617.3 470.7,617.5 471.1,618.5 471.4,615.6 471.8,618.5 472.1,616.5 472.5,616.8 472.8,617.4 473.2,617.8 473.5,620 473.9,617.9 474.2,617.7 474.6,616.9 474.9,618.6 475.3,618.4 475.6,615.6 476,613.9 476.3,616.3 476.7,617.5 477,615.2 477.4,618.4 477.7,615.6 478.1,614.8 478.4,615.2 478.8,615.8 479.1,615.1 479.5,616.4 479.8,613.8 480.2,614.4 480.5,612.5 480.9,611.8 481.2,611.2 481.6,612.8 481.9,610.4 482.3,608.8 482.6,606.4 483,604.4 483.3,602.1 499.8,602.6 500.1,603.3 500.5,601.2 500.8,605 501.2,604 501.5,606.9 501.9,606.1 502.2,607 502.6,608.7 502.9,607.1 503.3,610.4 503.6,611.4 504,610.1 504.3,608.9 504.7,610.8 505,611.7 505.4,609.8 505.7,611.4 506.1,609.7 506.4,613 506.8,610.2 507.1,610.8 507.5,609 507.8,610.4 508.2,610.8 508.5,611 508.9,610.7 509.3,611.4 509.6,606 510,608.3 510.3,608 510.7,604.4 511,601.5 511.4,603 511.7,602.4 512.1,598.3 522.7,602 523.1,602.4 523.4,605.4 523.8,605.8 524.1,606.8 524.5,609.3 524.8,610.4 525.2,610.5 525.5,611.1 525.9,611.2 526.2,614.5 526.6,612.3 526.9,612.2 527.3,613.7 527.6,615 528,614 528.3,614.3 528.7,614.2 529,616.7 529.4,616 529.7,615.7 530.1,613.6 530.4,618.7 530.8,616.2 531.2,619.3 531.5,618.5 531.9,615 532.2,619.3 532.6,616.7 532.9,616.5 533.3,616.8 533.6,616.7 534,616.1 534.3,616.2 534.7,615.5 535,618.2 535.4,619.1 535.7,618.4 536.1,618.7 536.4,618.4 536.8,616.1 537.1,619.2 537.5,618 537.8,618.2 538.2,617.3 538.5,620.7 538.9,616.6 539.2,618.4 539.6,618.4 539.9,615.9 540.3,618.4 540.6,616.5 541,616.1 541.3,621 541.7,617.1 542,618.1 542.4,616.9 542.7,618.2 543.1,619.3 543.4,620.7 543.8,617.7 544.1,621.4 544.5,619.7 544.8,622.1 545.2,617.7 545.5,618.2 545.9,617.3 546.2,620.3 546.6,620.9 546.9,619.5 547.3,620.2 547.6,619.2 548,619.3 548.3,619.7 548.7,619.7 549,622.2 549.4,619.3 549.7,619.5 550.1,621.1 550.4,618.9 550.8,620.6 551.1,622.8 551.5,619.5 551.8,620.9 552.2,620.6 552.5,620.1 552.9,621.5 553.2,620.2 553.6,622.7 553.9,622.4 554.3,621.5 554.6,621.7 555,622.8 555.3,620.4 555.7,622 556,623.1 556.4,621.8 556.7,622.5 557.1,620.8 557.4,619.6 557.8,622.5 558.1,622.8 558.5,622.9 558.8,624.4 559.2,624.1 559.5,624.1 559.9,622.7 560.2,621.3 560.6,621.7 560.9,621.1 561.3,620.6 561.6,621.4 562,622.6 562.3,621.5 562.7,623.3 563,621.5 563.4,623.1 563.7,622.6 564.1,622.8 564.4,622.4 564.8,622.1 565.1,620.8 565.5,624.2 565.8,623.9 566.2,624.3 566.5,623 566.9,625.1 567.2,621 567.6,624.3 567.9,624 568.3,623.4 568.6,620.9 569,623.9 569.3,623.6 569.7,622.4 570,621.6 570.4,623.8 570.7,621.5 571.1,620.9 571.4,623.1 571.8,622.5 572.1,622.8 572.5,625.1 572.8,624.4 573.2,623.9 573.5,624.1 573.9,622.4 574.2,622.6 574.6,619.9 575,621.2 575.3,620 575.7,620.7 576,620.7 576.4,623.2 576.7,623.3 577.1,622.9 577.4,623.2 577.8,622.4 578.1,620 578.5,622.2 578.8,623.6 579.2,621 579.5,622 579.9,623.1 580.2,622.3 580.6,621.4 580.9,622.2 581.3,620.9 581.6,621.5 582,622.1 582.3,621.2 582.7,621.2 583,622.6 583.4,620.4 583.7,620 584.1,621.6 584.4,620.4 584.8,621.2 585.1,622.8 585.5,622.7 585.8,621.7 586.2,622.5 586.5,619.9 586.9,620.4 587.2,621.3 587.6,621.5 587.9,623.2 588.3,621.4 588.6,621.7 589,620.8 589.3,619.1 589.7,621.8 590,619.5 590.4,619.3 590.7,618.6 591.1,620.3 591.4,622.4 591.8,620.3 592.1,622 592.5,620.4 592.8,619.2 593.2,620.9 593.5,621.6 593.9,621 594.2,620.3 594.6,623.2 594.9,621.5 595.3,620.9 595.6,620.6 596,619.1 596.3,620.3 596.7,621.5 597,620.6 597.4,619.6 597.7,621.6 598.1,618.2 598.4,619.4 598.8,621 599.1,620.7 599.5,620.3 599.8,621.5 600.2,617.4 600.5,621.7 600.9,616.8 601.2,620.9 601.6,619.8 601.9,617 602.3,616.9 602.6,614.9 603,611.6 603.3,608.3 603.7,609.1 604,607.1 604.4,603 604.7,604 605.1,604.5 605.4,602.1 605.8,605.4 606.1,604.8 606.5,604 606.8,607.7 607.2,609.1 607.5,611 607.9,612 608.2,616.1 608.6,618.9 608.9,617.9 609.3,618.9 609.6,620.5 610,619.7 610.3,621.7 610.7,620.6 611,619.6 611.4,621.9 611.7,621.3 612.1,620.8 612.4,621.1 612.8,622.1 613.1,621.4 613.5,619.5 613.8,620.7 614.2,621 614.5,622 614.9,623 615.2,620.7 615.6,622.7 615.9,620.4 616.3,620 616.6,622.4 617,622.8 617.3,622.8 617.7,621 618,620.9 618.4,620.4 618.8,620.8 619.1,620.7 619.5,618.6 619.8,620.2 620.2,620 620.5,620.4 620.9,619.7 621.2,623.4 621.6,621.5 621.9,619.9 622.3,621 622.6,620.4 623,620.9 623.3,620.5 623.7,619.7 624,621.5 624.4,621 624.7,620.7 625.1,621.7 625.4,620.8 625.8,621.1 626.1,622.1 626.5,621.8 626.8,623.7 627.2,620.4 627.5,620.9 627.9,622.7 628.2,621.4 628.6,620.2 628.9,621.6 629.3,622.7 629.6,624.1 630,622.1 630.3,621.9 630.7,621.3 631,621.3 631.4,622 631.7,620.6 632.1,621.6 632.4,620.3 632.8,622.8 633.1,620.5 633.5,621.6 633.8,621 634.2,621.1 634.5,620 634.9,622.2 635.2,621.1 635.6,622.3 635.9,621.2 636.3,622.2 636.6,620.4 637,622 637.3,622.7 637.7,619.2 638,621.1 638.4,619.6 638.7,621.8 639.1,622.6 639.4,620.9 639.8,623.6 640.1,622.1 640.5,624.5 640.8,621.8 641.2,622.5 641.5,623.5 641.9,621.7 642.2,622.8 642.6,622.3 642.9,620.9 643.3,622.5 643.6,622.8 644,622.3 644.3,623.8 644.7,620.9 645,622.7 645.4,621.8 645.7,619.7 646.1,622.4 646.4,621 646.8,620.2 647.1,624.7 647.5,620.4 647.8,624.3 648.2,620.7 648.5,619.6 648.9,624.2 649.2,619.5 649.6,622.1 649.9,623.5 650.3,622.9 650.6,622.1 651,622.3 651.3,623.5 651.7,620.2 652,620 652.4,620.8 652.7,624 653.1,622.7 653.4,622.5 653.8,620.9 654.1,621.5 654.5,621.4 654.8,619 655.2,619.9 655.5,617.5 655.9,618.6 656.2,616.2 656.6,617.5 656.9,619.2 657.3,615.7 657.6,618.8 658,614.8 658.3,612.6 658.7,613.6 659,612.6 659.4,608.5 659.7,611.5 660.1,607.6 660.4,607.4 660.8,604.4 661.1,604.5 661.5,597.8 676,595 676.4,599.3 676.7,602.5 677.1,599.4 677.4,605.2 677.8,606.1 678.1,607.4 678.5,606.5 678.8,610.8 679.2,610.5 679.5,609.2 679.9,611 680.2,611.4 680.6,611.5 680.9,611.2 681.3,611 681.6,611.8 682,610.4 682.3,611.2 682.7,609.6 683,607.3 683.4,605.6 683.7,603.7 684.1,601.5 684.5,601.4 684.8,598.9 685.2,597.6 685.5,596 696,603.9 696.4,607.3 696.7,609.4 697.1,610.4 697.4,609.3 697.8,613.1 698.1,615.7 698.5,615.9 698.8,617.9 699.2,617 699.5,619.7 699.9,620.1 700.2,618.1 700.6,619.3 700.9,620.8 701.3,620.9 701.6,619.7 702,622.5 702.3,623.7 702.7,620.4 703,618.8 703.4,621.3 703.7,620.8 704.1,620.6 704.4,621.6 704.8,621.3 705.1,620.2 705.5,624.1 705.8,621.5 706.2,623.6 706.5,621.2 706.9,622 707.2,623.4 707.6,624.3 707.9,620.2 708.3,621.4 708.6,623.8 709,622.2 709.3,623.7 709.7,621.8 710,623.8 710.4,623.9 710.7,621.3 711.1,622.2 711.4,623.6 711.8,621.9 712.1,622.5 712.5,622.7 712.8,622.3 713.2,620.9 713.5,622.4 713.9,624.8 714.2,621.5 714.6,624.2 714.9,621.6 715.3,624.6 715.6,621.9 716,622.7 716.3,620.9 716.7,621.7 717,621.1 717.4,621.4 717.7,623.7 718.1,623.3 718.4,623.6 718.8,622.2 719.1,619.9 719.5,623.6 719.8,623.1 720.2,622.2 720.5,623.4 720.9,622.2 721.2,621.7 721.6,623.4 721.9,621.3 722.3,622.9 722.6,620 723,622.3 723.3,622.3 723.7,621.4 724,621.2 724.4,624 724.7,623.3 725.1,622.5 725.4,623.2 725.8,622 726.1,620.2 726.5,622.1 726.8,621 727.2,623.1 727.5,620.6 727.9,622.8 728.3,623 728.6,622.9 729,623.5 729.3,624.9 729.7,621.9 730,620.3 730.4,625.4 730.7,624.7 731.1,624.2 731.4,622.5 731.8,621.9 732.1,621.8 732.5,623.4 732.8,623.7 733.2,622 733.5,623.3 733.9,623.5 734.2,623.2 734.6,622.7 734.9,624.9 735.3,621.7 735.6,622.2 736,624 736.3,625.6 736.7,625.1 737,622.7 737.4,624.6 737.7,622.3 738.1,624.7 738.4,621.5 738.8,622.6 739.1,624.4 739.5,622.1 739.8,623.7 740.2,624.2 740.5,623.7 740.9,623.8 741.2,625 741.6,622.4 741.9,625.5 742.3,623.7 742.6,622.5 743,624.1 743.3,622.4 743.7,622.9 744,620.7 744.4,620.4 744.7,622.1 745.1,623.2 745.4,624 745.8,623.2 746.1,622.3 746.5,620.3 746.8,623.6 747.2,622.3 747.5,624.7 747.9,622.6 748.2,620.3 748.6,621.7 748.9,623 749.3,621.1 749.6,622.7 750,622.9 750.3,623.4 750.7,623.6 751,622.9 751.4,622.9 751.7,625.2 752.1,621.2 752.4,622.4 752.8,622.1 753.1,622.6 753.5,621.5 753.8,621.6 754.2,623.1 754.5,624.2 754.9,621.7 755.2,621.3 755.6,620.9 755.9,622.6 756.3,622.8 756.6,622.7 757,622.8 757.3,620.9 757.7,619.8 758,621.3 758.4,620.7 758.7,622 759.1,622.6 759.4,623.8 759.8,623.2 760.1,619.8 760.5,620.4 760.8,622 761.2,621.1 761.5,621.2 761.9,622.4 762.2,618.8 762.6,620.6 762.9,618.8 763.3,614.9 763.6,617.3 764,616.3 764.3,617.2 764.7,614.6 765,611.3 765.4,609.7 765.7,611.1 766.1,609.2 766.4,607.8 766.8,603.7 767.1,603 767.5,599 767.8,598.5 768.2,598.3 768.5,595.2 771,596.2 771.3,595.9 771.7,598.3 772.1,598.2 772.4,600.9 772.8,604.8 773.1,605.1 773.5,606 773.8,610.1 774.2,613.7 774.5,611.6 774.9,612.8 775.2,614.7 775.6,614 775.9,619.2 776.3,620.2 776.6,616 777,620.1 777.3,618.6 777.7,619.1 778,621.2 778.4,619.9 778.7,621.6 779.1,621.6 779.4,621.8 779.8,621.8 780.1,622.5 780.5,621.4 780.8,619.4 781.2,621.2 781.5,620.2 781.9,622.7 782.2,622.8 782.6,623.1 782.9,623.2 783.3,624.2 783.6,620.4 784,622.4 784.3,620.1 784.7,622 785,621.7 785.4,623.4 785.7,624.1 786.1,621.3 786.4,620.4 786.8,622.9 787.1,621.9 787.5,621.5 787.8,623.7 788.2,621.4 788.5,620.2 788.9,621.9 789.2,619.3 789.6,622.2 789.9,619.3 790.3,624 790.6,619.7 791,622.7 791.3,620.9 791.7,623.7 792,622.5 792.4,623.2 792.7,624 793.1,620.2 793.4,623.9 793.8,622.8 794.1,620.9 794.5,624 794.8,622.1 795.2,622.3 795.5,620.9 795.9,619.9 796.2,619.3 796.6,621.9 796.9,622.1 797.3,620.8 797.6,623.8 798,622.7 798.3,619.1 798.7,622.8 799,621.5 799.4,621.7 799.7,621.8 800.1,623.4 800.4,622.3 800.8,621.3 801.1,623.8 801.5,620.1 801.8,622.1 802.2,619.7 802.5,621.1 802.9,621.1 803.2,622.3 803.6,621.8 803.9,619.4 804.3,621.1 804.6,619.1 805,619.8 805.3,619.5 805.7,620 806,621.9 806.4,620.2 806.7,622.6 807.1,621.2 807.4,620.4 807.8,622 808.1,622 808.5,622.3 808.8,623.3 809.2,623.6 809.5,621.5 809.9,621.8 810.2,621.2 810.6,624.1 810.9,620.2 811.3,621.9 811.6,622.3 812,621.8 812.3,619.3 812.7,624 813,621.3 813.4,623.5 813.7,621.5 814.1,621.1 814.4,620.6 814.8,619.3 815.1,619.9 815.5,622.4 815.9,621.5 816.2,618.6 816.6,621.5 816.9,622.7 817.3,620.8 817.6,620.9 818,620.9 818.3,622.5 818.7,622.8 819,623.1 819.4,622.7 819.7,618.7 820.1,620.2 820.4,621.6 820.8,620 821.1,620.5 821.5,618.4 821.8,618.7 822.2,619.8 822.5,620.5 822.9,615.7 823.2,618.3 823.6,617.3 823.9,615.7 824.3,614.3 824.6,612.8 825,615.6 825.3,612.8 825.7,610.9 826,611.3 826.4,608.3 826.7,608.2 827.1,606.4 827.4,605.5 827.8,602.2 828.1,601.3 828.5,598.3 828.8,595.6 829.2,595.4 829.5,593.3 829.9,592.9 830.9,592 831.3,595.5 831.6,594.8 832,595.8 832.3,596 832.7,600.3 833,604 833.4,604.4 833.7,606.9 834.1,607.3 834.4,611.2 834.8,612.8 835.1,615.8 835.5,616.3 835.8,617 836.2,616.5 836.5,617.7 836.9,616.9 837.2,620.1 837.6,619.7 837.9,621.7 838.3,622.9 838.6,620.4 839,623.8 839.3,621.6 839.7,623.4 840,622.2 840.4,624.1 840.7,622 841.1,623.2 841.4,622.4 841.8,624.2 842.1,622.4 842.5,625.4 842.8,622.4 843.2,624 843.5,622.2 843.9,623 844.2,624.4 844.6,623.3 844.9,625.2 845.3,622.7 845.6,624.8 846,624.5 846.3,624.1 846.7,626.2 847,625.9 847.4,623.2 847.7,623.2 848.1,626.8 848.4,623.8 848.8,625.2 849.1,625.4 849.5,624.4 849.8,622.9 850.2,626 850.5,627.4 850.9,622.7 851.2,625.1 851.6,626.6 851.9,625 852.3,626.2 852.6,622.6 853,625 853.3,624.1 853.7,623.6 854,626.2 854.4,625.5 854.7,626.4 855.1,625.6 855.4,627 855.8,625.7 856.1,622.8 856.5,625.5 856.8,622.6 857.2,626.6 857.5,625.4 857.9,625.5 858.2,624.5 858.6,625 858.9,627.5 859.3,626.1 859.7,627 860,622.7 860.4,622.7 860.7,623.6 861.1,627 861.4,627 861.8,624.3 862.1,625.3 862.5,626 862.8,623.6 863.2,626.3 863.5,622.7 863.9,623.5 864.2,626.6 864.6,624.1 864.9,625.1 865.3,624.8 865.6,623.7 866,626 866.3,623.1 866.7,625.9 867,625.1 867.4,624.6 867.7,625.4 868.1,624.7 868.4,624.7 868.8,624.3 869.1,626.2 869.5,625.8 869.8,625.7 870.2,623.9 870.5,626.9 870.9,625.3 871.2,625.7 871.6,624.3 871.9,623.5 872.3,626 872.6,625.1 873,623.4 873.3,627.5 873.7,623.7 874,622.8 874.4,623.9 874.7,625.3 875.1,624.6 875.4,624.4 875.8,626.6 876.1,625.5 876.5,625.6 876.8,625.5 877.2,624.9 877.5,624.8 877.9,626.2 878.2,624.8 878.6,625.3 878.9,624.3 879.3,625 879.6,625.7 880,623.3 880.3,625 880.7,624.7 881,625.7 881.4,625 881.7,623.5 882.1,624.3 882.4,625.9 882.8,626.3 883.1,625.5 883.5,623.4 883.8,624.7 884.2,626.7 884.5,625.2 884.9,626.2 885.2,625.3 885.6,626.7 885.9,625 886.3,628.1 886.6,627.3 887,623.5 887.3,625.5 887.7,627.9 888,624.3 888.4,623.7 888.7,623.4 889.1,623.8 889.4,625.7 889.8,627.1 890.1,626.2 890.5,627.3 890.8,627.3 891.2,625.5 891.5,626.7 891.9,625.9 892.2,624 892.6,624.3 892.9,626 893.3,625.5 893.6,626.4 894,625.3 894.3,625.9 894.7,625.1 895,624.2 895.4,626.2 895.7,627 896.1,626.8 896.4,625.6 896.8,625 897.1,626.3 897.5,623.2 897.8,627 898.2,624.5 898.5,625.7 898.9,625.6 899.2,625.5 899.6,627.9 899.9,625.8 900.3,625.6 900.6,626.3 901,625.9 901.3,623.3 901.7,624.1 902,625.2 902.4,624 902.7,627.3 903.1,622.8 903.5,626.3 903.8,624.3 904.2,625.4 904.5,622.7 904.9,623.6 905.2,625.8 905.6,627.1 905.9,625.8 906.3,625.5 906.6,625.4 907,625.4 907.3,626.3 907.7,627.7 908,625.3 908.4,626.5 908.7,627.2 909.1,626 909.4,625.6 909.8,626 910.1,624.3 910.5,625.6 910.8,624.3 911.2,626.7 911.5,622.6 911.9,622.9 912.2,622.3 912.6,626 912.9,622.7 913.3,625 913.6,625.3 914,623 914.3,625.9 914.7,622.9 915,626.8 915.4,624.2 915.7,622.7 916.1,626.7 916.4,624.6 916.8,624.4 917.1,624.4 917.5,622.2 917.8,624.2 918.2,622 918.5,621.9 918.9,626.8 919.2,626.7 919.6,624.7 919.9,626.3 920.3,624.7 920.6,623 921,622.7 921.3,624.1 921.7,625 922,622.4 922.4,622.5 922.7,623.6 923.1,622.6 923.4,624 923.8,624.4 924.1,621.8 924.5,623.3 924.8,625.3 925.2,623.1 925.5,623.2 925.9,620.2 926.2,621.5 926.6,620.5 926.9,624 927.3,621.8 927.6,618.8 928,620.3 928.3,619.5 928.7,622 929,617.9 929.4,618.4 929.7,620.6 930.1,617.9 930.4,616.4 930.8,616.8 931.1,618.2 931.5,615.4 931.8,619.1 932.2,618.8 932.5,615.6 932.9,614.2 933.2,616.2 933.6,616.4 933.9,617.1 934.3,618.3 934.6,615.3 935,615.3 935.3,618.8 935.7,616.3 936,616.9 936.4,615.2 936.7,619.5 937.1,618 937.4,616.9 937.8,618.9 938.1,616.6 938.5,619.1 938.8,621.3 939.2,619.5 939.5,621.2 939.9,619.2 940.2,620.8 940.6,620.4 940.9,620.3 941.3,622.7 941.6,622.5 942,623.3 942.3,623.3 942.7,621.7 943,623 943.4,623.7 943.7,622.1 944.1,623.8 944.4,621.1 944.8,621.5 945.1,622.9 945.5,625.6 945.8,622.8 946.2,623.5 946.5,623.1 946.9,621.8 947.3,623.4 947.6,621.3 948,621.9 948.3,623.2 948.7,623.4 949,624.9 949.4,622.2 949.7,624.8 950.1,621.8 950.4,623.9 950.8,623.1 951.1,625.9 951.5,624.1 951.8,624.3 952.2,624 952.5,624 952.9,624.3 953.2,624.1 953.6,624.2 953.9,622.8 954.3,623.6 954.6,621.5 955,623.1 955.3,622.1 955.7,625.1 956,624.2 956.4,624.9 956.7,623.9 957.1,624.7 957.4,623.3 957.8,620.7 958.1,622.1 958.5,624.7 958.8,623.5 959.2,624.5 959.5,622.9 959.9,623.2 960.2,624.1 960.6,625.9 960.9,622.1 961.3,622.6 961.6,621.6 962,621.7 962.3,620.9 962.7,624.3 963,623.8 963.4,625.4 963.7,624.2 964.1,622.9 964.4,621.8 964.8,622.2 965.1,623.1 965.5,622.7 965.8,622.9 966.2,623.1 966.5,625.4 966.9,623 967.2,622.5 967.6,623.1 967.9,623 968.3,624.9 968.6,624"/>
<polyline class="ob" points="241,575.9 241.2,576.7 241.4,574.3 241.5,574.1 241.7,568 241.9,570.4 242.1,566.1 242.2,562.5 242.4,561.3 242.6,558.3 242.8,550.6 242.9,546.4 243.1,543.9 243.3,541.7 243.5,540.1 243.6,537.8 243.8,536.8 244.2,535.4 244.5,533.9 244.7,532.4 244.9,529.8 245,533 245.2,529.1 245.4,521.6 245.6,521.2 245.7,511.6 245.9,509.5 246.1,501.1 246.3,495.1 246.5,490.1 246.6,479 246.8,471.1 247,457.2 247.2,450 247.3,438.2 247.5,427 247.7,409.5 247.9,390.8 248,374.6 248.2,354.6 248.4,332.9 248.6,314.5 248.7,286.6 248.9,262.6 249.1,239.4 249.3,210.1 249.4,184 249.6,156.7 249.8,131.7 250,108.5 250.1,87.3 250.3,67.1 250.5,58.1 250.7,51.4 250.8,51.1 251,58.3 251.2,69.2 251.4,85.8 251.5,104.8 251.7,127.3 251.9,156.6 252.1,182.6 252.2,211.8 252.4,237.3 252.6,267.4 252.8,299.5 252.9,326.6 253.1,355.6 253.3,380 253.5,400.1 253.6,418.1 253.8,433.1 254,448.2 254.2,458.4 254.3,468.2 254.5,478.5 254.7,486.1 254.9,492.5 255,497.4 255.2,503.5 255.4,507.5 255.6,516 255.7,515.3 255.9,522.4 256.1,527.3 256.3,531.8 256.4,531.7 256.6,539.2 256.8,538.8 257,543.6 257.1,546.8 257.3,549.8 257.5,550.8 257.7,552.3 257.8,555.8 258,559.3 258.2,560 258.4,561.1 258.5,563.3 258.7,564.3 258.9,563.3 259.1,567.2 259.2,569.3 259.4,571.7 259.6,566.4 259.8,573.9 259.9,573.4 260.3,573.9 260.6,574.6 261,578 261.3,579.5 282.4,583.5 282.5,583.8 282.7,579.8 282.9,578.5 283.1,579.2 283.2,575.3 283.4,574.6 283.6,571.2 283.8,571.9 283.9,571.5 284.1,564.8 284.3,564 284.5,566.2 284.6,561.4 284.8,557.1 285,556.8 285.2,549.3 285.3,548 285.5,545.3 285.7,541 285.9,538.9 286,532.8 286.2,527.3 286.4,525.6 286.6,520.5 286.7,515.6 286.9,510.3 287.1,506.3 287.3,500 287.4,495.9 287.6,488.1 287.8,483.8 288,480.8 288.1,473.3 288.3,467.4 288.5,462.4 288.7,453.9 288.8,443.3 289,437.1 289.2,420.5 289.4,409.8 289.5,394.4 289.7,376.9 289.9,361.7 290.1,350.6 290.3,337.5 290.4,325.7 290.6,315.8 290.8,315.2 291,315.2 291.1,318.4 291.3,326 291.5,343.8 291.7,353.5 291.8,370.3 292,385.4 292.2,406.1 292.4,421 292.5,435.6 292.7,444.7 292.9,460.3 293.1,466.6 293.2,478.2 293.4,488.1 293.6,492.2 293.8,502.1 293.9,510.3 294.1,514.6 294.3,520.7 294.5,526.5 294.6,531.9 294.8,534.4 295,539.8 295.2,542 295.3,545.8 295.5,551.9 295.7,557.4 295.9,559 296,559.7 296.2,560.4 296.4,565.4 296.6,569.8 296.7,568 296.9,570.9 297.1,573.9 297.3,573.6 297.4,576 297.6,579.3 297.8,579.1 298,580.6 406.6,592.4 406.8,593.9 406.9,589.7 407.1,589.8 407.3,587 407.5,586.5 407.6,583.7 407.8,583.9 408,582.5 408.2,581.4 408.3,581.2 408.5,578.6 408.7,578.6 408.9,576.6 409,571.5 409.2,574.9 409.4,570.8 409.6,569.1 409.7,566 409.9,565.1 410.1,560 410.3,558.2 410.4,553.3 410.6,552.6 410.8,548.2 411,544.7 411.1,542.3 411.3,537.1 411.5,532.9 411.7,527 411.8,517.8 412,513.5 412.2,508.4 412.4,505.3 412.5,499.3 412.7,487.7 412.9,479.9 413.1,477.3 413.2,472 413.4,464 413.6,455 413.8,450.7 413.9,443 414.1,437.6 414.3,431.4 414.5,426.8 414.6,422.3 414.8,418.3 415,415.2 415.2,414.2 415.3,408.1 415.5,406.9 415.9,409.2 416,408.5 416.2,411.4 416.4,413.5 416.6,425 416.7,430 416.9,441.5 417.1,449.4 417.3,461.6 417.4,467.4 417.6,480.2 417.8,490.2 418,502.7 418.1,508.4 418.3,516.7 418.5,521.4 418.7,527.7 418.8,535.6 419,540.7 419.2,542.1 419.4,547.5 419.5,552.8 419.7,551 419.9,559.2 420.1,559.5 420.2,562.4 420.4,565.3 420.6,570.9 420.8,570.4 420.9,573.3 421.1,575.6 421.3,577.2 421.5,583.3 421.7,579.2 421.8,583.8 422,584.5 422.2,587 422.4,587 422.5,590.6 422.7,592.2 422.9,591.9 423.1,592.3 483.7,602.7 483.8,601.8 484,598.8 484.2,597.2 484.4,598.9 484.5,597.8 484.7,593.4 484.9,593.5 485.1,595.4 485.2,592.7 485.4,589.4 485.6,589.2 485.8,585.5 485.9,584.3 486.1,582.9 486.3,578.8 486.5,578.2 486.6,572.8 486.8,568.9 487,565.8 487.2,561.4 487.4,556.1 487.5,551.8 487.7,546.4 487.9,541.7 488.1,532.5 488.2,529.9 488.4,520.8 488.6,514.6 488.8,509.8 488.9,502.5 489.1,498.9 489.3,490.6 489.5,487 489.6,480.8 489.8,476.6 490,471.8 490.2,461.9 490.3,457.2 490.5,451.1 490.7,448.7 490.9,443.5 491,436.2 491.2,435.2 491.4,431.7 491.6,421.5 491.7,421.2 491.9,417.4 492.1,413.3 492.3,409.4 492.4,406.2 492.6,404.2 493,404.9 493.1,405.2 493.3,407.7 493.5,410 493.7,414.7 493.8,420.6 494,422.1 494.2,433.1 494.4,442.7 494.5,449.6 494.7,458.8 494.9,468.4 495.1,480 495.2,488.5 495.4,497.7 495.6,506.8 495.8,517.3 495.9,520.5 496.1,530.7 496.3,536.3 496.5,540.6 496.6,548.4 496.8,556.3 497,558.3 497.2,563.1 497.3,567 497.5,576.6 497.7,574.5 497.9,581.2 498,583.6 498.2,589.4 498.4,590.7 498.6,592.1 498.7,593.8 498.9,594.7 499.1,598.1 499.3,597.6 499.4,600.7 512.4,598.8 512.6,596.2 512.8,595.2 512.9,593.8 513.1,595.1 513.3,591.8 513.5,590.8 513.6,588.5 513.8,586 514,583.2 514.2,585.4 514.3,580.7 514.5,582 514.7,577.1 514.9,574.6 515,575.9 515.2,574.4 515.4,571.4 515.6,570.3 515.7,569 515.9,566.9 516.1,566.2 516.3,563.1 516.6,562.4 517,564.7 517.3,564.5 517.7,563.3 518,566.5 518.4,565.4 518.5,566.1 518.7,568.7 518.9,569.9 519.1,571.2 519.2,572.7 519.4,575.5 519.6,575.6 519.8,578.8 519.9,578.9 520.1,581.7 520.3,582 520.5,584.5 520.6,584.9 520.8,586.3 521,589.5 521.2,588.7 521.3,592.7 521.5,592.3 521.7,595 521.9,595.2 522,594.8 522.2,598.9 522.4,601.8 661.7,599.5 661.8,601 662,598.4 662.2,596.6 662.4,593.9 662.6,591.6 662.7,589.8 662.9,593.8 663.1,589.2 663.3,588.9 663.4,586.6 663.6,586.3 663.8,585.8 664,582 664.1,583.7 664.3,581.5 664.5,578.8 664.7,575.7 664.8,578.7 665,578.8 665.4,575 665.7,572.3 666.1,569.3 666.4,571 666.8,567.8 667.1,568.4 667.5,568.6 667.8,567.2 668.2,566 668.5,564.1 668.9,562.9 669.2,564 669.6,564.5 669.9,565.6 670.3,567.5 670.6,565.4 671,567.4 671.3,569.9 671.7,569.2 672,572.6 672.4,574.1 672.7,576.5 673.1,577.8 673.2,578.1 673.4,579.8 673.6,580.3 673.8,581.9 673.9,585.1 674.1,587.4 674.3,584.9 674.5,585.4 674.6,588.8 674.8,588.1 675,590.4 675.2,589.3 675.3,591.9 675.5,592.4 675.7,594.9 685.9,592.1 686.2,590.9 686.6,589.2 686.9,583.4 687.3,582.8 687.6,585.2 688,581.7 688.3,581.6 688.7,578.3 689,574.3 689.4,575.7 689.7,574.7 690.1,572.4 690.4,575.6 690.8,576.4 691.1,578.8 691.5,577.3 691.8,579.5 692.2,579.5 692.5,584.9 692.9,582.4 693,585.6 693.2,588.1 693.4,587.3 693.6,589.2 693.7,591.4 693.9,593.5 694.1,594.9 694.3,594.3 694.4,595.6 694.6,596.4 694.8,594.5 695,597.3 695.1,598.6 695.3,600.4 695.5,600.5 695.7,602.5 768.9,592.8 769.2,590.2 769.6,592.2 769.9,588.8 770.3,591.2 770.6,594.6 830.2,593.4 830.6,592"/>
<polyline class="rc" points="49,532.3 65.3,547.6 93.5,566.7 96.5,564.7 99.1,569.1 105.6,574.8 125.9,590.9 186.4,593 206.5,594 212.6,592.1 218.6,597 220.9,597.1 227,596.4 232.8,594.4 234.5,593.2 235.9,591.7 238.2,587.6 239.8,583.1 241.2,577 242.4,569.1 243.5,559.1 245,533.7 246.3,495.8 247.2,449.1 248,375.1 250,108 250.7,54.7 251,62.5 251.4,92.8 253.6,398 254.5,464.4 255.7,518.2 257.3,552.8 258.4,565.9 259.8,577.3 261.3,585.5 263.3,591.8 265.7,596.6 267.1,598.4 268.5,599.7 269.9,600.6 270.8,600.8 272.4,600.8 274,600.3 275.4,599.4 276.6,598.3 278.7,595.1 280.4,590.6 281.8,585 283.1,577.5 284.1,568.2 285.7,545 286.9,513.5 288,471.3 289.7,381 290.4,364.5 290.8,366.6 291.3,382.1 293.2,480.9 294.6,530.1 296.2,560.6 297.3,572.7 298.5,582.2 299.9,589.3 301.5,594.6 303.4,598.8 305.7,601.9 307.9,603.9 312.5,606.6 313.9,607 316.5,606.8 317.6,607 318.6,607.9 321.4,611.3 323,612.7 325.6,614.3 330,616.3 343.5,618.1 361,619.7 375,620.4 385,620.3 388.9,619.7 392,618.8 394.8,617.7 397.1,616.4 399,614.9 400.8,613 402.4,610.6 403.6,608.1 405.7,601.5 407.5,592.3 408.9,580.3 410.1,563.7 411.8,522.3 414.3,427.4 414.8,415.7 415.2,413.7 415.5,416.8 416,429.8 418.3,519.2 419.9,558.8 420.9,575 422.2,587.6 423.8,597.9 425.7,605.4 426.9,608.6 428.5,611.5 430.2,613.9 432.2,615.7 434.4,617.1 437.2,618.4 440.6,619.3 444.4,620 450,620.6 456.3,620.7 463.3,620.3 469.1,619.6 473.2,618.6 476.3,617.3 478.8,615.6 480.9,613.4 482.1,611.4 483,609.3 484.5,602.9 485.8,592.7 486.8,576.7 488.6,527.2 491.2,416 491.7,401.9 492.3,396.3 492.8,400.3 493.3,413 496.1,529.7 497,557.5 498,580.4 499.1,594.2 500.5,603.6 501.4,606.7 502.2,608.6 503.5,610.3 504.9,611.4 505.9,611.7 506.8,611.6 508.4,610.7 509.8,608.4 511,604.7 512.1,599.7 513.1,592.8 516.1,567.4 516.8,563.8 517.3,563 517.8,564 518.5,567.8 521.5,594 522.6,601.2 523.6,606.5 524.8,610.6 526.2,613.5 528,615.5 530.4,617 534.8,618.3 540.1,619 549.9,621.2 565,623.8 599,621.1 600.7,620.2 601.8,618.3 602.6,615 604.6,604.7 605.1,603.2 605.4,602.9 605.8,603.2 606.3,604.8 608.9,618.1 609.8,620.1 611,621.2 614.4,621.5 646.1,622.6 650.1,622.6 652.6,622.3 654.7,621.2 656.2,619.5 657.6,616.9 659,612.8 661.5,601.7 666.4,572.4 667.8,567.2 668.5,565.9 669.2,565.5 669.7,565.9 670.4,567.2 671.7,571.6 677.1,603.4 678.5,609.4 679.9,613 680.8,613.8 681.5,613.6 682.2,612.6 683,610.2 684.6,603 688.1,582 689.2,578.3 689.7,577.4 690.2,577.3 691.1,578.7 692.2,582.8 696,606.9 698.1,616.4 699.3,619.7 700.6,621.7 702,622.9 703.9,623.5 712,624 740,624.4 753.7,623.4 757.5,622.8 760,622 761.4,621.1 762.4,619.9 764.2,616.1 765.7,609.8 768.5,595 769.2,592.9 769.8,592.4 770.3,593 771,595.3 774,610.8 775.7,616.9 776.8,619 778,620.5 779.6,621.4 781.9,621.9 789.6,622.3 811.3,622 817.8,621.5 819.7,621 821.1,620.4 822.2,619.6 823.2,618.3 824.8,614.7 826.2,609.3 829,595.3 829.7,593.1 830.4,592.4 830.9,593 831.6,595.1 834.6,609.9 836.5,616.6 837.6,618.7 838.8,620.1 840.2,621 842.3,621.7 846.9,622.3 854,622.7 882.6,623.3 899.9,623.5 916.1,622.7 921.5,621.9 925,620.7 927.8,618.8 932,614.4 932.9,613.9 933.6,613.8 935.2,614.5 938.5,617.9 940.2,619.3 942.2,620.4 944.4,621.1 947.4,621.5 951.8,621.7 968.8,621.6"/>
<polyline class="gB" points="49,653.7 49.2,652.8 49.4,653 49.5,650.4 49.7,655.8 49.9,655 50.1,653.1 50.2,654.5 50.4,654.1 50.6,652.4 50.8,654.7 50.9,653.1 51.1,653.1 51.3,652.5 51.5,654.1 51.6,653.4 51.8,654.2 52,652.7 52.2,653.7 52.3,652.4 52.5,654.6 52.7,653.7 52.9,653.9 53,654 53.2,652.2 53.4,654.5 53.6,656.1 53.7,651.4 53.9,651.3 54.1,651.6 54.3,654.6 54.4,653.7 54.6,654.9 54.8,654.4 55,653.8 55.1,653.9 55.3,653.3 55.5,654.6 55.7,652.1 55.8,653 56,653.8 56.2,655.8 56.4,652.5 56.5,652.1 56.7,652.8 56.9,654.7 57.1,653.2 57.2,655.2 57.4,651.1 57.6,654.9 57.8,654.8 57.9,651.7 58.1,653.7 58.3,655 58.5,653.6 58.6,654.8 58.8,656.5 59,653.8 59.2,653.1 59.3,652.5 59.5,654.3 59.7,653.3 59.9,653.3 60,653.4 60.2,654.3 60.4,652.2 60.6,651.6 60.7,650.5 60.9,655 61.1,653.6 61.3,655.4 61.4,653.5 61.6,652.6 61.8,654.1 62,653.4 62.1,651.9 62.3,652.4 62.5,655.7 62.7,653.9 62.8,654 63,653.2 63.2,652.6 63.4,654.6 63.5,653.4 63.7,652.6 63.9,653.3 64.1,652.4 64.2,653.7 64.4,654.9 64.6,652.5 64.8,655.3 64.9,652.7 65.1,653.7 65.3,652.5 65.5,653.2 65.6,653.6 65.8,653 66,652.6 66.2,652.7 66.3,652.5 66.5,651.6 66.7,653.2 66.9,654 67,654.6 67.2,654.3 67.4,656.5 67.6,654.1 67.7,652.9 67.9,655.8 68.1,651.4 68.3,654.7 68.4,652.3 68.6,653.9 68.8,651.1 69,654.6 69.1,653.3 69.3,652.3 69.5,655.6 69.7,654.4 69.8,653.6 70,652.6 70.2,653.4 70.4,653.3 70.5,654.4 70.7,654.5 70.9,652.7 71.1,652.8 71.3,652.9 71.4,651.9 71.6,652.8 71.8,653.4 72,654.3 72.1,655.1 72.3,652.5 72.5,654.2 72.7,653 72.8,656 73,653.4 73.2,654.1 73.4,652.4 73.5,652.5 73.7,653.7 73.9,653 74.1,653.9 74.2,651.6 74.4,654.3 74.6,652.4 74.8,655.6 74.9,653.2 75.1,654.8 75.3,651.8 75.5,654 75.6,652.4 75.8,652.9 76,653.5 76.2,653.1 76.3,654 76.5,654.4 76.7,654.3 76.9,653.4 77,651.9 77.2,652.5 77.4,653.3 77.6,650.9 77.7,654.4 77.9,653.2 78.1,653.2 78.3,654.6 78.4,654.3 78.6,653.8 78.8,652.3 79,653.9 79.1,653.9 79.3,652.4 79.5,654.7 79.7,654.1 79.8,651.1 80,653.6 80.2,652 80.4,654.9 80.5,654.5 80.7,652.2 80.9,652.4 81.1,653.6 81.2,653.2 81.4,655.3 81.6,654.4 81.8,653.2 81.9,654.2 82.1,651.1 82.3,653.9 82.5,654.5 82.6,653.3 82.8,652.7 83,654.2 83.2,655.8 83.3,653.7 83.5,652.2 83.7,655.2 83.9,651.3 84,654.1 84.2,652.8 84.4,654.6 84.6,652.5 84.7,655.1 84.9,653.9 85.1,651.5 85.3,651.2 85.4,653.1 85.6,655 85.8,653.6 86,653.6 86.1,653.2 86.3,654.4 86.5,653.9 86.7,653.8 86.8,652.3 87,654.9 87.2,655.1 87.4,652 87.5,656.2 87.7,654.3 87.9,652.9 88.1,651.3 88.2,654.3 88.4,654.2 88.6,652.8 88.8,651.4 88.9,654.8 89.1,652.8 89.3,652.9 89.5,656.8 89.6,656 89.8,654.6 90,653 90.2,654.3 90.3,650.8 90.5,653.6 90.7,652.6 90.9,652 91,651.7 91.2,654.5 91.4,653.6 91.6,653.7 91.7,654.5 91.9,652.5 92.1,652.1 92.3,651.4 92.4,653.1 92.6,654.4 92.8,653.3 93,654.2 93.2,652.1 93.3,653 93.5,652.6 93.7,652.1 93.9,655.7 94,654.5 94.2,652.6 94.4,652.1 94.6,653.4 94.7,651.8 94.9,654 95.1,652 95.3,653.1 95.4,652.3 95.6,652.9 95.8,651.9 96,651.7 96.1,652.4 96.3,652.7 96.5,653.2 96.7,653.6 96.8,655.3 97,654.4 97.2,653.2 97.4,654.3 97.5,652.7 97.7,655.2 97.9,654.1 98.1,651.9 98.2,654.4 98.4,654.4 98.6,650.4 98.8,652.6 98.9,653 99.1,651.3 99.3,651.5 99.5,652.4 99.6,654.1 99.8,653.8 100,656.5 100.2,653.1 100.3,654.8 100.5,653.6 100.7,653.8 100.9,652.2 101,651.4 101.2,652.7 101.4,654.4 101.6,655.4 101.7,654.3 101.9,654.2 102.1,652.6 102.3,655.4 102.4,655.1 102.6,653 102.8,653.6 103,652.5 103.1,655.3 103.3,654.1 103.5,653.6 103.7,654.1 103.8,654.2 104,653.2 104.2,652.3 104.4,652.3 104.5,651.8 104.7,654.3 104.9,656.2 105.1,651.8 105.2,653.9 105.4,654.2 105.6,652.7 105.8,654 105.9,652.6 106.1,655.1 106.3,653.1 106.5,653.9 106.6,654.6 106.8,653.4 107,651.8 107.2,653.3 107.3,654.7 107.5,653.8 107.7,654.1 107.9,652.7 108,654.1 108.2,654.7 108.4,654 108.6,656 108.7,653.7 108.9,652.8 109.1,652.1 109.3,655.2 109.4,653.9 109.6,655.1 109.8,654.5 110,655.8 110.1,655.4 110.3,653.6 110.5,654.3 110.7,655.2 110.8,652.7 111,655.6 111.2,655.4 111.4,655.1 111.5,653.8 111.7,654.4 111.9,652.9 112.1,654.2 112.2,653.5 112.4,654.2 112.6,653.6 112.8,654.4 112.9,655.4 113.1,652.7 113.3,655.2 113.5,652 113.6,651.8 113.8,654 114,654.2 114.2,654.7 114.3,652.4 114.5,654.1 114.7,654.4 114.9,656.4 115.1,654.1 115.2,654.8 115.4,652.5 115.6,654.1 115.8,653.8 115.9,655 116.1,653.2 116.3,653.4 116.5,654.9 116.6,656.3 116.8,654.7 117,654.7 117.2,654 117.3,655.5 117.5,654.9 117.7,656.2 117.9,654.7 118,653.4 118.2,653.8 118.4,653.3 118.6,653.1 118.7,655.8 118.9,655.3 119.1,653.1 119.3,656.4 119.4,654.7 119.6,653.4 119.8,654.9 120,654.4 120.1,653.7 120.3,652.4 120.5,654.5 120.7,654.8 120.8,651.8 121,655.1 121.2,655.2 121.4,654 121.5,654.7 121.7,654.3 121.9,653.7 122.1,654.2 122.2,656 122.4,653.1 122.6,654.9 122.8,654.8 122.9,653.9 123.1,654.2 123.3,653.2 123.5,653.7 123.6,654.7 123.8,655.2 124,653.7 124.2,657.9 124.3,654.1 124.5,654.8 124.7,654.5 124.9,654.3 125,656.1 125.2,654.2 125.4,656.2 125.6,656 125.7,653.7 125.9,655.9 126.1,654.1 126.3,657.7 126.4,654.4 126.6,653.8 126.8,652.8 127,653.5 127.1,654.2 127.3,653.8 127.5,653.6 127.7,654.1 127.8,654.6 128,656.4 128.2,653.1 128.4,654.3 128.5,653.9 128.7,653.3 128.9,653.6 129.1,654 129.2,655.7 129.4,654.7 129.6,654.4 129.8,655.6 129.9,655.3 130.1,654.7 130.3,655.4 130.5,654.1 130.6,655.7 130.8,655.5 131,654.6 131.2,653.7 131.3,656.6 131.5,655.1 131.7,660.2 131.9,654.4 132,656 132.2,654.6 132.4,655.4 132.6,656 132.7,654.3 132.9,655 133.1,655.3 133.3,655.3 133.4,655.8 133.6,656.2 133.8,656 134,655.4 134.1,654.8 134.3,654 134.5,654.4 134.7,654.6 134.8,656.4 135,654.8 135.2,653.9 135.4,655.9 135.5,654.4 135.7,654.4 135.9,655 136.1,655.8 136.2,652.7 136.4,654.1 136.6,655.5 136.8,654.9 137,654.4 137.1,654.8 137.3,656.8 137.5,654.9 137.7,656.1 137.8,656.2 138,654.9 138.2,655.8 138.4,654.9 138.5,654.7 138.7,654.2 138.9,656.3 139.1,655 139.2,654.8 139.4,654.2 139.6,657.3 139.8,656.2 139.9,655.3 140.1,654.7 140.3,653.9 140.5,655.8 140.6,655.8 140.8,654 141,656.7 141.2,656.3 141.3,653.9 141.5,655 141.7,655.1 141.9,655.7 142,655.4 142.2,653.8 142.4,657.1 142.6,655.9 142.7,656.9 142.9,656.9 143.1,655.4 143.3,656 143.4,656.4 143.6,656.4 143.8,655.5 144,655 144.1,655.7 144.3,654.8 144.5,655.1 144.7,653.6 144.8,655.8 145,654.6 145.2,655.1 145.4,655.7 145.5,656.1 145.7,657.7 145.9,656 146.1,654.3 146.2,655.9 146.4,655.1 146.6,656.2 146.8,655.1 146.9,655.1 147.1,655.3 147.3,655.2 147.5,653.9 147.6,655.1 147.8,655.8 148,657.1 148.2,655.6 148.3,655.5 148.5,656.5 148.7,656.5 148.9,657.6 149,656.5 149.2,655.9 149.4,657.3 149.6,657.5 149.7,655.4 149.9,656.1 150.1,654.2 150.3,655.6 150.4,655 150.6,655.8 150.8,655.5 151,655.8 151.1,655.9 151.3,656.5 151.5,656.2 151.7,655.4 151.8,654.6 152,657.3 152.2,657.4 152.4,655.5 152.5,656.5 152.7,654.3 152.9,654.3 153.1,655.7 153.2,657.5 153.4,654.8 153.6,654.5 153.8,657.6 153.9,653.9 154.1,656.6 154.3,656.4 154.5,655.7 154.6,656.1 154.8,658.6 155,654.7 155.2,655.5 155.3,655.6 155.5,655.1 155.7,654.4 155.9,657.5 156,656.1 156.2,654 156.4,655.1 156.6,656.2 156.7,656.2 156.9,654.3 157.1,655.7 157.3,656.1 157.4,656.2 157.6,656.2 157.8,653.9 158,657.7 158.1,656 158.3,657.7 158.5,658.8 158.7,655.6 158.9,654.5 159,656.7 159.2,655.6 159.4,655.3 159.6,654.6 159.7,657.5 159.9,655.3 160.1,654.2 160.3,655.2 160.4,654.5 160.6,655.9 160.8,655.3 161,654.6 161.1,656.3 161.3,655 161.5,656.4 161.7,657 161.8,655.3 162,655 162.2,655.9 162.4,656.6 162.5,655.6 162.7,655.9 162.9,655.6 163.1,655.9 163.2,656.3 163.4,654.9 163.6,655.1 163.8,655.6 163.9,654.5 164.1,655.7 164.3,656.1 164.5,655.6 164.6,654.9 164.8,654.7 165,657.4 165.2,656.5 165.3,654.4 165.5,654.7 165.7,657.5 165.9,657.1 166,655.7 166.2,656.7 166.4,654 166.6,655.5 166.7,656.3 166.9,653.5 167.1,654.7 167.3,656.3 167.4,656.7 167.6,654.9 167.8,655.8 168,657.1 168.1,655.1 168.3,654.1 168.5,655.4 168.7,655 168.8,656.8 169,655.6 169.2,654.6 169.4,657.9 169.5,654.9 169.7,655.9 169.9,656.1 170.1,656.2 170.2,655.6 170.4,656 170.6,655.3 170.8,653.9 170.9,655.1 171.1,655.2 171.3,655.2 171.5,655.5 171.6,654.7 171.8,656.7 172,657 172.2,653 172.3,655.3 172.5,654.6 172.7,652.6 172.9,655.7 173,654.7 173.2,654.9 173.4,654.6 173.6,656.4 173.7,656.6 173.9,655.6 174.1,656 174.3,655.1 174.4,655.4 174.6,654.5 174.8,655.3 175,654.5 175.1,655.6 175.3,656.1 175.5,655.5 175.7,656.5 175.8,658 176,653 176.2,655.2 176.4,654.6 176.5,654.7 176.7,653.8 176.9,655.2 177.1,654.9 177.2,654.5 177.4,654.9 177.6,654.5 177.8,651.2 177.9,656.3 178.1,654.8 178.3,654.1 178.5,655.5 178.6,654.4 178.8,652.8 179,656 179.2,653.4 179.3,654.9 179.5,655.2 179.7,656.5 179.9,656.3 180,655.3 180.2,654.3 180.4,654.6 180.6,656.2 180.8,656.9 180.9,655.6 181.1,654.4 181.3,656.1 181.5,654.6 181.6,654.6 181.8,654.7 182,655.6 182.2,655.3 182.3,656 182.5,656.4 182.7,655.5 182.9,652.6 183,652.2 183.2,655.1 183.4,654.9 183.6,657.2 183.7,654.9 183.9,654.8 184.1,655.9 184.3,656.1 184.4,654.7 184.6,655.4 184.8,653.7 185,653.9 185.1,656.2 185.3,653.4 185.5,655.9 185.7,655.6 185.8,655.7 186,655.8 186.2,655.5 186.4,652.6 186.5,653.8 186.7,654.2 186.9,655.8 187.1,653.7 187.2,654.1 187.4,654.5 187.6,656.2 187.8,653.3 187.9,653.4 188.1,655.5 188.3,652.6 188.5,655.2 188.6,654.3 188.8,653.2 189,654.4 189.2,653.7 189.3,655 189.5,655.2 189.7,656.3 189.9,654.8 190,654.9 190.2,654.2 190.4,654.7 190.6,655.8 190.7,652.7 190.9,655.4 191.1,654.2 191.3,654.8 191.4,655.1 191.6,655.6 191.8,655 192,654.3 192.1,655 192.3,654.7 192.5,654.5 192.7,655 192.8,655.6 193,654.8 193.2,654.8 193.4,653.3 193.5,654.5 193.7,652.7 193.9,655.4 194.1,653.7 194.2,656 194.4,657.7 194.6,654.2 194.8,656 194.9,655 195.1,654 195.3,653.7 195.5,655.2 195.6,656 195.8,654.9 196,652.1 196.2,653.5 196.3,654.3 196.5,656 196.7,654.8 196.9,654.9 197,655.8 197.2,654.3 197.4,654.4 197.6,654.3 197.7,652.7 197.9,655 198.1,654.9 198.3,655.5 198.4,653.3 198.6,653.6 198.8,655.5 199,654.8 199.1,655.9 199.3,653.6 199.5,654.7 199.7,653.3 199.8,654.8 200,653.9 200.2,655 200.4,655.6 200.5,655.1 200.7,652.5 200.9,655.4 201.1,654.9 201.2,653.3 201.4,653.5 201.6,654.4 201.8,655 201.9,653.9 202.1,652.7 202.3,654.7 202.5,654.5 202.7,656.9 202.8,653 203,657 203.2,656.2 203.4,654.7 203.5,656.1 203.7,654.4 203.9,655.3 204.1,653.6 204.2,654.4 204.4,653.3 204.6,652.7 204.8,654 204.9,653.6 205.1,654.9 205.3,655.6 205.5,654.1 205.6,654.3 205.8,654.5 206,652.5 206.2,654.5 206.3,654.3 206.5,654.2 206.7,653.1 206.9,652.2 207,654 207.2,654.6 207.4,655.6 207.6,655.4 207.7,655.7 207.9,654.6 208.1,655.4 208.3,654 208.4,654.8 208.6,655.1 208.8,657 209,654.4 209.1,652.8 209.3,655.6 209.5,653.3 209.7,654.1 209.8,653.8 210,653.2 210.2,655.5 210.4,654.7 210.5,653.5 210.7,654.2 210.9,653.7 211.1,654.7 211.2,653.7 211.4,653.3 211.6,653.4 211.8,653.6 211.9,654.4 212.1,653.1 212.3,654 212.5,654.5 212.6,656.5 212.8,654.9 213,650.9 213.2,653.5 213.3,653.6 213.5,654.4 213.7,655.7 213.9,654.8 214,651.6 214.2,654.3 214.4,654.1 214.6,654.4 214.7,655.4 214.9,652.8 215.1,655.1 215.3,652.2 215.4,654 215.6,654.3 215.8,656.3 216,653.2 216.1,652.2 216.3,654.6 216.5,653.2 216.7,655.5 216.8,653.2 217,653 217.2,655.2 217.4,654 217.5,654.9 217.7,652.4 217.9,655.6 218.1,653.3 218.2,654.7 218.4,652.8 218.6,652.3 218.8,653.6 218.9,654 219.1,655.5 219.3,654.2 219.5,654.6 219.6,654.5 219.8,657 220,653 220.2,655.1 220.3,653.7 220.5,654.1 220.7,653.2 220.9,655 221,652.5 221.2,652.4 221.4,653.6 221.6,652.6 221.7,654.5 221.9,654.7 222.1,653 222.3,654.5 222.4,653.1 222.6,653.7 222.8,653.7 223,655.6 223.1,653.7 223.3,652.8 223.5,652.8 223.7,654.9 223.8,652 224,653.2 224.2,653.3 224.4,651.2 224.6,653.2 224.7,654.7 224.9,653.9 225.1,652.7 225.3,654.4 225.4,654.2 225.6,655.7 225.8,652.9 226,653.2 226.1,653.7 226.3,653.5 226.5,653.7 226.7,653.5 226.8,652.9 227,651.9 227.2,653 227.4,652.2 227.5,652.5 227.7,653 227.9,654.1 228.1,654.4 228.2,652.5 228.4,653.9 228.6,654.4 228.8,653.5 228.9,651.8 229.1,651.3 229.3,654.3 229.5,654.4 229.6,653.8 229.8,652.4 230,655 230.2,654.7 230.3,653.4 230.5,653.2 230.7,651.4 230.9,654.2 231,651.8 231.2,654.2 231.4,654.2 231.6,653.6 231.7,655.1 231.9,653.1 232.1,654.1 232.3,654.3 232.4,653.7 232.6,653 232.8,654.7 233,653.9 233.1,653.3 233.3,653.3 233.5,653.6 233.7,655.8 233.8,653.6 234,653.2 234.2,652.3 234.4,652.2 234.5,651.5 234.7,653.7 234.9,653.5 235.1,652.4 235.2,651.9 235.4,653.1 235.6,652.9 235.8,652 235.9,653.8 236.1,653.6 236.3,653.4 236.5,654.2 236.6,652.7 236.8,654.9 237,652.4 237.2,654 237.3,654.1 237.5,653.1 237.7,653.8 237.9,652.1 238,651.8 238.2,653.2 238.4,652.6 238.6,654.1 238.7,653.4 238.9,654.1 239.1,653.8 239.3,653.6 239.4,653.5 239.6,653 239.8,652.9 240,655.6 240.1,651.5 240.3,653.2 240.5,654.4 240.7,653.7 240.8,654.7 241,653.6 241.2,651.3 241.4,651.9 241.5,650 241.7,651.8 241.9,651.2 242.1,647.5 242.2,646.8 242.4,643.7 242.6,640.2 242.8,639.2 242.9,635.8 243.1,635.3 243.3,635.1 243.5,635.2 243.6,636.2 243.8,635.1 244,637.3 244.2,639.5 244.3,641.9 244.5,639.8 244.7,644.5 244.9,648.4 245,647.6 245.2,650.6 245.4,652.4 245.6,649.6 245.7,652.3 245.9,653.1 246.1,653.1 246.3,651.2 246.5,653.7 246.6,652.6 246.8,654.4 247,653.9 247.2,652.6 247.3,653.5 247.5,652.4 247.7,652.4 247.9,651.3 248,653 248.2,654.3 248.4,653.4 248.6,653.3 248.7,652.5 248.9,652.6 249.1,654.2 249.3,651.4 249.4,655.9 249.6,653.1 249.8,655.9 250,654.5 250.1,651.9 250.3,653.5 250.5,652.4 250.7,651.9 250.8,651.3 251,648.4 251.2,646.8 251.4,645.4 251.5,642.8 251.7,643 251.9,643.2 252.1,643.7 252.2,645.3 252.4,647.3 252.6,652.6 252.8,653.5 252.9,660.4 253.1,665 253.3,670.4 253.5,673.3 253.6,674.5 253.8,673.8 254,674.1 254.2,669.8 254.3,668.7 254.5,663.3 254.7,665.5 254.9,662.8 255,657.9 255.2,655.8 255.4,652.8 255.6,652.5 255.7,653.8 255.9,652.8 256.1,650.7 256.3,651.6 256.4,651.1 256.6,652.3 256.8,652.3 257,650.8 257.1,651 257.3,650.5 257.5,647.7 257.7,650.1 257.8,649.5 258,650.1 258.2,646.7 258.4,649.4 258.5,647.4 258.7,648.2 258.9,649 259.1,645.7 259.2,644.7 259.4,648.1 259.6,645.5 259.8,644.9 259.9,647.3 260.1,646.5 260.3,647.6 260.5,647.2 260.6,647 260.8,648.3 261,649.8 261.2,647.6 261.3,649.6 261.5,649.5 261.7,648.7 261.9,649.5 262,648.3 262.2,649 262.4,650.3 262.6,650.3 262.7,652 262.9,649.6 263.1,650.9 263.3,650.8 263.4,651.5 263.6,653.1 263.8,650.8 264,653.1 264.1,651.8 264.3,652.2 264.5,653.7 264.7,652.4 264.8,653.5 265,653 265.2,652.8 265.4,652.6 265.5,651.2 265.7,651.7 265.9,653.2 266.1,653.3 266.2,651.6 266.4,654.1 266.6,653.7 266.8,651.8 266.9,652.1 267.1,653.7 267.3,651.4 267.5,652.4 267.6,653.1 267.8,653 268,653.1 268.2,653.6 268.4,652.3 268.5,652.7 268.7,655.2 268.9,651.7 269.1,652.7 269.2,653.3 269.4,652.5 269.6,654.4 269.8,653.2 269.9,653.9 270.1,650.5 270.3,654.4 270.5,654.3 270.6,652.4 270.8,654.5 271,653.4 271.2,654.1 271.3,655 271.5,653.3 271.7,652.1 271.9,653.1 272,651.9 272.2,652.3 272.4,652.4 272.6,652.4 272.7,654.3 272.9,654 273.1,652.3 273.3,654.3 273.4,651.5 273.6,652.5 273.8,653 274,654.4 274.1,653.9 274.3,653.6 274.5,655.2 274.7,653.9 274.8,654.5 275,652.4 275.2,651.4 275.4,652.7 275.5,654 275.7,653.4 275.9,654.1 276.1,653.9 276.2,653.7 276.4,654 276.6,652.4 276.8,654.3 276.9,652.1 277.1,653 277.3,651.7 277.5,653.7 277.6,651.6 277.8,654.6 278,651.8 278.2,653.4 278.3,653 278.5,652.2 278.7,654.4 278.9,652.7 279,654.7 279.2,652.1 279.4,652.3 279.6,651.1 279.7,653.7 279.9,654.1 280.1,653.4 280.3,653 280.4,651.5 280.6,655.6 280.8,653.9 281,651.2 281.1,652.8 281.3,648.6 281.5,654.8 281.7,655.3 281.8,654.7 282,653.1 282.2,652.5 282.4,651.6 282.5,653.7 282.7,652.3 282.9,652.6 283.1,652.3 283.2,652.6 283.4,654 283.6,654.8 283.8,653 283.9,652.7 284.1,651.3 284.3,651 284.5,651 284.6,653.1 284.8,652 285,652.6 285.2,651.6 285.3,650.3 285.5,648.9 285.7,649.5 285.9,647.8 286,651.8 286.2,649.3 286.4,648.3 286.6,651.2 286.7,648.3 286.9,650 287.1,649.9 287.3,651.8 287.4,652.7 287.6,656.1 287.8,660.1 288,659.8 288.1,661.8 288.3,669.5 288.5,670.7 288.7,673.3 288.8,672.4 289,673.7 289.2,671.3 289.4,662.9 289.5,658.9 289.7,649.5 289.9,639.4 290.1,631.7 290.3,623.5 290.4,612.6 290.6,605.6 290.8,603.7 291,599.4 291.1,599.5 291.3,599.5 291.5,604 291.7,610.4 291.8,616.7 292,623.2 292.2,631.4 292.4,635.2 292.5,636.6 292.7,642.7 292.9,646.8 293.1,650.7 293.2,649.8 293.4,651.3 293.6,652.5 293.8,652.1 293.9,652.3 294.1,653.4 294.3,655.2 294.5,654.7 294.6,654 294.8,655.1 295,653.1 295.2,656.9 295.3,656.1 295.5,655.7 295.7,653.5 295.9,658.2 296,652.3 296.2,654.7 296.4,654.9 296.6,656.8 296.7,654.2 296.9,656.1 297.1,655.6 297.3,655.3 297.4,656.4 297.6,656.9 297.8,655.5 298,654.3 298.1,652.1 298.3,656 298.5,653.9 298.7,652 298.8,654 299,655.3 299.2,653.4 299.4,652.2 299.5,655.8 299.7,653.9 299.9,653.6 300.1,654.2 300.2,650.8 300.4,653 300.6,652.9 300.8,655.4 300.9,652.4 301.1,652.4 301.3,651.5 301.5,652.1 301.6,652.8 301.8,653.3 302,652.8 302.2,655.1 302.3,653.5 302.5,653.6 302.7,654.4 302.9,653.6 303,652.4 303.2,651.4 303.4,653.3 303.6,652.1 303.7,654.3 303.9,652.2 304.1,650.7 304.3,653 304.4,654.1 304.6,652.8 304.8,653.1 305,653.1 305.1,654.7 305.3,653.3 305.5,652.9 305.7,652.3 305.8,651.3 306,654.4 306.2,654.1 306.4,652 306.5,653.6 306.7,653.3 306.9,652.6 307.1,652.6 307.2,653.7 307.4,651.7 307.6,652.4 307.8,652.9 307.9,652.9 308.1,652.7 308.3,653.2 308.5,653.5 308.6,652 308.8,653 309,652.4 309.2,654.4 309.3,651.5 309.5,652.7 309.7,653.6 309.9,652.6 310,652.6 310.2,652.4 310.4,653.2 310.6,651.8 310.7,652.8 310.9,652.8 311.1,651.5 311.3,653.2 311.4,652.5 311.6,653.2 311.8,653.8 312,653.3 312.2,651.8 312.3,653.3 312.5,651.3 312.7,652.2 312.9,654.6 313,652.9 313.2,654.5 313.4,652.8 313.6,652.9 313.7,651.8 313.9,653.9 314.1,652.7 314.3,653.6 314.4,653.4 314.6,653.5 314.8,653.3 315,652.9 315.1,652.9 315.3,652.3 315.5,650.8 315.7,653.4 315.8,655 316,654 316.2,655.3 316.4,653.4 316.5,652 316.7,652 316.9,653.7 317.1,653.3 317.2,652.8 317.4,653.7 317.6,652.1 317.8,653.5 317.9,652.7 318.1,653.1 318.3,654.1 318.5,652.8 318.6,654.3 318.8,654.3 319,652.2 319.2,655.3 319.3,651.8 319.5,652.9 319.7,653.7 319.9,650.7 320,654 320.2,654.1 320.4,652.9 320.6,653.2 320.7,653.2 320.9,652.8 321.1,654 321.3,652.6 321.4,652.9 321.6,653.3 321.8,653.8 322,654 322.1,651.5 322.3,651 322.5,652.8 322.7,652.9 322.8,651.9 323,653.3 323.2,653.6 323.4,653.3 323.5,654.5 323.7,652 323.9,653 324.1,654.8 324.2,653.6 324.4,651.9 324.6,653.1 324.8,654.1 324.9,654.9 325.1,653.6 325.3,654.1 325.5,651.9 325.6,652.7 325.8,654.1 326,652 326.2,652.8 326.3,651.2 326.5,654.3 326.7,652.8 326.9,653.5 327,651.5 327.2,651.7 327.4,654.7 327.6,652.6 327.7,652.4 327.9,653.4 328.1,653.4 328.3,651.1 328.4,652 328.6,653 328.8,652.9 329,653.3 329.1,652.5 329.3,652.7 329.5,653.1 329.7,652.3 329.8,652.1 330,652.4 330.2,652.9 330.4,652.8 330.5,652.5 330.7,652.7 330.9,652.9 331.1,653.2 331.2,653.2 331.4,651.7 331.6,653.8 331.8,651.4 331.9,653.4 332.1,652.2 332.3,653.4 332.5,653.9 332.6,651.1 332.8,653.5 333,653.1 333.2,652.4 333.3,653.2 333.5,652.4 333.7,653 333.9,651.9 334.1,653.6 334.2,653.4 334.4,653.6 334.6,652.3 334.8,654.6 334.9,654.7 335.1,652.8 335.3,652.5 335.5,652.5 335.6,653.5 335.8,653.8 336,652.2 336.2,651 336.3,653.3 336.5,652.8 336.7,653 336.9,653.3 337,651.8 337.2,652.9 337.4,652.6 337.6,653.2 337.7,654 337.9,652.8 338.1,652 338.3,654 338.4,653.5 338.6,652.6 338.8,651.2 339,652 339.1,653 339.3,653.3 339.5,652.3 339.7,653.2 339.8,652.2 340,652.4 340.2,653.3 340.4,652.6 340.5,652.9 340.7,653.6 340.9,653.9 341.1,652.3 341.2,652.6 341.4,651.6 341.6,651.6 341.8,653.1 341.9,652.3 342.1,651.1 342.3,653.3 342.5,652 342.6,652.5 342.8,653.2 343,653.2 343.2,652.7 343.3,650.9 343.5,653.3 343.7,652.2 343.9,651.5 344,650.7 344.2,654 344.4,652.9 344.6,652.9 344.7,653.3 344.9,652.7 345.1,651.4 345.3,653.4 345.4,653.7 345.6,653.2 345.8,654.2 346,654.5 346.1,652 346.3,652.4 346.5,653.6 346.7,652.9 346.8,653 347,653.6 347.2,653.4 347.4,652.4 347.5,652.9 347.7,652.1 347.9,652.6 348.1,651.7 348.2,651 348.4,652.3 348.6,652.2 348.8,653.6 348.9,654.2 349.1,652.8 349.3,653.2 349.5,652.2 349.6,651.9 349.8,652.5 350,652.5 350.2,653 350.3,652.9 350.5,654.3 350.7,652.6 350.9,651.2 351,652.9 351.2,652.2 351.4,652.9 351.6,653.8 351.7,652.2 351.9,652.7 352.1,653.2 352.3,651.9 352.4,653 352.6,653.3 352.8,653.5 353,653.8 353.1,653.3 353.3,653.1 353.5,651.5 353.7,650.3 353.8,651.9 354,654.1 354.2,652.9 354.4,650.7 354.5,652.4 354.7,653.1 354.9,651.1 355.1,653.3 355.2,651.7 355.4,653.7 355.6,652.8 355.8,655.6 356,651.5 356.1,653 356.3,651.4 356.5,653.8 356.7,652.9 356.8,653.6 357,652.8 357.2,651.7 357.4,652.1 357.5,651.6 357.7,651.8 357.9,652.9 358.1,653.7 358.2,653.5 358.4,653.2 358.6,652.2 358.8,653.2 358.9,652 359.1,652.9 359.3,653.5 359.5,652.5 359.6,652.3 359.8,652.3 360,653.3 360.2,652.4 360.3,651.4 360.5,652.4 360.7,651.8 360.9,654.1 361,652.7 361.2,651.4 361.4,653 361.6,653.4 361.7,653.1 361.9,652.4 362.1,652.9 362.3,653 362.4,653.6 362.6,653 362.8,654.8 363,652.5 363.1,654.1 363.3,652.7 363.5,651.2 363.7,651.6 363.8,651.1 364,651.1 364.2,653.8 364.4,652.1 364.5,653.3 364.7,651.9 364.9,652.7 365.1,651.7 365.2,653.5 365.4,652.5 365.6,652.3 365.8,652.6 365.9,655.9 366.1,653.1 366.3,653.5 366.5,651.6 366.6,652.1 366.8,653 367,651 367.2,653.9 367.3,652.9 367.5,652.7 367.7,652.5 367.9,652.5 368,652.2 368.2,653.9 368.4,653.3 368.6,653.8 368.7,652.4 368.9,651.9 369.1,653.9 369.3,651.6 369.4,652.1 369.6,653.3 369.8,653.7 370,651.5 370.1,652.4 370.3,652.7 370.5,652.5 370.7,651.9 370.8,653.3 371,652.2 371.2,652.4 371.4,650.6 371.5,652.6 371.7,650.9 371.9,653.3 372.1,653.1 372.2,652.2 372.4,652.8 372.6,652.8 372.8,652.5 372.9,653 373.1,652.5 373.3,652.2 373.5,651.9 373.6,654.2 373.8,652.8 374,652.6 374.2,653.3 374.3,652.3 374.5,652.3 374.7,653.2 374.9,653.6 375,653.2 375.2,651.3 375.4,652.7 375.6,652.6 375.7,653 375.9,651.8 376.1,651.7 376.3,652.5 376.4,651.8 376.6,651.7 376.8,652.6 377,653.5 377.1,652.7 377.3,653.6 377.5,651.7 377.7,653.3 377.9,652.6 378,651.8 378.2,652.2 378.4,651.8 378.6,652.4 378.7,651.9 378.9,653.7 379.1,652.3 379.3,651.3 379.4,652.4 379.6,653 379.8,652.3 380,653.4 380.1,651.8 380.3,651.8 380.5,654.1 380.7,652.6 380.8,653.1 381,653 381.2,653.1 381.4,652.6 381.5,652.4 381.7,653.6 381.9,652.2 382.1,652.7 382.2,653.2 382.4,652.2 382.6,651.2 382.8,653 382.9,653.6 383.1,652.8 383.3,651.1 383.5,653.2 383.6,654.3 383.8,651.2 384,650.2 384.2,652.4 384.3,652.7 384.5,653.3 384.7,653.3 384.9,652.7 385,653.1 385.2,652.9 385.4,652.7 385.6,652.5 385.7,652.4 385.9,653.2 386.1,652.9 386.3,652.2 386.4,653.6 386.6,651.9 386.8,652.4 387,652.7 387.1,650.9 387.3,652.2 387.5,653.3 387.7,653.3 387.8,651.5 388,651.8 388.2,651.6 388.4,652.4 388.5,652.5 388.7,651.1 388.9,652.8 389.1,652.6 389.2,652.5 389.4,652 389.6,652.4 389.8,651 389.9,652.8 390.1,652.7 390.3,652.5 390.5,651.5 390.6,653.7 390.8,653.6 391,650.9 391.2,652.9 391.3,652.7 391.5,650.3 391.7,653 391.9,653.1 392,653.2 392.2,652.7 392.4,652 392.6,652.1 392.7,653 392.9,653.6 393.1,652.1 393.3,652.3 393.4,653.2 393.6,650.6 393.8,652.9 394,652.3 394.1,650.6 394.3,653.2 394.5,651.7 394.7,653.2 394.8,653.8 395,651.4 395.2,651.5 395.4,652.5 395.5,651 395.7,653.2 395.9,652.7 396.1,653.4 396.2,650.9 396.4,652.8 396.6,652.9 396.8,650.9 396.9,653.3 397.1,651.3 397.3,652.7 397.5,651.3 397.6,653.2 397.8,654.1 398,652.6 398.2,652.6 398.3,653.7 398.5,652.1 398.7,652.6 398.9,653.3 399,652.9 399.2,654 399.4,653.6 399.6,654.3 399.8,652.5 399.9,653.6 400.1,651.8 400.3,653.4 400.5,654.2 400.6,654.7 400.8,651.4 401,652.4 401.2,653.2 401.3,651.7 401.5,653.1 401.7,653 401.9,652.1 402,652 402.2,651.6 402.4,652.7 402.6,653.6 402.7,652.7 402.9,655 403.1,650.9 403.3,651.7 403.4,652.8 403.6,651 403.8,652.3 404,652.6 404.1,651.9 404.3,651.4 404.5,652.3 404.7,651.7 404.8,651.8 405,651.4 405.2,650 405.4,649.4 405.5,649.9 405.7,650.2 405.9,649.7 406.1,650.6 406.2,649.7 406.4,650.2 406.6,649.2 406.8,648.2 406.9,649.7 407.1,649.2 407.3,647.8 407.5,648.2 407.6,651.5 407.8,645.1 408,649.9 408.2,648.8 408.3,648.8 408.5,648.7 408.7,648.6 408.9,651.9 409,649 409.2,649.4 409.4,650.8 409.6,650.5 409.7,650.1 409.9,650.2 410.1,649.2 410.3,653 410.4,649.9 410.6,648.4 410.8,652.7 411,652.5 411.1,652.2 411.3,651.2 411.5,653.5 411.7,650.7 411.8,649.4 412,652.5 412.2,653.5 412.4,653.4 412.5,655.4 412.7,654.2 412.9,653.2 413.1,653.8 413.2,655.8 413.4,655.3 413.6,656 413.8,654.8 413.9,657.4 414.1,656.7 414.3,658.9 414.5,658.7 414.6,658.8 414.8,658.9 415,654.4 415.2,653.8 415.3,647.3 415.5,645.2 415.7,642.1 415.9,639.3 416,631.6 416.2,629.4 416.4,628 416.6,626.8 416.7,626.1 416.9,626.8 417.1,629.9 417.3,634.5 417.4,636.3 417.6,643.5 417.8,645.8 418,644.3 418.1,648 418.3,651.7 418.5,652.9 418.7,653.1 418.8,650.3 419,651.8 419.2,654 419.4,652.6 419.5,652 419.7,653.2 419.9,653.7 420.1,652.7 420.2,652.8 420.4,653.8 420.6,651.9 420.8,651.5 420.9,653.4 421.1,651.2 421.3,653.1 421.5,651.8 421.7,653.5 421.8,651.3 422,653.8 422.2,652.9 422.4,652.2 422.5,651.7 422.7,652.4 422.9,651.6 423.1,651.3 423.2,653.7 423.4,653.2 423.6,653.8 423.8,651.2 423.9,650.6 424.1,651 424.3,653.2 424.5,653.4 424.6,650.7 424.8,653.6 425,652.1 425.2,651.4 425.3,652.5 425.5,653.1 425.7,652.3 425.9,652.4 426,651.7 426.2,651.2 426.4,652.2 426.6,651 426.7,653.1 426.9,651.7 427.1,653.8 427.3,651 427.4,653.9 427.6,651.7 427.8,651.7 428,652.8 428.1,653.4 428.3,652.5 428.5,652.2 428.7,654.5 428.8,653 429,651.4 429.2,652.3 429.4,654.2 429.5,652.9 429.7,653.3 429.9,654.5 430.1,652 430.2,652.9 430.4,651.9 430.6,652.6 430.8,653.1 430.9,651.3 431.1,652.7 431.3,652.7 431.5,653.5 431.6,651.7 431.8,651.4 432,652.9 432.2,651.5 432.3,652.7 432.5,653.1 432.7,651.7 432.9,652.4 433,651.6 433.2,649.9 433.4,651.2 433.6,650.6 433.7,652.6 433.9,651.6 434.1,652.4 434.3,652.5 434.4,653.5 434.6,652.2 434.8,652.2 435,653 435.1,654.1 435.3,652.5 435.5,652.9 435.7,652.4 435.8,651.9 436,651.1 436.2,652.5 436.4,652.3 436.5,652.3 436.7,654.4 436.9,652.3 437.1,652.9 437.2,652.2 437.4,653.7 437.6,652.3 437.8,654.3 437.9,652.3 438.1,653.3 438.3,653.5 438.5,652.4 438.6,653.4 438.8,652.6 439,651.9 439.2,652 439.3,652.9 439.5,654.2 439.7,652.1 439.9,653.1 440,651.8 440.2,652.8 440.4,651.4 440.6,651.9 440.7,652.6 440.9,651.9 441.1,652.3 441.3,653.5 441.4,652.5 441.6,651.9 441.8,651.4 442,652.1 442.1,653.6 442.3,652.5 442.5,652.4 442.7,653.6 442.8,653.3 443,653.5 443.2,652.3 443.4,651.7 443.6,651.1 443.7,652 443.9,652.2 444.1,653.2 444.3,652.9 444.4,652.1 444.6,653.4 444.8,651.4 445,651.6 445.1,651.5 445.3,651.6 445.5,652.4 445.7,651.8 445.8,651.9 446,653.8 446.2,651.2 446.4,651.6 446.5,652.4 446.7,653 446.9,653 447.1,652.3 447.2,652.3 447.4,652.3 447.6,653.3 447.8,651.7 447.9,650.4 448.1,652.8 448.3,651.5 448.5,652.5 448.6,653.8 448.8,652.7 449,654.3 449.2,651.1 449.3,652.8 449.5,653.2 449.7,653.3 449.9,651.9 450,652.7 450.2,652.7 450.4,652.7 450.6,651.3 450.7,651 450.9,653.1 451.1,652.9 451.3,652.6 451.4,653.2 451.6,653.6 451.8,651.5 452,653.3 452.1,654 452.3,653.5 452.5,653.5 452.7,653.3 452.8,651.3 453,652.2 453.2,653.5 453.4,654 453.5,653 453.7,652.2 453.9,652.5 454.1,653.4 454.2,654.5 454.4,653.4 454.6,652.2 454.8,653.2 454.9,653 455.1,654.8 455.3,653.2 455.5,652.7 455.6,652.6 455.8,651.5 456,651.7 456.2,652.2 456.3,651.9 456.5,652.8 456.7,652.7 456.9,653.5 457,654 457.2,652.8 457.4,652.5 457.6,651 457.7,653 457.9,653.3 458.1,652 458.3,652.3 458.4,652 458.6,653.6 458.8,653.2 459,653.8 459.1,651.6 459.3,655.1 459.5,651.9 459.7,651.7 459.8,652.8 460,652.2 460.2,654.3 460.4,652.3 460.5,652 460.7,653.5 460.9,653.8 461.1,651.9 461.2,652.2 461.4,652.3 461.6,652.5 461.8,654.2 461.9,653.8 462.1,653.6 462.3,653.8 462.5,652.7 462.6,653.4 462.8,652.6 463,652 463.2,654.2 463.3,651 463.5,652.6 463.7,652.1 463.9,651.1 464,652.3 464.2,652.7 464.4,653.1 464.6,651.9 464.7,653.3 464.9,652.9 465.1,653.4 465.3,650.9 465.5,652.2 465.6,651.7 465.8,653.2 466,652 466.2,652.2 466.3,651.6 466.5,651.5 466.7,651.8 466.9,653.5 467,651.7 467.2,650.4 467.4,652.9 467.6,652.2 467.7,653.1 467.9,653.1 468.1,652.3 468.3,652.2 468.4,652.1 468.6,652.6 468.8,651.9 469,652.8 469.1,653.9 469.3,652 469.5,652.1 469.7,652 469.8,653.2 470,653.2 470.2,653.9 470.4,653.3 470.5,652.7 470.7,653 470.9,651.4 471.1,653.1 471.2,652.8 471.4,654.5 471.6,653.9 471.8,651.9 471.9,652.1 472.1,653.4 472.3,650.7 472.5,651.8 472.6,653 472.8,653.2 473,652.8 473.2,653.7 473.3,652.4 473.5,652.7 473.7,652.5 473.9,651.6 474,652.7 474.2,651.8 474.4,652.7 474.6,650.2 474.7,652.7 474.9,652.1 475.1,652.1 475.3,652.7 475.4,652.2 475.6,653.5 475.8,653.8 476,653.5 476.1,653.5 476.3,653 476.5,652.7 476.7,651.5 476.8,652.3 477,653.8 477.2,653.4 477.4,651.9 477.5,652.8 477.7,653.6 477.9,652.5 478.1,654.2 478.2,652 478.4,653.4 478.6,653.3 478.8,652.8 478.9,652.9 479.1,653.2 479.3,650.5 479.5,653.1 479.6,653.7 479.8,653 480,653.7 480.2,651.5 480.3,652.6 480.5,652.9 480.7,652.3 480.9,653.7 481,653 481.2,652 481.4,653.2 481.6,653.1 481.7,651.8 481.9,652.6 482.1,652.2 482.3,652 482.4,650.2 482.6,652.4 482.8,651.5 483,650.5 483.1,650.4 483.3,650 483.5,649 483.7,648.3 483.8,648.5 484,647.5 484.2,647.2 484.4,646.2 484.5,646.8 484.7,647.9 484.9,646.9 485.1,646.7 485.2,646.4 485.4,646.3 485.6,645.4 485.8,648.8 485.9,646.5 486.1,645.9 486.3,648.1 486.5,647.9 486.6,647 486.8,645.7 487,645.3 487.2,648 487.4,645.3 487.5,643.7 487.7,645.8 487.9,642.1 488.1,640.9 488.2,642.4 488.4,642.1 488.6,644 488.8,640.8 488.9,644.2 489.1,643 489.3,647.3 489.5,647.6 489.6,649.7 489.8,651.3 490,655.4 490.2,658.6 490.3,658.9 490.5,661.2 490.7,663.5 490.9,667.3 491,667.6 491.2,675.3 491.4,671.7 491.6,676.1 491.7,672.5 491.9,669.6 492.1,667.6 492.3,666.7 492.4,663.6 492.6,661.1 492.8,656.8 493,657.9 493.1,654.4 493.3,646.2 493.5,646.2 493.7,644.6 493.8,640.7 494,639.5 494.2,640.5 494.4,640 494.5,638.7 494.7,643.2 494.9,642.8 495.1,647.8 495.2,646.1 495.4,646.2 495.6,650.8 495.8,653.4 495.9,653.5 496.1,653.9 496.3,653.1 496.5,655.9 496.6,652.9 496.8,656.5 497,654.4 497.2,655.4 497.3,654.7 497.5,655.4 497.7,658.2 497.9,655.3 498,656.9 498.2,655.7 498.4,657.6 498.6,654.9 498.7,656.2 498.9,656.9 499.1,658.1 499.3,654.2 499.4,654.3 499.6,654.8 499.8,656.1 500,653.3 500.1,654.9 500.3,653.2 500.5,652.6 500.7,651.9 500.8,653.4 501,654.1 501.2,652.9 501.4,649.6 501.5,652.3 501.7,653.8 501.9,653.6 502.1,653 502.2,654.2 502.4,651.4 502.6,650.7 502.8,655 502.9,653.3 503.1,652.4 503.3,652.2 503.5,650.1 503.6,653.5 503.8,650.6 504,650.7 504.2,652.6 504.3,654.9 504.5,652.2 504.7,653 504.9,652.2 505,653 505.2,651 505.4,654.7 505.6,651.7 505.7,653.2 505.9,650.7 506.1,654.4 506.3,653.1 506.4,654.6 506.6,652 506.8,653.7 507,652.5 507.1,652.6 507.3,653.9 507.5,651.8 507.7,653.4 507.8,654.5 508,654.4 508.2,653.7 508.4,653 508.5,651.7 508.7,654.1 508.9,651.6 509.1,653.8 509.3,652.3 509.4,652.7 509.6,652.6 509.8,653.3 510,652.2 510.1,652.9 510.3,652.2 510.5,653.2 510.7,653 510.8,653.1 511,651.8 511.2,653 511.4,652.7 511.5,653.3 511.7,652.7 511.9,651.7 512.1,653.4 512.2,652 512.4,653 512.6,650.5 512.8,653.2 512.9,653.4 513.1,651.7 513.3,653.3 513.5,652.3 513.6,654.2 513.8,653.4 514,651.3 514.2,652.4 514.3,650.7 514.5,652.3 514.7,653.3 514.9,653.6 515,652.6 515.2,652.4 515.4,652.9 515.6,652 515.7,653.1 515.9,654 516.1,652.9 516.3,654.3 516.4,651.8 516.6,652.1 516.8,653.1 517,655.1 517.1,653.9 517.3,654.7 517.5,652.8 517.7,654.2 517.8,650.7 518,653.3 518.2,650.3 518.4,654.2 518.5,653.3 518.7,654.1 518.9,653.2 519.1,652.2 519.2,651.9 519.4,653 519.6,654.4 519.8,653.4 519.9,652.1 520.1,652.1 520.3,652 520.5,652.5 520.6,652.6 520.8,652.2 521,652.8 521.2,651.1 521.3,654.4 521.5,653 521.7,654.3 521.9,653.1 522,652.6 522.2,652.8 522.4,653 522.6,652.1 522.7,652.4 522.9,654.7 523.1,653.7 523.3,652.2 523.4,653.3 523.6,651.9 523.8,654.2 524,651.8 524.1,653.6 524.3,652.8 524.5,652.8 524.7,652 524.8,652.5 525,652 525.2,651.9 525.4,653.2 525.5,655.2 525.7,652.4 525.9,653.7 526.1,652.8 526.2,652.1 526.4,654.1 526.6,653.4 526.8,653.9 526.9,652.9 527.1,652.9 527.3,652 527.5,652.5 527.6,654.4 527.8,650.6 528,653.1 528.2,654.2 528.3,653.5 528.5,653.6 528.7,652.5 528.9,653.8 529,653.9 529.2,652.8 529.4,654.4 529.6,652.3 529.7,650.5 529.9,652.8 530.1,652.7 530.3,652 530.4,652.4 530.6,652.3 530.8,651.1 531,653.9 531.2,652.8 531.3,655.3 531.5,652.8 531.7,653.2 531.9,651.4 532,653.7 532.2,651.8 532.4,653.3 532.6,653.7 532.7,653.5 532.9,652 533.1,652.1 533.3,653.5 533.4,653.9 533.6,654.1 533.8,652.8 534,652.7 534.1,654.5 534.3,652.2 534.5,653.5 534.7,652.5 534.8,651.5 535,651.8 535.2,653.2 535.4,653 535.5,653.3 535.7,652.5 535.9,652.3 536.1,653.1 536.2,652.6 536.4,651.3 536.6,652.4 536.8,654.4 536.9,652.1 537.1,653.3 537.3,652.7 537.5,653.5 537.6,652 537.8,651.6 538,653.2 538.2,652.1 538.3,652.8 538.5,652.5 538.7,653.7 538.9,653 539,652.9 539.2,651.9 539.4,651.3 539.6,652 539.7,653.6 539.9,653.4 540.1,653.3 540.3,652.4 540.4,651.8 540.6,653.8 540.8,653 541,653.3 541.1,651.9 541.3,652.2 541.5,653.4 541.7,653.5 541.8,651.9 542,653.1 542.2,651.7 542.4,653.9 542.5,653.4 542.7,654.9 542.9,654.2 543.1,651.8 543.2,653 543.4,652.4 543.6,652.9 543.8,653.5 543.9,652.8 544.1,652.8 544.3,651.6 544.5,653.3 544.6,652.8 544.8,653.4 545,653.7 545.2,652.8 545.3,653.4 545.5,652.2 545.7,653.6 545.9,652.8 546,652.3 546.2,652.6 546.4,651.5 546.6,652.2 546.7,652.4 546.9,652.8 547.1,652.7 547.3,652.2 547.4,652.6 547.6,650.9 547.8,652.9 548,653.3 548.1,653.5 548.3,653.8 548.5,652.6 548.7,652.7 548.8,652.4 549,652.4 549.2,652.9 549.4,654 549.5,651.3 549.7,652.3 549.9,653 550.1,651.9 550.2,653.2 550.4,651.6 550.6,652.5 550.8,651.3 550.9,653 551.1,652.1 551.3,653.4 551.5,652.5 551.6,651.9 551.8,652.4 552,652.9 552.2,652.8 552.3,652.5 552.5,652.3 552.7,652.8 552.9,653.5 553.1,652.3 553.2,653.2 553.4,651.6 553.6,653.6 553.8,653.1 553.9,652.5 554.1,652.5 554.3,651.3 554.5,652.9 554.6,652.6 554.8,651.5 555,652.4 555.2,653.3 555.3,652.9 555.5,653 555.7,652.3 555.9,654 556,652.8 556.2,653.5 556.4,654.8 556.6,651 556.7,652.3 556.9,652.8 557.1,652.1 557.3,653.7 557.4,652.5 557.6,654.3 557.8,653.5 558,653.2 558.1,652.8 558.3,653.6 558.5,653.2 558.7,654.9 558.8,653.2 559,653.7 559.2,653.2 559.4,653.1 559.5,651.4 559.7,652.8 559.9,653.2 560.1,651.8 560.2,651.6 560.4,652.6 560.6,653.1 560.8,651.3 560.9,653.1 561.1,653.7 561.3,652.6 561.5,653 561.6,653.2 561.8,652.2 562,653.4 562.2,653.2 562.3,651.7 562.5,653.3 562.7,653.6 562.9,651.9 563,653.6 563.2,652.6 563.4,650.9 563.6,651.9 563.7,652 563.9,653.3 564.1,652.4 564.3,652.5 564.4,651.7 564.6,652.8 564.8,651.7 565,652.2 565.1,653.4 565.3,653.4 565.5,652.4 565.7,652.8 565.8,653.3 566,652.8 566.2,653.9 566.4,654 566.5,652.8 566.7,651.7 566.9,652.7 567.1,654 567.2,653.8 567.4,653.9 567.6,653.8 567.8,652.4 567.9,653.1 568.1,653.8 568.3,653.1 568.5,653.6 568.6,652 568.8,651.8 569,654.6 569.2,653.5 569.3,653.4 569.5,654.1 569.7,654.8 569.9,655.4 570,650.7 570.2,653.2 570.4,653.8 570.6,651.2 570.7,651.3 570.9,652.7 571.1,654.5 571.3,653.7 571.4,654.8 571.6,653.1 571.8,653.8 572,654.2 572.1,653.3 572.3,652.8 572.5,653 572.7,649.6 572.8,653.1 573,651.2 573.2,652.1 573.4,653.5 573.5,653.2 573.7,651.1 573.9,653.3 574.1,653.5 574.2,653 574.4,653.5 574.6,653.4 574.8,651.3 575,652.7 575.1,652.6 575.3,651.8 575.5,652.8 575.7,651.7 575.8,652.8 576,652.1 576.2,653.8 576.4,654.8 576.5,652.3 576.7,652.9 576.9,652.9 577.1,653.2 577.2,652.7 577.4,650.8 577.6,653.2 577.8,652.7 577.9,651.9 578.1,652.7 578.3,652.4 578.5,653.1 578.6,652.6 578.8,652.6 579,652.9 579.2,653.1 579.3,652.9 579.5,653.9 579.7,653.1 579.9,652.1 580,654.4 580.2,652.9 580.4,654.2 580.6,651.9 580.7,653.3 580.9,654.4 581.1,654 581.3,652.9 581.4,652.3 581.6,652.3 581.8,652.7 582,652 582.1,652.2 582.3,651.9 582.5,651.9 582.7,653.1 582.8,651.3 583,653 583.2,653.5 583.4,652 583.5,652 583.7,652.9 583.9,652.8 584.1,653.7 584.2,651.1 584.4,652.8 584.6,654.1 584.8,652.9 584.9,654.4 585.1,654.8 585.3,652.4 585.5,654.2 585.6,653.3 585.8,652.8 586,652.6 586.2,652.7 586.3,652 586.5,652.7 586.7,653.7 586.9,654 587,652.5 587.2,653.6 587.4,653.3 587.6,650.7 587.7,653.5 587.9,651.8 588.1,651.8 588.3,653.6 588.4,654.4 588.6,651.9 588.8,652.1 589,652 589.1,652.4 589.3,652.5 589.5,652.1 589.7,651.4 589.8,654.5 590,652.4 590.2,652.2 590.4,653.7 590.5,652.5 590.7,653.8 590.9,653.6 591.1,653.8 591.2,652.5 591.4,653.4 591.6,651.5 591.8,651.6 591.9,652.9 592.1,652.6 592.3,654.1 592.5,652.6 592.6,651.3 592.8,652.9 593,652.6 593.2,653.1 593.3,651.8 593.5,652.2 593.7,652.9 593.9,653.5 594,653.2 594.2,653.6 594.4,651.6 594.6,652.7 594.7,653.1 594.9,653.8 595.1,653.1 595.3,652.7 595.4,652.8 595.6,652.8 595.8,651.6 596,652.9 596.1,653.6 596.3,653.5 596.5,651.2 596.7,652.9 596.9,651.5 597,653.9 597.2,653.4 597.4,653.5 597.6,652.3 597.7,651.1 597.9,651.9 598.1,652.6 598.3,651.5 598.4,652 598.6,654.5 598.8,651.7 599,653.4 599.1,651.2 599.3,653.1 599.5,653.7 599.7,653.3 599.8,654 600,654.5 600.2,651.6 600.4,653.1 600.5,653.4 600.7,653.3 600.9,654.4 601.1,653.2 601.2,654 601.4,654 601.6,653.1 601.8,653.4 601.9,652.2 602.1,653.2 602.3,653.1 602.5,652.8 602.6,652.5 602.8,653.8 603,652.8 603.2,655.1 603.3,654.2 603.5,653.7 603.7,652.4 603.9,653.8 604,653.1 604.2,653 604.4,651.9 604.6,653.5 604.7,653.2 604.9,652.5 605.1,652.3 605.3,652.7 605.4,651.6 605.6,652.4 605.8,654.3 606,652.3 606.1,655.3 606.3,651.6 606.5,654 606.7,654.7 606.8,654.1 607,653.5 607.2,651.4 607.4,654.1 607.5,654 607.7,653 607.9,650.7 608.1,654 608.2,652.1 608.4,652.7 608.6,654.1 608.8,654.2 608.9,653.3 609.1,652.5 609.3,654.5 609.5,654 609.6,652.8 609.8,652.1 610,653.2 610.2,651.7 610.3,654.6 610.5,653.4 610.7,652.6 610.9,653.3 611,651.4 611.2,652.9 611.4,652.4 611.6,651.5 611.7,652.4 611.9,653.3 612.1,651.7 612.3,652.8 612.4,651.6 612.6,653.1 612.8,651.4 613,653.6 613.1,653.5 613.3,653.7 613.5,654.6 613.7,653.1 613.8,653 614,653.8 614.2,652.5 614.4,651.2 614.5,651.8 614.7,651.8 614.9,653.1 615.1,652.4 615.2,652.6 615.4,653.4 615.6,653.1 615.8,654.7 615.9,652.9 616.1,652.1 616.3,654.1 616.5,652.6 616.6,652.9 616.8,653.8 617,653.1 617.2,653.6 617.3,652.4 617.5,652.7 617.7,653.5 617.9,652.5 618,652.6 618.2,652.9 618.4,654.4 618.6,654.3 618.8,653.2 618.9,653 619.1,652.3 619.3,654.2 619.5,653.4 619.6,653.8 619.8,651.7 620,653.7 620.2,653.1 620.3,653.7 620.5,653.9 620.7,653 620.9,652.7 621,653.6 621.2,651.9 621.4,654.3 621.6,653.3 621.7,652 621.9,654.2 622.1,653.9 622.3,654.4 622.4,653.9 622.6,653.5 622.8,653 623,652.1 623.1,653.7 623.3,653.6 623.5,652.7 623.7,653.6 623.8,652.2 624,654 624.2,653.2 624.4,653.3 624.5,652.4 624.7,653.9 624.9,653.2 625.1,652.5 625.2,653.4 625.4,652.9 625.6,654 625.8,651.7 625.9,652 626.1,654.9 626.3,652.6 626.5,653.5 626.6,652.7 626.8,653.2 627,655.4 627.2,651.3 627.3,653.5 627.5,653.1 627.7,653.1 627.9,652.3 628,651.7 628.2,654.3 628.4,653.5 628.6,651.4 628.7,653 628.9,651.8 629.1,655.6 629.3,653.4 629.4,651.4 629.6,653.9 629.8,653.6 630,653.3 630.1,653.2 630.3,652.5 630.5,652.9 630.7,651.2 630.8,654.2 631,654.8 631.2,653.5 631.4,653.6 631.5,651.8 631.7,652.6 631.9,651.8 632.1,651.9 632.2,653.5 632.4,654.3 632.6,653 632.8,655.3 632.9,653.8 633.1,651 633.3,652.7 633.5,654.2 633.6,653.2 633.8,654 634,651.5 634.2,654.2 634.3,652 634.5,653.3 634.7,654.9 634.9,653.1 635,652.8 635.2,653.7 635.4,652.3 635.6,652.2 635.7,653.9 635.9,651.7 636.1,651.9 636.3,654.6 636.4,651.2 636.6,653.4 636.8,654 637,653 637.1,652.1 637.3,653.8 637.5,652.2 637.7,654.9 637.8,655 638,652.1 638.2,653.5 638.4,652.4 638.5,653.4 638.7,652.8 638.9,652.1 639.1,653.5 639.2,651.5 639.4,653.3 639.6,652.9 639.8,652.3 639.9,653.8 640.1,653.1 640.3,652.7 640.5,652.9 640.7,652.8 640.8,653.9 641,652.8 641.2,650.4 641.4,650.2 641.5,652.1 641.7,651.9 641.9,652.8 642.1,651.8 642.2,652.3 642.4,654.2 642.6,651.8 642.8,653.8 642.9,652.9 643.1,654.2 643.3,653.8 643.5,653.1 643.6,654 643.8,653.2 644,652 644.2,653.5 644.3,653.5 644.5,652.9 644.7,653.4 644.9,652.7 645,653.3 645.2,652.8 645.4,651.7 645.6,652.8 645.7,654.5 645.9,653.8 646.1,654.4 646.3,653.1 646.4,652.7 646.6,652.1 646.8,653.2 647,654 647.1,653.8 647.3,653.7 647.5,652.6 647.7,653.2 647.8,652.4 648,653.8 648.2,653.6 648.4,652.5 648.5,653.2 648.7,651 648.9,653.7 649.1,652.3 649.2,652.7 649.4,653.6 649.6,654.1 649.8,652.4 649.9,654.5 650.1,654.9 650.3,654.3 650.5,654.2 650.6,653.1 650.8,654.3 651,652.2 651.2,652 651.3,653.2 651.5,653.2 651.7,652.2 651.9,654.6 652,651.7 652.2,651.1 652.4,652.6 652.6,654.4 652.7,653.6 652.9,653.3 653.1,653.1 653.3,653.5 653.4,653.2 653.6,653 653.8,652.8 654,651.5 654.1,653.8 654.3,652.5 654.5,653.2 654.7,653.3 654.8,653.8 655,652.2 655.2,653.6 655.4,653.7 655.5,652.8 655.7,652.8 655.9,653 656.1,651.9 656.2,652.4 656.4,651.8 656.6,654.6 656.8,652.1 656.9,651.8 657.1,653 657.3,653.3 657.5,652.5 657.6,651.9 657.8,653.2 658,653.6 658.2,651.3 658.3,653.6 658.5,651.1 658.7,653.4 658.9,652.3 659,652.4 659.2,653.4 659.4,654.1 659.6,654.7 659.7,654 659.9,653.8 660.1,651.4 660.3,652.3 660.4,652.8 660.6,652.1 660.8,653.2 661,652.4 661.1,654.4 661.3,652.4 661.5,651.2 661.7,651.9 661.8,651.6 662,653 662.2,653.6 662.4,653.1 662.6,652.9 662.7,651 662.9,650.4 663.1,650.5 663.3,651.1 663.4,650.5 663.6,651 663.8,651.6 664,650.4 664.1,651.9 664.3,649.1 664.5,650.5 664.7,649.6 664.8,651.4 665,649.6 665.2,649 665.4,649.5 665.5,648.8 665.7,647.9 665.9,650.9 666.1,649.5 666.2,651.8 666.4,653.5 666.6,650.4 666.8,652 666.9,651.1 667.1,649.2 667.3,651.4 667.5,653.4 667.6,650.5 667.8,651.8 668,651.9 668.2,650.5 668.3,652.6 668.5,652.1 668.7,653 668.9,652.4 669,650.7 669.2,652.5 669.4,653.1 669.6,652.1 669.7,653.1 669.9,653 670.1,649.9 670.3,653.1 670.4,650 670.6,650.9 670.8,652.2 671,651.2 671.1,651.4 671.3,653.6 671.5,651.1 671.7,653.7 671.8,654.4 672,654.8 672.2,651.1 672.4,650.6 672.5,652.4 672.7,654.7 672.9,652 673.1,651.6 673.2,652.1 673.4,653.1 673.6,653.6 673.8,652.2 673.9,652.1 674.1,652.8 674.3,652.3 674.5,651.8 674.6,650.3 674.8,652.3 675,651.2 675.2,652 675.3,651.9 675.5,651.3 675.7,652.8 675.9,653.3 676,652.7 676.2,651.5 676.4,652.3 676.6,652.9 676.7,652.1 676.9,652.9 677.1,650.7 677.3,651.9 677.4,653.6 677.6,653.1 677.8,651.9 678,652.2 678.1,654.2 678.3,653.1 678.5,651.4 678.7,652.4 678.8,651.6 679,651.5 679.2,650.8 679.4,652.6 679.5,654 679.7,652.7 679.9,650.6 680.1,652.3 680.2,650.4 680.4,651.9 680.6,652.6 680.8,652.9 680.9,651.6 681.1,651.7 681.3,651.3 681.5,651 681.6,652.5 681.8,650 682,649.3 682.2,652.4 682.3,652.8 682.5,649 682.7,651.3 682.9,651.1 683,649.8 683.2,649.2 683.4,650.2 683.6,649.7 683.7,650.8 683.9,649.4 684.1,651.1 684.3,649.4 684.5,651.6 684.6,650.9 684.8,651.3 685,649.8 685.2,650 685.3,650.2 685.5,651.6 685.7,649.8 685.9,649.8 686,650.5 686.2,651.2 686.4,650.8 686.6,651 686.7,649.7 686.9,650.5 687.1,650.1 687.3,652.5 687.4,651.4 687.6,652.2 687.8,650.1 688,651.5 688.1,652 688.3,650.5 688.5,651 688.7,651.1 688.8,651.9 689,652.1 689.2,650.2 689.4,652.1 689.5,652 689.7,652.1 689.9,650.8 690.1,651.7 690.2,653.2 690.4,653.1 690.6,651.1 690.8,653.5 690.9,651.3 691.1,650.8 691.3,653 691.5,652.1 691.6,654.3 691.8,651.5 692,651.9 692.2,652.5 692.3,652 692.5,651.3 692.7,651.7 692.9,651.7 693,651.7 693.2,651.7 693.4,650.1 693.6,652.6 693.7,651 693.9,651.3 694.1,650.9 694.3,651.5 694.4,652.7 694.6,653 694.8,652 695,651.8 695.1,651.1 695.3,651.4 695.5,651.9 695.7,651.5 695.8,650.7 696,651.7 696.2,650.6 696.4,653.6 696.5,651.9 696.7,651.1 696.9,652 697.1,650.9 697.2,651.3 697.4,653 697.6,652.8 697.8,650.5 697.9,650.5 698.1,651.1 698.3,653.6 698.5,651.6 698.6,651.8 698.8,651.1 699,652.7 699.2,652.4 699.3,649.9 699.5,650.7 699.7,649.8 699.9,650.5 700,650.8 700.2,650.3 700.4,650.9 700.6,652.1 700.7,652.5 700.9,651.6 701.1,652.2 701.3,650.3 701.4,652.8 701.6,653.6 701.8,651.4 702,652 702.1,651.9 702.3,649.6 702.5,652.5 702.7,652 702.8,650.1 703,651.2 703.2,652.6 703.4,652.1 703.5,650.3 703.7,651.1 703.9,651 704.1,651.7 704.2,650.9 704.4,651.6 704.6,651.4 704.8,650.3 704.9,652 705.1,651.8 705.3,651 705.5,652.3 705.6,653.6 705.8,650.2 706,651.8 706.2,652.4 706.4,651.6 706.5,651.1 706.7,653.6 706.9,651.2 707.1,651.5 707.2,651 707.4,652.7 707.6,649.7 707.8,650.8 707.9,651.2 708.1,651.9 708.3,652 708.5,652.5 708.6,651.5 708.8,651 709,651.6 709.2,650.9 709.3,651.2 709.5,651.2 709.7,651.9 709.9,652.4 710,650.7 710.2,650.8 710.4,651.7 710.6,651.7 710.7,651.5 710.9,652.2 711.1,651.5 711.3,650.2 711.4,652.9 711.6,650.6 711.8,653.2 712,652 712.1,652 712.3,650.4 712.5,652 712.7,651.6 712.8,651 713,652.2 713.2,652.4 713.4,652.8 713.5,650.7 713.7,651.1 713.9,653 714.1,652.2 714.2,652.5 714.4,651.3 714.6,652.1 714.8,652.5 714.9,650.7 715.1,651.2 715.3,652 715.5,653 715.6,651.4 715.8,652.4 716,651.1 716.2,650.8 716.3,652.4 716.5,650.9 716.7,651.9 716.9,651.3 717,652.3 717.2,650.7 717.4,650.6 717.6,650.6 717.7,651.7 717.9,653 718.1,652.6 718.3,652 718.4,651.7 718.6,652.9 718.8,651.8 719,652.8 719.1,653.8 719.3,652.5 719.5,652.2 719.7,652.2 719.8,651.8 720,652.1 720.2,651.1 720.4,651.1 720.5,653.3 720.7,651.8 720.9,650.4 721.1,653.1 721.2,653.1 721.4,652.3 721.6,650.8 721.8,653.6 721.9,652.9 722.1,653 722.3,651.7 722.5,652.3 722.6,651.7 722.8,651.7 723,650.9 723.2,651.2 723.3,651.5 723.5,652 723.7,652.8 723.9,652.4 724,650.4 724.2,652.9 724.4,650.6 724.6,652.4 724.7,651.8 724.9,652 725.1,651.5 725.3,651 725.4,653.4 725.6,649.8 725.8,651.2 726,653.1 726.1,652 726.3,652 726.5,651.2 726.7,651 726.8,652.5 727,651.8 727.2,652.3 727.4,652.7 727.5,650.5 727.7,651.1 727.9,651.4 728.1,652.2 728.3,652.6 728.4,651.1 728.6,651.8 728.8,651.9 729,651.9 729.1,653.4 729.3,651.4 729.5,652.2 729.7,650 729.8,651.9 730,652.1 730.2,652.7 730.4,651.6 730.5,651.6 730.7,651 730.9,651.6 731.1,654.2 731.2,650.6 731.4,650.6 731.6,652.2 731.8,651.2 731.9,653.2 732.1,650.8 732.3,653.5 732.5,651.7 732.6,650.6 732.8,650.1 733,651.3 733.2,651.5 733.3,652.4 733.5,651 733.7,654.8 733.9,652.9 734,652 734.2,651.6 734.4,654.5 734.6,651.5 734.7,652.8 734.9,653.4 735.1,651.3 735.3,652.7 735.4,651.7 735.6,653.4 735.8,653.4 736,652.7 736.1,652.3 736.3,651.1 736.5,654.3 736.7,653.5 736.8,652.8 737,653.5 737.2,652.2 737.4,651.2 737.5,653 737.7,651.4 737.9,651.7 738.1,652.9 738.2,650.8 738.4,652.2 738.6,652 738.8,651.2 738.9,651.2 739.1,652 739.3,652 739.5,652.4 739.6,650.9 739.8,652.3 740,651.1 740.2,651.5 740.3,653.1 740.5,651.7 740.7,651.8 740.9,651.5 741,652.3 741.2,653 741.4,652 741.6,652.9 741.7,651.1 741.9,652.7 742.1,652.2 742.3,652.4 742.4,651.5 742.6,651.8 742.8,652.6 743,651.3 743.1,653 743.3,651.9 743.5,652.7 743.7,651.3 743.8,650.9 744,652.9 744.2,652.9 744.4,652.3 744.5,652.9 744.7,652.3 744.9,652.9 745.1,652.5 745.2,651 745.4,653.3 745.6,651.5 745.8,654.4 745.9,652.2 746.1,651.5 746.3,652.2 746.5,652.4 746.6,652.5 746.8,652.9 747,651.9 747.2,650.6 747.3,651.6 747.5,652.8 747.7,653.4 747.9,650.6 748,652.5 748.2,653.4 748.4,651.2 748.6,653.9 748.7,651.7 748.9,652.3 749.1,652 749.3,655 749.4,653.2 749.6,652.6 749.8,652.1 750,651 750.2,652.2 750.3,651.9 750.5,652.4 750.7,650.8 750.9,653.6 751,653.3 751.2,653.9 751.4,652 751.6,652.5 751.7,651.4 751.9,653.3 752.1,652.3 752.3,654 752.4,653.2 752.6,653.2 752.8,653 753,651.2 753.1,653.2 753.3,651.1 753.5,652.8 753.7,653.1 753.8,651.5 754,652 754.2,652.4 754.4,652.8 754.5,652.8 754.7,652.6 754.9,651.8 755.1,652.8 755.2,654.8 755.4,652 755.6,654 755.8,651.5 755.9,652 756.1,653.8 756.3,653.3 756.5,654 756.6,653.1 756.8,652 757,652.6 757.2,652.2 757.3,653.5 757.5,653.1 757.7,653.7 757.9,652 758,652.4 758.2,652.2 758.4,652.3 758.6,652.5 758.7,653.8 758.9,652.7 759.1,653.7 759.3,652.8 759.4,651 759.6,651.4 759.8,652.5 760,653.7 760.1,652.6 760.3,651.3 760.5,652.8 760.7,652.4 760.8,653.2 761,653.4 761.2,652.9 761.4,652.1 761.5,651.7 761.7,652.3 761.9,652.6 762.1,653 762.2,652.3 762.4,652.1 762.6,653.1 762.8,653.4 762.9,652.9 763.1,651.7 763.3,652.2 763.5,654.7 763.6,651.7 763.8,652.4 764,653.6 764.2,651.8 764.3,652.4 764.5,653.9 764.7,653.6 764.9,651 765,653.3 765.2,652.4 765.4,651.4 765.6,653.8 765.7,652.2 765.9,652.7 766.1,651.9 766.3,653.5 766.4,653.6 766.6,653.5 766.8,655.1 767,653.4 767.1,652.5 767.3,653.3 767.5,653.2 767.7,653.6 767.8,650.4 768,653.7 768.2,655 768.4,653.8 768.5,652.3 768.7,655.2 768.9,653.8 769.1,655.1 769.2,654 769.4,652.7 769.6,651.3 769.8,653.2 769.9,653.6 770.1,652.7 770.3,651.7 770.5,654 770.6,652.3 770.8,654.6 771,652.5 771.2,653.5 771.3,652.8 771.5,653.5 771.7,653.7 771.9,651 772.1,652.2 772.2,652.5 772.4,652.5 772.6,653 772.8,654.2 772.9,652.1 773.1,653.6 773.3,652.7 773.5,652.4 773.6,651.7 773.8,652.3 774,652 774.2,653.5 774.3,654.5 774.5,653.6 774.7,654.3 774.9,652.3 775,653.7 775.2,652.3 775.4,652.2 775.6,653.3 775.7,652.5 775.9,653.7 776.1,653.2 776.3,652.9 776.4,652.6 776.6,653.3 776.8,653.3 777,653.2 777.1,654.1 777.3,652.6 777.5,651.9 777.7,651.9 777.8,652.2 778,652.3 778.2,653 778.4,655.6 778.5,652.2 778.7,652.4 778.9,652.7 779.1,652.3 779.2,652.5 779.4,653.8 779.6,654.3 779.8,652.5 779.9,653.1 780.1,654 780.3,653.5 780.5,653 780.6,653.5 780.8,653.1 781,652.6 781.2,653.6 781.3,652.6 781.5,652.7 781.7,653.4 781.9,652.1 782,653.8 782.2,652.5 782.4,652.3 782.6,653.6 782.7,653.7 782.9,654 783.1,654.3 783.3,652.3 783.4,652.9 783.6,652.2 783.8,652.5 784,653.9 784.1,653.4 784.3,653.4 784.5,653.8 784.7,652.8 784.8,654.2 785,652.2 785.2,653.7 785.4,652.6 785.5,652.3 785.7,654.9 785.9,652.8 786.1,653.7 786.2,652.4 786.4,652.5 786.6,654.2 786.8,653.5 786.9,653.3 787.1,653.5 787.3,653.6 787.5,653.8 787.6,653.5 787.8,653.7 788,653.4 788.2,653.2 788.3,654.1 788.5,651.2 788.7,653.8 788.9,653.1 789,653.2 789.2,652.9 789.4,652.1 789.6,653.6 789.7,652 789.9,652.2 790.1,652.2 790.3,654.5 790.4,653.1 790.6,653 790.8,651.8 791,653.1 791.1,653.8 791.3,652.1 791.5,653.1 791.7,653.2 791.8,653.6 792,653.9 792.2,654.7 792.4,653 792.5,653 792.7,652.5 792.9,653.9 793.1,653 793.2,653.4 793.4,653.6 793.6,652.9 793.8,652.8 794,653.1 794.1,653.2 794.3,653.1 794.5,652.9 794.7,653 794.8,654.1 795,652.5 795.2,653.1 795.4,653 795.5,653.9 795.7,652.6 795.9,652.8 796.1,652.6 796.2,653.7 796.4,653.6 796.6,653.4 796.8,653.1 796.9,655 797.1,653.3 797.3,651.3 797.5,651.7 797.6,651.8 797.8,652.6 798,651.7 798.2,653 798.3,651.8 798.5,653 798.7,652.4 798.9,653.4 799,653.1 799.2,652.2 799.4,654.6 799.6,652 799.7,652.5 799.9,651.8 800.1,653.8 800.3,654.3 800.4,652.9 800.6,650.9 800.8,654.1 801,654.6 801.1,652.2 801.3,653.4 801.5,653.8 801.7,653 801.8,652 802,652.8 802.2,652.4 802.4,653.5 802.5,651.5 802.7,653.4 802.9,653.1 803.1,651.6 803.2,652.1 803.4,653.5 803.6,654.1 803.8,653.7 803.9,655.5 804.1,653.2 804.3,651.9 804.5,653 804.6,652.3 804.8,650.9 805,654.5 805.2,652.1 805.3,652.2 805.5,654.6 805.7,652.4 805.9,652.2 806,653.7 806.2,654.6 806.4,651.3 806.6,652 806.7,652.4 806.9,653.7 807.1,653.2 807.3,654 807.4,651.7 807.6,652.9 807.8,654.3 808,651.4 808.1,653.9 808.3,652.2 808.5,653.2 808.7,652 808.8,653.5 809,653.7 809.2,652.8 809.4,654.4 809.5,652.1 809.7,653.9 809.9,652 810.1,653.8 810.2,653.7 810.4,652.3 810.6,654.4 810.8,652.9 810.9,651.8 811.1,652.7 811.3,653.8 811.5,653 811.6,653.8 811.8,654.3 812,653.7 812.2,653.5 812.3,653.2 812.5,653.4 812.7,654.3 812.9,652.5 813,652.8 813.2,653.7 813.4,652.1 813.6,653.9 813.7,653 813.9,653.4 814.1,652.5 814.3,652.8 814.4,654.1 814.6,652 814.8,653.9 815,654 815.1,653.1 815.3,651.3 815.5,652 815.7,653.4 815.9,654 816,651.8 816.2,653.3 816.4,653.2 816.6,651.7 816.7,653.2 816.9,652.3 817.1,651.7 817.3,654.6 817.4,652.3 817.6,651 817.8,651.7 818,654.7 818.1,653.9 818.3,653.5 818.5,652.3 818.7,653.4 818.8,653.1 819,653.7 819.2,651.7 819.4,653.7 819.5,653.9 819.7,652.2 819.9,652.2 820.1,652.9 820.2,651.8 820.4,652.7 820.6,652.7 820.8,654.2 820.9,652.1 821.1,652.7 821.3,654.2 821.5,651.5 821.6,653.9 821.8,652.6 822,653.5 822.2,653 822.3,653.6 822.5,650 822.7,652.3 822.9,651 823,652.7 823.2,652.4 823.4,653.1 823.6,654.5 823.7,653.5 823.9,653.4 824.1,653.6 824.3,652.8 824.4,654.4 824.6,653.6 824.8,653.1 825,654.2 825.1,652.7 825.3,652.3 825.5,651.7 825.7,651.7 825.8,651.9 826,654.1 826.2,652.6 826.4,653 826.5,653.8 826.7,653 826.9,652.2 827.1,652.4 827.2,652.8 827.4,654.3 827.6,652.8 827.8,652.7 827.9,653.9 828.1,653.4 828.3,653.5 828.5,653.7 828.6,655.2 828.8,653.1 829,653 829.2,655.4 829.3,652.6 829.5,651.8 829.7,654.5 829.9,653.2 830,653.7 830.2,653.8 830.4,652.6 830.6,654.3 830.7,652.6 830.9,654.7 831.1,655.1 831.3,653.2 831.4,655.1 831.6,654.2 831.8,655.9 832,654.1 832.1,652.2 832.3,652.3 832.5,655 832.7,653.7 832.8,654.6 833,653.1 833.2,653.7 833.4,652.1 833.5,654.7 833.7,655.1 833.9,653.6 834.1,654.9 834.2,653.7 834.4,654.8 834.6,654.1 834.8,653.7 834.9,655 835.1,652.8 835.3,656.3 835.5,653.1 835.6,652.8 835.8,654.9 836,653.1 836.2,655.3 836.3,653.5 836.5,656.2 836.7,656 836.9,653.9 837,656.7 837.2,654.5 837.4,655 837.6,654.4 837.8,655.3 837.9,655.4 838.1,655 838.3,655.4 838.5,655.3 838.6,655.6 838.8,654 839,654.9 839.2,654.2 839.3,655.2 839.5,655.3 839.7,655.2 839.9,654.8 840,657.1 840.2,654.6 840.4,656 840.6,655.1 840.7,656.9 840.9,657.3 841.1,656 841.3,656.3 841.4,654.9 841.6,654.8 841.8,656.4 842,655.8 842.1,654.4 842.3,655.7 842.5,654.7 842.7,654.6 842.8,655.9 843,656 843.2,655.7 843.4,655.5 843.5,655 843.7,655.8 843.9,655.8 844.1,655.5 844.2,658.1 844.4,655.7 844.6,656 844.8,655.2 844.9,655.8 845.1,656 845.3,656.4 845.5,653.2 845.6,656.9 845.8,656.4 846,656.2 846.2,655 846.3,654.3 846.5,654.9 846.7,656.6 846.9,656.5 847,655.9 847.2,656.6 847.4,655.1 847.6,655 847.7,657.1 847.9,656.9 848.1,656.6 848.3,656.9 848.4,655.9 848.6,653.9 848.8,655.7 849,656.9 849.1,655.7 849.3,656.6 849.5,656.5 849.7,655.1 849.8,656.4 850,656 850.2,654.6 850.4,656.9 850.5,655 850.7,656.3 850.9,656.4 851.1,655.2 851.2,655.1 851.4,656.3 851.6,656.1 851.8,657 851.9,656.1 852.1,656.4 852.3,656.1 852.5,656.8 852.6,655 852.8,654.2 853,656.4 853.2,655.7 853.3,655.3 853.5,657.4 853.7,654.6 853.9,655.7 854,656.7 854.2,655.7 854.4,655.5 854.6,656.2 854.7,655.6 854.9,654.4 855.1,654.7 855.3,656.5 855.4,656.5 855.6,654.8 855.8,656.1 856,656.5 856.1,656.5 856.3,657.2 856.5,656.8 856.7,655.8 856.8,655.7 857,656.5 857.2,654.9 857.4,654.4 857.5,656.6 857.7,656.9 857.9,656.4 858.1,656.2 858.2,654.5 858.4,654.6 858.6,655.3 858.8,657.3 858.9,655.6 859.1,656 859.3,655.2 859.5,657.1 859.7,654.2 859.8,657.3 860,655.9 860.2,653.5 860.4,655.9 860.5,656.4 860.7,656.4 860.9,656.3 861.1,655.6 861.2,655.6 861.4,656 861.6,655.3 861.8,657.4 861.9,654.8 862.1,656 862.3,655.6 862.5,654.6 862.6,657.1 862.8,656.1 863,655.2 863.2,655.1 863.3,655.6 863.5,657.2 863.7,656 863.9,655 864,656 864.2,655.2 864.4,656.3 864.6,656.2 864.7,656.5 864.9,656.1 865.1,655.9 865.3,654.7 865.4,656.1 865.6,656.8 865.8,654.6 866,656.7 866.1,655.3 866.3,655.3 866.5,655.3 866.7,656.5 866.8,655.9 867,656 867.2,655 867.4,657.2 867.5,655 867.7,657 867.9,656.9 868.1,656.5 868.2,654.7 868.4,655.9 868.6,655.2 868.8,657.2 868.9,656.1 869.1,656.2 869.3,656 869.5,656.1 869.6,656.8 869.8,657.7 870,656.5 870.2,657 870.3,656.5 870.5,656.2 870.7,654.8 870.9,655.5 871,655 871.2,656.4 871.4,651.8 871.6,653.9 871.7,655.4 871.9,656.2 872.1,655.5 872.3,655.8 872.4,656.5 872.6,657.1 872.8,657.3 873,656.4 873.1,656.8 873.3,655.6 873.5,655.1 873.7,656.4 873.8,657.3 874,656.4 874.2,654.2 874.4,656.8 874.5,657.6 874.7,656.6 874.9,655.7 875.1,655.2 875.2,654.9 875.4,657.2 875.6,655.7 875.8,655.7 875.9,655.8 876.1,655.8 876.3,656.2 876.5,655.6 876.6,656.2 876.8,655.5 877,655.2 877.2,654.4 877.3,656 877.5,657.1 877.7,656.5 877.9,656.9 878,655.6 878.2,655.2 878.4,655.2 878.6,654.9 878.7,656.6 878.9,657 879.1,655.3 879.3,656.3 879.4,654.7 879.6,656.2 879.8,656.6 880,655.2 880.1,657 880.3,655.5 880.5,656.1 880.7,657.3 880.8,654.5 881,656.3 881.2,655.6 881.4,657.2 881.6,655.8 881.7,655.7 881.9,656.3 882.1,657.4 882.3,655.3 882.4,655 882.6,655.2 882.8,657.3 883,654.2 883.1,654.8 883.3,655.2 883.5,655 883.7,655.6 883.8,655.1 884,654 884.2,657.8 884.4,656.7 884.5,655.6 884.7,655.3 884.9,655.1 885.1,654.1 885.2,654.8 885.4,655.9 885.6,656 885.8,657 885.9,655.7 886.1,655.2 886.3,656.6 886.5,656.3 886.6,654.6 886.8,655.1 887,656.5 887.2,655.1 887.3,655.8 887.5,654.8 887.7,656.6 887.9,657.5 888,653.9 888.2,654.8 888.4,656.3 888.6,656 888.7,655.7 888.9,654.6 889.1,654.1 889.3,655.4 889.4,656.6 889.6,656.6 889.8,657.8 890,654.2 890.1,655.9 890.3,656 890.5,657.4 890.7,655.1 890.8,657 891,654.3 891.2,656.7 891.4,654.9 891.5,654.8 891.7,656 891.9,655.3 892.1,655.9 892.2,655.6 892.4,654.9 892.6,656.4 892.8,655.4 892.9,655 893.1,655 893.3,653.9 893.5,654.5 893.6,655.9 893.8,655.8 894,655.5 894.2,656.8 894.3,655.6 894.5,655.6 894.7,656.1 894.9,656.2 895,656.7 895.2,655.2 895.4,655.7 895.6,655.6 895.7,655.3 895.9,655.6 896.1,656.5 896.3,657 896.4,655.7 896.6,655.7 896.8,655.9 897,656.7 897.1,656.2 897.3,657.1 897.5,657.3 897.7,656.7 897.8,655.2 898,655.3 898.2,655.2 898.4,655.3 898.5,656.6 898.7,655.1 898.9,656.1 899.1,655.3 899.2,654.9 899.4,656.8 899.6,654.4 899.8,656.9 899.9,654.4 900.1,656.1 900.3,655.9 900.5,655.9 900.6,655.6 900.8,655.1 901,655.4 901.2,656.9 901.3,656.5 901.5,657.7 901.7,656.7 901.9,656.6 902,655.9 902.2,655.5 902.4,656.9 902.6,655.4 902.7,655.4 902.9,655.1 903.1,656.1 903.3,658.5 903.5,655.4 903.6,654.1 903.8,655 904,656.4 904.2,655.3 904.3,655.2 904.5,656.2 904.7,655.5 904.9,654.8 905,656 905.2,654.7 905.4,655.5 905.6,657.2 905.7,653.6 905.9,657 906.1,653.9 906.3,655.8 906.4,653.7 906.6,655.3 906.8,654.5 907,655 907.1,654.8 907.3,656.9 907.5,656.4 907.7,654.2 907.8,654 908,655.4 908.2,654.3 908.4,657.3 908.5,657.6 908.7,656.1 908.9,654 909.1,654.9 909.2,656.4 909.4,654.7 909.6,656.2 909.8,655.6 909.9,656.4 910.1,655.5 910.3,655.4 910.5,654.3 910.6,655.4 910.8,654.7 911,656.1 911.2,654.2 911.3,656.3 911.5,656.4 911.7,656.1 911.9,654.1 912,654.3 912.2,655.6 912.4,655.6 912.6,655.1 912.7,655.3 912.9,654.5 913.1,654.5 913.3,654.5 913.4,654.9 913.6,655.3 913.8,655.1 914,654.6 914.1,656.4 914.3,655.6 914.5,654.5 914.7,657.8 914.8,653.1 915,656 915.2,655.7 915.4,654.9 915.5,654.5 915.7,655.3 915.9,656.4 916.1,656.2 916.2,656.1 916.4,655.6 916.6,655.5 916.8,656.3 916.9,655.5 917.1,655.6 917.3,656.6 917.5,654.9 917.6,655.7 917.8,655.4 918,654.7 918.2,656.7 918.3,654.6 918.5,655.1 918.7,654.6 918.9,655.8 919,655.9 919.2,656.9 919.4,656.9 919.6,656.9 919.7,655.9 919.9,656.3 920.1,655.2 920.3,654.5 920.4,656.5 920.6,654.7 920.8,656 921,656.8 921.1,655.4 921.3,656.7 921.5,655.5 921.7,655.4 921.8,656 922,657.1 922.2,654.3 922.4,655.7 922.5,654.8 922.7,655.7 922.9,655.9 923.1,654.2 923.2,654.5 923.4,656.2 923.6,655.8 923.8,654.9 923.9,655.5 924.1,656.3 924.3,656.2 924.5,653.5 924.6,654.9 924.8,656.9 925,655.1 925.2,655 925.4,655.5 925.5,655.7 925.7,655.6 925.9,655.7 926.1,654.7 926.2,655.8 926.4,656.1 926.6,655.5 926.8,655.2 926.9,654.8 927.1,655.5 927.3,654.3 927.5,654.9 927.6,655.2 927.8,653.3 928,655.5 928.2,653.9 928.3,654.5 928.5,654.5 928.7,654.9 928.9,655.1 929,655.8 929.2,654.3 929.4,654.9 929.6,655.6 929.7,654.7 929.9,654.6 930.1,655.4 930.3,655.8 930.4,655.7 930.6,654 930.8,655.3 931,655.2 931.1,656.8 931.3,655.2 931.5,655 931.7,656.5 931.8,654.5 932,656.4 932.2,656.4 932.4,655.1 932.5,655.5 932.7,655.8 932.9,657.3 933.1,655.5 933.2,654.9 933.4,655.9 933.6,655.4 933.8,654.6 933.9,655.3 934.1,655.7 934.3,656.4 934.5,655.8 934.6,656.2 934.8,654.8 935,656.3 935.2,654.7 935.3,654.6 935.5,654.9 935.7,654.6 935.9,655.4 936,655.9 936.2,655.4 936.4,654.9 936.6,655.5 936.7,654.8 936.9,656.2 937.1,656.6 937.3,655.1 937.4,655 937.6,656.2 937.8,657.4 938,655.1 938.1,656.5 938.3,655.8 938.5,654.5 938.7,655.3 938.8,655.6 939,654.9 939.2,657 939.4,653.2 939.5,654.8 939.7,654.8 939.9,654.6 940.1,654.6 940.2,655.3 940.4,655.7 940.6,655.3 940.8,655.8 940.9,655.1 941.1,654.3 941.3,654.6 941.5,656.3 941.6,654.7 941.8,654.8 942,655.6 942.2,655.7 942.3,655.2 942.5,655.9 942.7,656.5 942.9,656.7 943,655.4 943.2,654 943.4,654.3 943.6,654.3 943.7,655.5 943.9,656.3 944.1,655.6 944.3,656 944.4,657.9 944.6,654.1 944.8,656.4 945,655.2 945.1,654.7 945.3,654.9 945.5,654.9 945.7,656.9 945.8,655.6 946,656.4 946.2,654 946.4,656.6 946.5,655.6 946.7,656.1 946.9,654.4 947.1,655.7 947.3,655.3 947.4,655 947.6,655.2 947.8,655.4 948,655.7 948.1,654.5 948.3,655.9 948.5,654.1 948.7,654.3 948.8,653.7 949,652.7 949.2,656.7 949.4,656.7 949.5,654.7 949.7,654.8 949.9,654.3 950.1,655.2 950.2,655.1 950.4,654.1 950.6,655.1 950.8,653.9 950.9,654.9 951.1,656.2 951.3,655.7 951.5,655.5 951.6,654.9 951.8,656.9 952,654.9 952.2,653.2 952.3,654.8 952.5,653.1 952.7,655.1 952.9,654.9 953,656.4 953.2,656.4 953.4,654.8 953.6,654.9 953.7,655.8 953.9,654.2 954.1,654.4 954.3,656.4 954.4,654.2 954.6,655.3 954.8,657.3 955,654.8 955.1,656.8 955.3,653.9 955.5,654.4 955.7,656.4 955.8,655.8 956,655.2 956.2,655.1 956.4,656.1 956.5,656.8 956.7,654.1 956.9,654.6 957.1,656 957.2,654.9 957.4,656 957.6,654.3 957.8,656.4 957.9,655.8 958.1,655.4 958.3,655.5 958.5,656.6 958.6,654.1 958.8,655.4 959,654.4 959.2,654.4 959.3,656.4 959.5,655.6 959.7,655.4 959.9,655.8 960,654.5 960.2,656.3 960.4,654.8 960.6,655.7 960.7,655.2 960.9,656 961.1,654.3 961.3,655.8 961.4,655.9 961.6,655.3 961.8,654.7 962,654.2 962.1,654.7 962.3,655.4 962.5,654.7 962.7,653.6 962.8,655.7 963,655.6 963.2,654.7 963.4,653.9 963.5,654.5 963.7,654.6 963.9,654.5 964.1,655.2 964.2,653.3 964.4,655.1 964.6,654.7 964.8,655.8 964.9,654.2 965.1,654.9 965.3,654.7 965.5,653.2 965.6,657 965.8,654.7 966,655.4 966.2,655.1 966.3,654.9 966.5,654.9 966.7,653.2 966.9,655.3 967,654.5 967.2,654.8 967.4,656 967.6,655.1 967.7,656.8 967.9,656.1 968.1,655.9 968.3,655.4 968.4,654.2 968.6,657.1 968.8,656.6"/></svg>
<rect x="49" y="2" width="919.8" height="684" fill="none" stroke="#000" stroke-width="2"/>
<line x1="48" y1="686" x2="969.8" y2="686" stroke="#000" stroke-width="3"/>
<path d="M49.0 686V694M92.8 686V701M136.6 686V694M180.4 686V701M224.2 686V694M268.0 686V701M311.8 686V694M355.6 686V701M399.4 686V694M443.2 686V701M487.0 686V694M530.8 686V701M574.6 686V694M618.4 686V701M662.2 686V694M706.0 686V701M749.8 686V694M793.6 686V701M837.4 686V694M881.2 686V701M925.0 686V694M968.8 686V701" stroke="#000" stroke-width="2.5" fill="none"/>
<text x="92.8" y="730.2" text-anchor="middle" class="tl">10</text>
<text x="180.4" y="730.2" text-anchor="middle" class="tl">20</text>
<text x="268.0" y="730.2" text-anchor="middle" class="tl">30</text>
<text x="355.6" y="730.2" text-anchor="middle" class="tl">40</text>
<text x="443.2" y="730.2" text-anchor="middle" class="tl">50</text>
<text x="530.8" y="730.2" text-anchor="middle" class="tl">60</text>
<text x="618.4" y="730.2" text-anchor="middle" class="tl">70</text>
<text x="706.0" y="730.2" text-anchor="middle" class="tl">80</text>
<text x="793.6" y="730.2" text-anchor="middle" class="tl">90</text>
<text x="881.2" y="730.2" text-anchor="middle" class="tl">100</text>
<text x="968.8" y="730.2" text-anchor="middle" class="tl">110</text>
<text y="769" class="al"><tspan x="471">2</tspan><tspan x="514">(</tspan><tspan x="524.6" dy="-17.2" font-size="20">o</tspan><tspan x="535.8" dy="17.2">)</tspan></text>
<text class="al" transform="translate(489.6,769) scale(0.8,1)">θ</text>
<text transform="translate(27.5,353.6) rotate(-90)" text-anchor="middle" class="il">Intensity (a. u.)</text>
<text x="58.2" y="35.5" class="pl" letter-spacing="0.7">(b) <tspan font-style="italic">i</tspan>-BWO</text>
<g transform="translate(-1.7,0)">
<g fill="#000"><rect x="767.7" y="20" width="2" height="2"/><rect x="773.4" y="20" width="2" height="2"/><rect x="767.7" y="25.9" width="2" height="2"/><rect x="773.4" y="25.9" width="2" height="2"/></g>
<line x1="735" y1="74.7" x2="808" y2="74.7" stroke="#e80e16" stroke-width="2.5"/>
<line x1="734.4" y1="124.8" x2="808.1" y2="124.8" stroke="#78a850" stroke-width="1.6"/>
<text x="816" y="35" class="lg">Y</text><text x="838" y="48" class="sb">Obs</text>
<text x="816" y="85.3" class="lg">Y</text><text x="838" y="98.3" class="sb">Calc</text>
<text x="816" y="135.5" class="lg">Y</text><text x="838" y="148.5" class="sb">Obs</text><text x="879" y="135.5" class="lg">-</text><text x="898.6" y="135.5" class="lg">Y</text><text x="921" y="148.5" class="sb">Calc</text>
</g>
</g>
</svg>
</body></html>
